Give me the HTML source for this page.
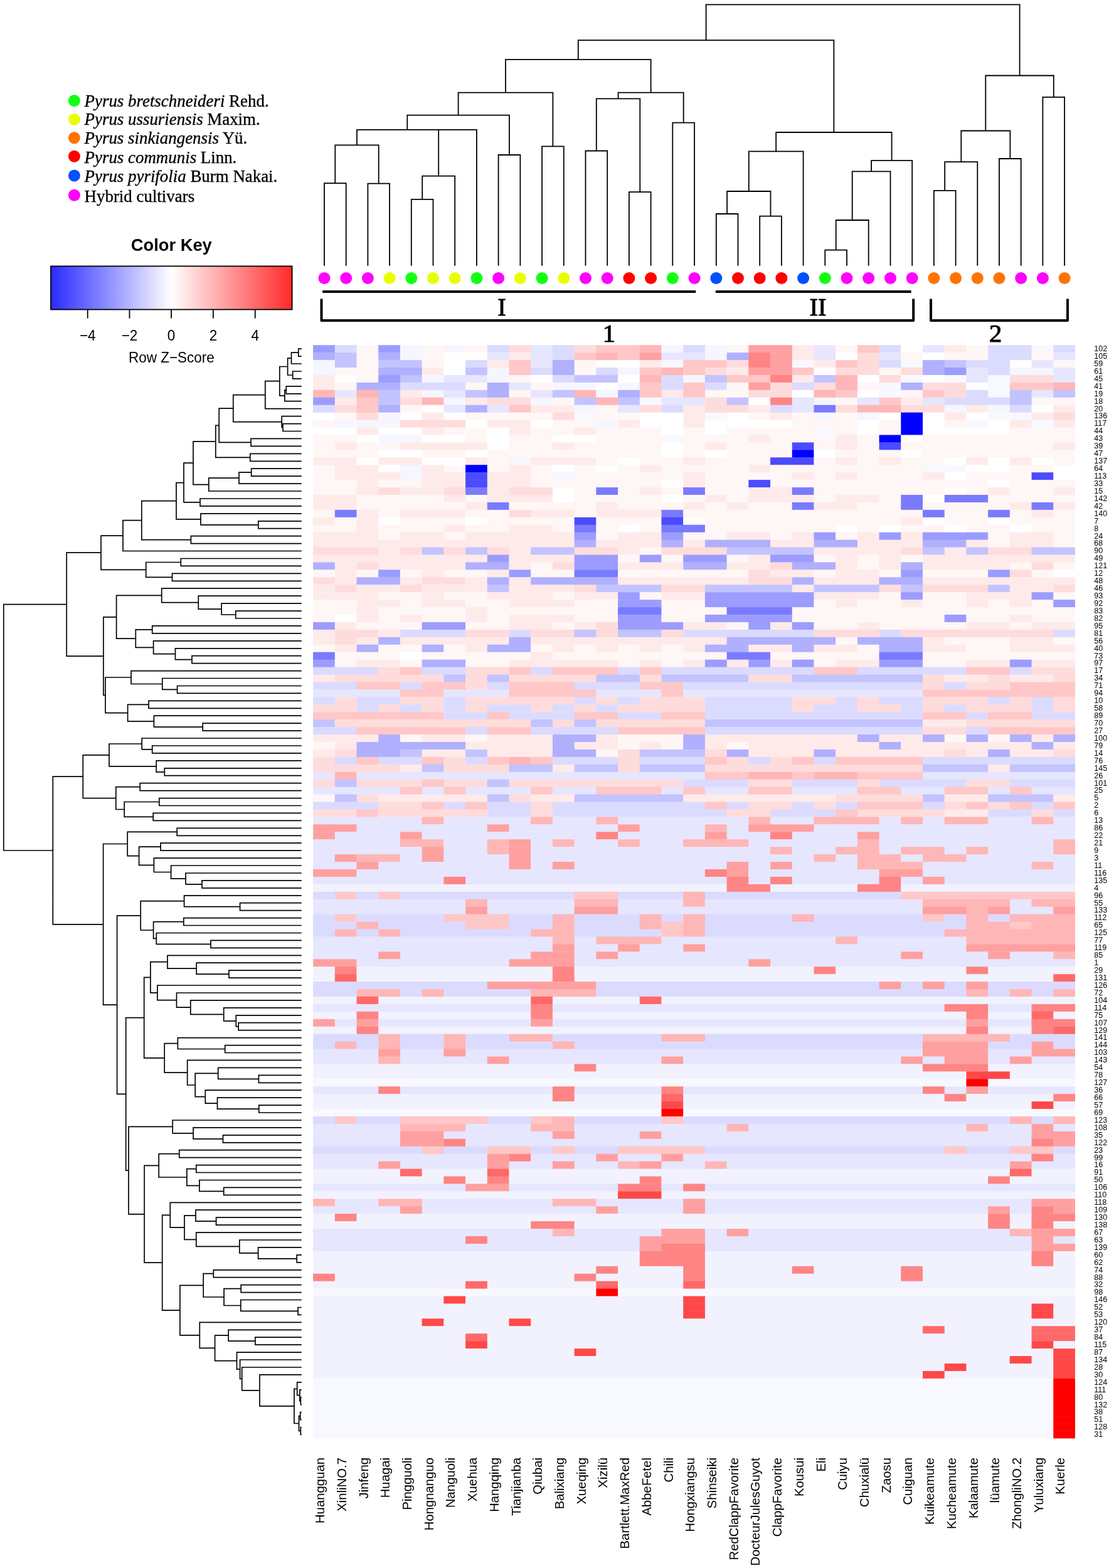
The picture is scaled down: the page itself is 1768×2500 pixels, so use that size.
<!DOCTYPE html><html><head><meta charset="utf-8"><title>Heatmap</title><style>html,body{margin:0;padding:0;background:#fff;}svg{display:block;}.s{font-family:"Liberation Sans",Arial,sans-serif;}.r{font-family:"Liberation Serif","Times New Roman",serif;}</style></head><body>
<svg width="1768" height="2500" viewBox="0 0 1768 2500">
<rect width="1768" height="2500" fill="#fff"/>
<g>
<rect x="499.10" y="550.20" width="35.11" height="12.34" fill="#9c9cff"/>
<rect x="533.81" y="550.20" width="35.11" height="12.34" fill="#dbdbff"/>
<rect x="568.52" y="550.20" width="35.11" height="12.34" fill="#fff6f6"/>
<rect x="603.23" y="550.20" width="35.11" height="12.34" fill="#9c9cff"/>
<rect x="637.95" y="550.20" width="35.11" height="12.34" fill="#f6f6ff"/>
<rect x="672.66" y="550.20" width="35.11" height="12.34" fill="#fff6f6"/>
<rect x="707.37" y="550.20" width="35.11" height="12.34" fill="#f6f6ff"/>
<rect x="742.08" y="550.20" width="35.11" height="12.34" fill="#fff6f6"/>
<rect x="776.79" y="550.20" width="35.11" height="12.34" fill="#dbdbff"/>
<rect x="811.50" y="550.20" width="35.11" height="12.34" fill="#ffdcdc"/>
<rect x="846.21" y="550.20" width="35.11" height="12.34" fill="#e6e6ff"/>
<rect x="880.93" y="550.20" width="35.11" height="12.34" fill="#dbdbff"/>
<rect x="915.64" y="550.20" width="35.11" height="12.34" fill="#ffdcdc"/>
<rect x="950.35" y="550.20" width="69.82" height="12.34" fill="#ffc7c7"/>
<rect x="1019.77" y="550.20" width="35.11" height="12.34" fill="#ffb6b6"/>
<rect x="1054.48" y="550.20" width="35.11" height="12.34" fill="#f6f6ff"/>
<rect x="1089.19" y="550.20" width="35.11" height="12.34" fill="#dbdbff"/>
<rect x="1123.91" y="550.20" width="35.11" height="12.34" fill="#f6f6ff"/>
<rect x="1158.62" y="550.20" width="35.11" height="12.34" fill="#fff6f6"/>
<rect x="1193.33" y="550.20" width="69.82" height="12.34" fill="#ffa0a0"/>
<rect x="1262.75" y="550.20" width="35.11" height="12.34" fill="#ffeaea"/>
<rect x="1297.46" y="550.20" width="35.11" height="12.34" fill="#e6e6ff"/>
<rect x="1332.17" y="550.20" width="35.11" height="12.34" fill="#fff6f6"/>
<rect x="1366.89" y="550.20" width="35.11" height="12.34" fill="#ffc7c7"/>
<rect x="1401.60" y="550.20" width="35.11" height="12.34" fill="#dbdbff"/>
<rect x="1436.31" y="550.20" width="35.11" height="12.34" fill="#ffffff"/>
<rect x="1471.02" y="550.20" width="35.11" height="12.34" fill="#e6e6ff"/>
<rect x="1505.73" y="550.20" width="35.11" height="12.34" fill="#ffeaea"/>
<rect x="1540.44" y="550.20" width="35.11" height="12.34" fill="#fff6f6"/>
<rect x="1575.15" y="550.20" width="69.82" height="12.34" fill="#dbdbff"/>
<rect x="1644.58" y="550.20" width="35.11" height="12.34" fill="#f8f8ff"/>
<rect x="1679.29" y="550.20" width="34.71" height="12.34" fill="#dbdbff"/>
<rect x="499.10" y="562.14" width="35.11" height="12.34" fill="#b0b0ff"/>
<rect x="533.81" y="562.14" width="35.11" height="12.34" fill="#c3c3ff"/>
<rect x="568.52" y="562.14" width="35.11" height="12.34" fill="#fff6f6"/>
<rect x="603.23" y="562.14" width="35.11" height="12.34" fill="#b0b0ff"/>
<rect x="637.95" y="562.14" width="35.11" height="12.34" fill="#f6f6ff"/>
<rect x="672.66" y="562.14" width="35.11" height="12.34" fill="#fff6f6"/>
<rect x="707.37" y="562.14" width="69.82" height="12.34" fill="#ffffff"/>
<rect x="776.79" y="562.14" width="35.11" height="12.34" fill="#e6e6ff"/>
<rect x="811.50" y="562.14" width="35.11" height="12.34" fill="#ffeaea"/>
<rect x="846.21" y="562.14" width="35.11" height="12.34" fill="#e6e6ff"/>
<rect x="880.93" y="562.14" width="35.11" height="12.34" fill="#dbdbff"/>
<rect x="915.64" y="562.14" width="35.11" height="12.34" fill="#ffc7c7"/>
<rect x="950.35" y="562.14" width="35.11" height="12.34" fill="#ffb6b6"/>
<rect x="985.06" y="562.14" width="35.11" height="12.34" fill="#ffc7c7"/>
<rect x="1019.77" y="562.14" width="35.11" height="12.34" fill="#ffa0a0"/>
<rect x="1054.48" y="562.14" width="69.82" height="12.34" fill="#e6e6ff"/>
<rect x="1123.91" y="562.14" width="35.11" height="12.34" fill="#f6f6ff"/>
<rect x="1158.62" y="562.14" width="35.11" height="12.34" fill="#b0b0ff"/>
<rect x="1193.33" y="562.14" width="35.11" height="12.34" fill="#ff8484"/>
<rect x="1228.04" y="562.14" width="35.11" height="12.34" fill="#ffa0a0"/>
<rect x="1262.75" y="562.14" width="35.11" height="12.34" fill="#ffeaea"/>
<rect x="1297.46" y="562.14" width="35.11" height="12.34" fill="#e6e6ff"/>
<rect x="1332.17" y="562.14" width="35.11" height="12.34" fill="#ffffff"/>
<rect x="1366.89" y="562.14" width="35.11" height="12.34" fill="#ffdcdc"/>
<rect x="1401.60" y="562.14" width="35.11" height="12.34" fill="#e6e6ff"/>
<rect x="1436.31" y="562.14" width="35.11" height="12.34" fill="#fff6f6"/>
<rect x="1471.02" y="562.14" width="35.11" height="12.34" fill="#ffffff"/>
<rect x="1505.73" y="562.14" width="69.82" height="12.34" fill="#fff6f6"/>
<rect x="1575.15" y="562.14" width="69.82" height="12.34" fill="#dbdbff"/>
<rect x="1644.58" y="562.14" width="35.11" height="12.34" fill="#fff6f6"/>
<rect x="1679.29" y="562.14" width="34.71" height="12.34" fill="#e6e6ff"/>
<rect x="499.10" y="574.08" width="35.11" height="12.34" fill="#f6f6ff"/>
<rect x="533.81" y="574.08" width="35.11" height="12.34" fill="#c3c3ff"/>
<rect x="568.52" y="574.08" width="35.11" height="12.34" fill="#fff6f6"/>
<rect x="603.23" y="574.08" width="69.82" height="12.34" fill="#c3c3ff"/>
<rect x="672.66" y="574.08" width="35.11" height="12.34" fill="#fff6f6"/>
<rect x="707.37" y="574.08" width="35.11" height="12.34" fill="#ffffff"/>
<rect x="742.08" y="574.08" width="35.11" height="12.34" fill="#dbdbff"/>
<rect x="776.79" y="574.08" width="35.11" height="12.34" fill="#ffeaea"/>
<rect x="811.50" y="574.08" width="35.11" height="12.34" fill="#ffc7c7"/>
<rect x="846.21" y="574.08" width="35.11" height="12.34" fill="#e6e6ff"/>
<rect x="880.93" y="574.08" width="35.11" height="12.34" fill="#b0b0ff"/>
<rect x="915.64" y="574.08" width="35.11" height="12.34" fill="#fff6f6"/>
<rect x="950.35" y="574.08" width="69.82" height="12.34" fill="#ffffff"/>
<rect x="1019.77" y="574.08" width="35.11" height="12.34" fill="#ffeaea"/>
<rect x="1054.48" y="574.08" width="35.11" height="12.34" fill="#f8f8ff"/>
<rect x="1089.19" y="574.08" width="69.82" height="12.34" fill="#ffc7c7"/>
<rect x="1158.62" y="574.08" width="35.11" height="12.34" fill="#ffdcdc"/>
<rect x="1193.33" y="574.08" width="35.11" height="12.34" fill="#ff8484"/>
<rect x="1228.04" y="574.08" width="35.11" height="12.34" fill="#ffa0a0"/>
<rect x="1262.75" y="574.08" width="35.11" height="12.34" fill="#f8f8ff"/>
<rect x="1297.46" y="574.08" width="35.11" height="12.34" fill="#ffeaea"/>
<rect x="1332.17" y="574.08" width="35.11" height="12.34" fill="#ffc7c7"/>
<rect x="1366.89" y="574.08" width="35.11" height="12.34" fill="#ffdcdc"/>
<rect x="1401.60" y="574.08" width="35.11" height="12.34" fill="#dbdbff"/>
<rect x="1436.31" y="574.08" width="35.11" height="12.34" fill="#f8f8ff"/>
<rect x="1471.02" y="574.08" width="35.11" height="12.34" fill="#b0b0ff"/>
<rect x="1505.73" y="574.08" width="35.11" height="12.34" fill="#c3c3ff"/>
<rect x="1540.44" y="574.08" width="69.82" height="12.34" fill="#dbdbff"/>
<rect x="1609.87" y="574.08" width="35.11" height="12.34" fill="#ffffff"/>
<rect x="1644.58" y="574.08" width="35.11" height="12.34" fill="#e6e6ff"/>
<rect x="1679.29" y="574.08" width="34.71" height="12.34" fill="#fff6f6"/>
<rect x="499.10" y="586.02" width="35.11" height="12.34" fill="#f6f6ff"/>
<rect x="533.81" y="586.02" width="69.82" height="12.34" fill="#fff6f6"/>
<rect x="603.23" y="586.02" width="69.82" height="12.34" fill="#b0b0ff"/>
<rect x="672.66" y="586.02" width="35.11" height="12.34" fill="#ffeaea"/>
<rect x="707.37" y="586.02" width="35.11" height="12.34" fill="#ffffff"/>
<rect x="742.08" y="586.02" width="35.11" height="12.34" fill="#c3c3ff"/>
<rect x="776.79" y="586.02" width="35.11" height="12.34" fill="#f6f6ff"/>
<rect x="811.50" y="586.02" width="35.11" height="12.34" fill="#ffc7c7"/>
<rect x="846.21" y="586.02" width="35.11" height="12.34" fill="#dbdbff"/>
<rect x="880.93" y="586.02" width="35.11" height="12.34" fill="#b0b0ff"/>
<rect x="915.64" y="586.02" width="35.11" height="12.34" fill="#fff6f6"/>
<rect x="950.35" y="586.02" width="35.11" height="12.34" fill="#dbdbff"/>
<rect x="985.06" y="586.02" width="35.11" height="12.34" fill="#f6f6ff"/>
<rect x="1019.77" y="586.02" width="35.11" height="12.34" fill="#ffc7c7"/>
<rect x="1054.48" y="586.02" width="35.11" height="12.34" fill="#ffb6b6"/>
<rect x="1089.19" y="586.02" width="35.11" height="12.34" fill="#ffc7c7"/>
<rect x="1123.91" y="586.02" width="35.11" height="12.34" fill="#ffdcdc"/>
<rect x="1158.62" y="586.02" width="35.11" height="12.34" fill="#ffeaea"/>
<rect x="1193.33" y="586.02" width="69.82" height="12.34" fill="#ffa0a0"/>
<rect x="1262.75" y="586.02" width="35.11" height="12.34" fill="#ffc7c7"/>
<rect x="1297.46" y="586.02" width="35.11" height="12.34" fill="#ffffff"/>
<rect x="1332.17" y="586.02" width="69.82" height="12.34" fill="#ffdcdc"/>
<rect x="1401.60" y="586.02" width="35.11" height="12.34" fill="#fff6f6"/>
<rect x="1436.31" y="586.02" width="35.11" height="12.34" fill="#ffdcdc"/>
<rect x="1471.02" y="586.02" width="35.11" height="12.34" fill="#b0b0ff"/>
<rect x="1505.73" y="586.02" width="35.11" height="12.34" fill="#9c9cff"/>
<rect x="1540.44" y="586.02" width="35.11" height="12.34" fill="#e6e6ff"/>
<rect x="1575.15" y="586.02" width="35.11" height="12.34" fill="#dbdbff"/>
<rect x="1609.87" y="586.02" width="69.82" height="12.34" fill="#f6f6ff"/>
<rect x="1679.29" y="586.02" width="34.71" height="12.34" fill="#e6e6ff"/>
<rect x="499.10" y="597.96" width="35.11" height="12.34" fill="#ffeaea"/>
<rect x="533.81" y="597.96" width="35.11" height="12.34" fill="#ffffff"/>
<rect x="568.52" y="597.96" width="35.11" height="12.34" fill="#fff6f6"/>
<rect x="603.23" y="597.96" width="35.11" height="12.34" fill="#9c9cff"/>
<rect x="637.95" y="597.96" width="35.11" height="12.34" fill="#c3c3ff"/>
<rect x="672.66" y="597.96" width="35.11" height="12.34" fill="#f6f6ff"/>
<rect x="707.37" y="597.96" width="69.82" height="12.34" fill="#e6e6ff"/>
<rect x="776.79" y="597.96" width="35.11" height="12.34" fill="#f6f6ff"/>
<rect x="811.50" y="597.96" width="35.11" height="12.34" fill="#fff6f6"/>
<rect x="846.21" y="597.96" width="35.11" height="12.34" fill="#ffffff"/>
<rect x="880.93" y="597.96" width="35.11" height="12.34" fill="#dbdbff"/>
<rect x="915.64" y="597.96" width="69.82" height="12.34" fill="#c3c3ff"/>
<rect x="985.06" y="597.96" width="35.11" height="12.34" fill="#ffffff"/>
<rect x="1019.77" y="597.96" width="35.11" height="12.34" fill="#ffb6b6"/>
<rect x="1054.48" y="597.96" width="35.11" height="12.34" fill="#dbdbff"/>
<rect x="1089.19" y="597.96" width="35.11" height="12.34" fill="#f6f6ff"/>
<rect x="1123.91" y="597.96" width="35.11" height="12.34" fill="#c3c3ff"/>
<rect x="1158.62" y="597.96" width="69.82" height="12.34" fill="#ffc7c7"/>
<rect x="1228.04" y="597.96" width="35.11" height="12.34" fill="#ff8484"/>
<rect x="1262.75" y="597.96" width="35.11" height="12.34" fill="#ffeaea"/>
<rect x="1297.46" y="597.96" width="35.11" height="12.34" fill="#c3c3ff"/>
<rect x="1332.17" y="597.96" width="35.11" height="12.34" fill="#ffb6b6"/>
<rect x="1366.89" y="597.96" width="35.11" height="12.34" fill="#ffffff"/>
<rect x="1401.60" y="597.96" width="35.11" height="12.34" fill="#ffdcdc"/>
<rect x="1436.31" y="597.96" width="35.11" height="12.34" fill="#f8f8ff"/>
<rect x="1471.02" y="597.96" width="35.11" height="12.34" fill="#ffffff"/>
<rect x="1505.73" y="597.96" width="35.11" height="12.34" fill="#f8f8ff"/>
<rect x="1540.44" y="597.96" width="35.11" height="12.34" fill="#e6e6ff"/>
<rect x="1575.15" y="597.96" width="35.11" height="12.34" fill="#f8f8ff"/>
<rect x="1609.87" y="597.96" width="69.82" height="12.34" fill="#ffdcdc"/>
<rect x="1679.29" y="597.96" width="34.71" height="12.34" fill="#e6e6ff"/>
<rect x="499.10" y="609.90" width="35.11" height="12.34" fill="#ffeaea"/>
<rect x="533.81" y="609.90" width="35.11" height="12.34" fill="#fff6f6"/>
<rect x="568.52" y="609.90" width="69.82" height="12.34" fill="#b0b0ff"/>
<rect x="637.95" y="609.90" width="104.53" height="12.34" fill="#dbdbff"/>
<rect x="742.08" y="609.90" width="35.11" height="12.34" fill="#fff6f6"/>
<rect x="776.79" y="609.90" width="35.11" height="12.34" fill="#b0b0ff"/>
<rect x="811.50" y="609.90" width="35.11" height="12.34" fill="#e6e6ff"/>
<rect x="846.21" y="609.90" width="35.11" height="12.34" fill="#fff6f6"/>
<rect x="880.93" y="609.90" width="69.82" height="12.34" fill="#f6f6ff"/>
<rect x="950.35" y="609.90" width="35.11" height="12.34" fill="#ffffff"/>
<rect x="985.06" y="609.90" width="35.11" height="12.34" fill="#f6f6ff"/>
<rect x="1019.77" y="609.90" width="35.11" height="12.34" fill="#ffc7c7"/>
<rect x="1054.48" y="609.90" width="35.11" height="12.34" fill="#dbdbff"/>
<rect x="1089.19" y="609.90" width="35.11" height="12.34" fill="#ffc7c7"/>
<rect x="1123.91" y="609.90" width="35.11" height="12.34" fill="#dbdbff"/>
<rect x="1158.62" y="609.90" width="35.11" height="12.34" fill="#fff6f6"/>
<rect x="1193.33" y="609.90" width="35.11" height="12.34" fill="#ffa0a0"/>
<rect x="1228.04" y="609.90" width="35.11" height="12.34" fill="#ffdcdc"/>
<rect x="1262.75" y="609.90" width="35.11" height="12.34" fill="#dbdbff"/>
<rect x="1297.46" y="609.90" width="35.11" height="12.34" fill="#ffdcdc"/>
<rect x="1332.17" y="609.90" width="35.11" height="12.34" fill="#ffb6b6"/>
<rect x="1366.89" y="609.90" width="35.11" height="12.34" fill="#fff6f6"/>
<rect x="1401.60" y="609.90" width="35.11" height="12.34" fill="#f8f8ff"/>
<rect x="1436.31" y="609.90" width="35.11" height="12.34" fill="#b0b0ff"/>
<rect x="1471.02" y="609.90" width="69.82" height="12.34" fill="#ffdcdc"/>
<rect x="1540.44" y="609.90" width="35.11" height="12.34" fill="#ffffff"/>
<rect x="1575.15" y="609.90" width="35.11" height="12.34" fill="#f8f8ff"/>
<rect x="1609.87" y="609.90" width="69.82" height="12.34" fill="#ffc7c7"/>
<rect x="1679.29" y="609.90" width="34.71" height="12.34" fill="#ffb6b6"/>
<rect x="499.10" y="621.84" width="35.11" height="12.34" fill="#ffb6b6"/>
<rect x="533.81" y="621.84" width="35.11" height="12.34" fill="#e6e6ff"/>
<rect x="568.52" y="621.84" width="35.11" height="12.34" fill="#ffb6b6"/>
<rect x="603.23" y="621.84" width="35.11" height="12.34" fill="#c3c3ff"/>
<rect x="637.95" y="621.84" width="35.11" height="12.34" fill="#ffeaea"/>
<rect x="672.66" y="621.84" width="35.11" height="12.34" fill="#f6f6ff"/>
<rect x="707.37" y="621.84" width="35.11" height="12.34" fill="#e6e6ff"/>
<rect x="742.08" y="621.84" width="35.11" height="12.34" fill="#c3c3ff"/>
<rect x="776.79" y="621.84" width="35.11" height="12.34" fill="#b0b0ff"/>
<rect x="811.50" y="621.84" width="35.11" height="12.34" fill="#fff6f6"/>
<rect x="846.21" y="621.84" width="35.11" height="12.34" fill="#e6e6ff"/>
<rect x="880.93" y="621.84" width="35.11" height="12.34" fill="#c3c3ff"/>
<rect x="915.64" y="621.84" width="35.11" height="12.34" fill="#ffb6b6"/>
<rect x="950.35" y="621.84" width="35.11" height="12.34" fill="#f6f6ff"/>
<rect x="985.06" y="621.84" width="35.11" height="12.34" fill="#b0b0ff"/>
<rect x="1019.77" y="621.84" width="35.11" height="12.34" fill="#ffc7c7"/>
<rect x="1054.48" y="621.84" width="35.11" height="12.34" fill="#ffeaea"/>
<rect x="1089.19" y="621.84" width="35.11" height="12.34" fill="#ffc7c7"/>
<rect x="1123.91" y="621.84" width="69.82" height="12.34" fill="#fff6f6"/>
<rect x="1193.33" y="621.84" width="69.82" height="12.34" fill="#ffdcdc"/>
<rect x="1262.75" y="621.84" width="35.11" height="12.34" fill="#ffffff"/>
<rect x="1297.46" y="621.84" width="35.11" height="12.34" fill="#ffb6b6"/>
<rect x="1332.17" y="621.84" width="35.11" height="12.34" fill="#ffc7c7"/>
<rect x="1366.89" y="621.84" width="35.11" height="12.34" fill="#ffffff"/>
<rect x="1401.60" y="621.84" width="35.11" height="12.34" fill="#f8f8ff"/>
<rect x="1436.31" y="621.84" width="35.11" height="12.34" fill="#fff6f6"/>
<rect x="1471.02" y="621.84" width="35.11" height="12.34" fill="#ffc7c7"/>
<rect x="1505.73" y="621.84" width="35.11" height="12.34" fill="#ffdcdc"/>
<rect x="1540.44" y="621.84" width="35.11" height="12.34" fill="#dbdbff"/>
<rect x="1575.15" y="621.84" width="35.11" height="12.34" fill="#f8f8ff"/>
<rect x="1609.87" y="621.84" width="35.11" height="12.34" fill="#c3c3ff"/>
<rect x="1644.58" y="621.84" width="35.11" height="12.34" fill="#e6e6ff"/>
<rect x="1679.29" y="621.84" width="34.71" height="12.34" fill="#c3c3ff"/>
<rect x="499.10" y="633.78" width="35.11" height="12.34" fill="#9c9cff"/>
<rect x="533.81" y="633.78" width="35.11" height="12.34" fill="#ffeaea"/>
<rect x="568.52" y="633.78" width="35.11" height="12.34" fill="#ffc7c7"/>
<rect x="603.23" y="633.78" width="35.11" height="12.34" fill="#c3c3ff"/>
<rect x="637.95" y="633.78" width="35.11" height="12.34" fill="#ffdcdc"/>
<rect x="672.66" y="633.78" width="35.11" height="12.34" fill="#ffb6b6"/>
<rect x="707.37" y="633.78" width="35.11" height="12.34" fill="#f6f6ff"/>
<rect x="742.08" y="633.78" width="35.11" height="12.34" fill="#ffeaea"/>
<rect x="776.79" y="633.78" width="69.82" height="12.34" fill="#ffdcdc"/>
<rect x="846.21" y="633.78" width="35.11" height="12.34" fill="#f6f6ff"/>
<rect x="880.93" y="633.78" width="35.11" height="12.34" fill="#fff6f6"/>
<rect x="915.64" y="633.78" width="35.11" height="12.34" fill="#c3c3ff"/>
<rect x="950.35" y="633.78" width="35.11" height="12.34" fill="#ffb6b6"/>
<rect x="985.06" y="633.78" width="35.11" height="12.34" fill="#c3c3ff"/>
<rect x="1019.77" y="633.78" width="35.11" height="12.34" fill="#f8f8ff"/>
<rect x="1054.48" y="633.78" width="69.82" height="12.34" fill="#e6e6ff"/>
<rect x="1123.91" y="633.78" width="35.11" height="12.34" fill="#ffdcdc"/>
<rect x="1158.62" y="633.78" width="35.11" height="12.34" fill="#c3c3ff"/>
<rect x="1193.33" y="633.78" width="35.11" height="12.34" fill="#ffffff"/>
<rect x="1228.04" y="633.78" width="35.11" height="12.34" fill="#ff8484"/>
<rect x="1262.75" y="633.78" width="35.11" height="12.34" fill="#e6e6ff"/>
<rect x="1297.46" y="633.78" width="35.11" height="12.34" fill="#f6f6ff"/>
<rect x="1332.17" y="633.78" width="35.11" height="12.34" fill="#fff6f6"/>
<rect x="1366.89" y="633.78" width="35.11" height="12.34" fill="#e6e6ff"/>
<rect x="1401.60" y="633.78" width="35.11" height="12.34" fill="#ffc7c7"/>
<rect x="1436.31" y="633.78" width="35.11" height="12.34" fill="#ffeaea"/>
<rect x="1471.02" y="633.78" width="35.11" height="12.34" fill="#e6e6ff"/>
<rect x="1505.73" y="633.78" width="104.53" height="12.34" fill="#dbdbff"/>
<rect x="1609.87" y="633.78" width="35.11" height="12.34" fill="#c3c3ff"/>
<rect x="1644.58" y="633.78" width="69.42" height="12.34" fill="#fff6f6"/>
<rect x="499.10" y="645.72" width="35.11" height="12.34" fill="#dbdbff"/>
<rect x="533.81" y="645.72" width="35.11" height="12.34" fill="#ffdcdc"/>
<rect x="568.52" y="645.72" width="35.11" height="12.34" fill="#ffc7c7"/>
<rect x="603.23" y="645.72" width="35.11" height="12.34" fill="#b0b0ff"/>
<rect x="637.95" y="645.72" width="35.11" height="12.34" fill="#fff6f6"/>
<rect x="672.66" y="645.72" width="35.11" height="12.34" fill="#ffffff"/>
<rect x="707.37" y="645.72" width="35.11" height="12.34" fill="#e6e6ff"/>
<rect x="742.08" y="645.72" width="35.11" height="12.34" fill="#b0b0ff"/>
<rect x="776.79" y="645.72" width="35.11" height="12.34" fill="#e6e6ff"/>
<rect x="811.50" y="645.72" width="35.11" height="12.34" fill="#ffc7c7"/>
<rect x="846.21" y="645.72" width="69.82" height="12.34" fill="#ffeaea"/>
<rect x="915.64" y="645.72" width="35.11" height="12.34" fill="#f6f6ff"/>
<rect x="950.35" y="645.72" width="35.11" height="12.34" fill="#fff6f6"/>
<rect x="985.06" y="645.72" width="35.11" height="12.34" fill="#e6e6ff"/>
<rect x="1019.77" y="645.72" width="35.11" height="12.34" fill="#ffdcdc"/>
<rect x="1054.48" y="645.72" width="35.11" height="12.34" fill="#dbdbff"/>
<rect x="1089.19" y="645.72" width="35.11" height="12.34" fill="#ffeaea"/>
<rect x="1123.91" y="645.72" width="69.82" height="12.34" fill="#ffdcdc"/>
<rect x="1193.33" y="645.72" width="35.11" height="12.34" fill="#ffeaea"/>
<rect x="1228.04" y="645.72" width="35.11" height="12.34" fill="#dbdbff"/>
<rect x="1262.75" y="645.72" width="35.11" height="12.34" fill="#e6e6ff"/>
<rect x="1297.46" y="645.72" width="35.11" height="12.34" fill="#7a7aff"/>
<rect x="1332.17" y="645.72" width="35.11" height="12.34" fill="#ffdcdc"/>
<rect x="1366.89" y="645.72" width="69.82" height="12.34" fill="#ffb6b6"/>
<rect x="1436.31" y="645.72" width="69.82" height="12.34" fill="#ffdcdc"/>
<rect x="1505.73" y="645.72" width="35.11" height="12.34" fill="#f6f6ff"/>
<rect x="1540.44" y="645.72" width="35.11" height="12.34" fill="#ffeaea"/>
<rect x="1575.15" y="645.72" width="35.11" height="12.34" fill="#f6f6ff"/>
<rect x="1609.87" y="645.72" width="35.11" height="12.34" fill="#dbdbff"/>
<rect x="1644.58" y="645.72" width="35.11" height="12.34" fill="#ffffff"/>
<rect x="1679.29" y="645.72" width="34.71" height="12.34" fill="#ffeaea"/>
<rect x="499.10" y="657.66" width="35.11" height="12.34" fill="#ffffff"/>
<rect x="533.81" y="657.66" width="35.11" height="12.34" fill="#fff6f6"/>
<rect x="568.52" y="657.66" width="35.11" height="12.34" fill="#ffdcdc"/>
<rect x="603.23" y="657.66" width="35.11" height="12.34" fill="#f6f6ff"/>
<rect x="637.95" y="657.66" width="35.11" height="12.34" fill="#ffffff"/>
<rect x="672.66" y="657.66" width="35.11" height="12.34" fill="#ffeaea"/>
<rect x="707.37" y="657.66" width="35.11" height="12.34" fill="#ffffff"/>
<rect x="742.08" y="657.66" width="139.25" height="12.34" fill="#fff6f6"/>
<rect x="880.93" y="657.66" width="35.11" height="12.34" fill="#ffdcdc"/>
<rect x="915.64" y="657.66" width="35.11" height="12.34" fill="#f8f8ff"/>
<rect x="950.35" y="657.66" width="69.82" height="12.34" fill="#fff6f6"/>
<rect x="1019.77" y="657.66" width="69.82" height="12.34" fill="#ffffff"/>
<rect x="1089.19" y="657.66" width="35.11" height="12.34" fill="#ffeaea"/>
<rect x="1123.91" y="657.66" width="35.11" height="12.34" fill="#f8f8ff"/>
<rect x="1158.62" y="657.66" width="35.11" height="12.34" fill="#ffffff"/>
<rect x="1193.33" y="657.66" width="35.11" height="12.34" fill="#fff6f6"/>
<rect x="1228.04" y="657.66" width="35.11" height="12.34" fill="#ffeaea"/>
<rect x="1262.75" y="657.66" width="35.11" height="12.34" fill="#fff6f6"/>
<rect x="1297.46" y="657.66" width="35.11" height="12.34" fill="#f6f6ff"/>
<rect x="1332.17" y="657.66" width="35.11" height="12.34" fill="#fff6f6"/>
<rect x="1366.89" y="657.66" width="35.11" height="12.34" fill="#f6f6ff"/>
<rect x="1401.60" y="657.66" width="35.11" height="12.34" fill="#ffffff"/>
<rect x="1436.31" y="657.66" width="35.11" height="12.34" fill="#0000ff"/>
<rect x="1471.02" y="657.66" width="35.11" height="12.34" fill="#ffffff"/>
<rect x="1505.73" y="657.66" width="35.11" height="12.34" fill="#ffeaea"/>
<rect x="1540.44" y="657.66" width="35.11" height="12.34" fill="#ffffff"/>
<rect x="1575.15" y="657.66" width="69.82" height="12.34" fill="#f8f8ff"/>
<rect x="1644.58" y="657.66" width="35.11" height="12.34" fill="#ffeaea"/>
<rect x="1679.29" y="657.66" width="34.71" height="12.34" fill="#ffdcdc"/>
<rect x="499.10" y="669.60" width="35.11" height="12.34" fill="#fff6f6"/>
<rect x="533.81" y="669.60" width="104.53" height="12.34" fill="#f6f6ff"/>
<rect x="637.95" y="669.60" width="104.53" height="12.34" fill="#ffdcdc"/>
<rect x="742.08" y="669.60" width="35.11" height="12.34" fill="#ffffff"/>
<rect x="776.79" y="669.60" width="69.82" height="12.34" fill="#ffeaea"/>
<rect x="846.21" y="669.60" width="35.11" height="12.34" fill="#ffffff"/>
<rect x="880.93" y="669.60" width="69.82" height="12.34" fill="#fff6f6"/>
<rect x="950.35" y="669.60" width="35.11" height="12.34" fill="#f6f6ff"/>
<rect x="985.06" y="669.60" width="35.11" height="12.34" fill="#ffeaea"/>
<rect x="1019.77" y="669.60" width="69.82" height="12.34" fill="#ffffff"/>
<rect x="1089.19" y="669.60" width="35.11" height="12.34" fill="#ffeaea"/>
<rect x="1123.91" y="669.60" width="139.25" height="12.34" fill="#ffffff"/>
<rect x="1262.75" y="669.60" width="104.53" height="12.34" fill="#fff6f6"/>
<rect x="1366.89" y="669.60" width="35.11" height="12.34" fill="#ffffff"/>
<rect x="1401.60" y="669.60" width="35.11" height="12.34" fill="#fff6f6"/>
<rect x="1436.31" y="669.60" width="35.11" height="12.34" fill="#0000ff"/>
<rect x="1471.02" y="669.60" width="35.11" height="12.34" fill="#ffffff"/>
<rect x="1505.73" y="669.60" width="35.11" height="12.34" fill="#fff6f6"/>
<rect x="1540.44" y="669.60" width="35.11" height="12.34" fill="#f8f8ff"/>
<rect x="1575.15" y="669.60" width="35.11" height="12.34" fill="#ffffff"/>
<rect x="1609.87" y="669.60" width="35.11" height="12.34" fill="#ffeaea"/>
<rect x="1644.58" y="669.60" width="35.11" height="12.34" fill="#f8f8ff"/>
<rect x="1679.29" y="669.60" width="34.71" height="12.34" fill="#ffeaea"/>
<rect x="499.10" y="681.54" width="69.82" height="12.34" fill="#ffffff"/>
<rect x="568.52" y="681.54" width="35.11" height="12.34" fill="#ffeaea"/>
<rect x="603.23" y="681.54" width="69.82" height="12.34" fill="#ffffff"/>
<rect x="672.66" y="681.54" width="35.11" height="12.34" fill="#ffeaea"/>
<rect x="707.37" y="681.54" width="69.82" height="12.34" fill="#fff6f6"/>
<rect x="776.79" y="681.54" width="35.11" height="12.34" fill="#ffffff"/>
<rect x="811.50" y="681.54" width="35.11" height="12.34" fill="#ffeaea"/>
<rect x="846.21" y="681.54" width="69.82" height="12.34" fill="#fff6f6"/>
<rect x="915.64" y="681.54" width="35.11" height="12.34" fill="#ffeaea"/>
<rect x="950.35" y="681.54" width="104.53" height="12.34" fill="#fff6f6"/>
<rect x="1054.48" y="681.54" width="35.11" height="12.34" fill="#ffffff"/>
<rect x="1089.19" y="681.54" width="35.11" height="12.34" fill="#fff6f6"/>
<rect x="1123.91" y="681.54" width="35.11" height="12.34" fill="#ffffff"/>
<rect x="1158.62" y="681.54" width="139.25" height="12.34" fill="#fff6f6"/>
<rect x="1297.46" y="681.54" width="35.11" height="12.34" fill="#f8f8ff"/>
<rect x="1332.17" y="681.54" width="35.11" height="12.34" fill="#fff6f6"/>
<rect x="1366.89" y="681.54" width="35.11" height="12.34" fill="#ffffff"/>
<rect x="1401.60" y="681.54" width="35.11" height="12.34" fill="#fff6f6"/>
<rect x="1436.31" y="681.54" width="35.11" height="12.34" fill="#0000ff"/>
<rect x="1471.02" y="681.54" width="139.25" height="12.34" fill="#ffffff"/>
<rect x="1609.87" y="681.54" width="104.13" height="12.34" fill="#fff6f6"/>
<rect x="499.10" y="693.48" width="69.82" height="12.34" fill="#fff6f6"/>
<rect x="568.52" y="693.48" width="35.11" height="12.34" fill="#ffffff"/>
<rect x="603.23" y="693.48" width="69.82" height="12.34" fill="#f6f6ff"/>
<rect x="672.66" y="693.48" width="69.82" height="12.34" fill="#ffffff"/>
<rect x="742.08" y="693.48" width="35.11" height="12.34" fill="#fff6f6"/>
<rect x="776.79" y="693.48" width="35.11" height="12.34" fill="#ffffff"/>
<rect x="811.50" y="693.48" width="69.82" height="12.34" fill="#fff6f6"/>
<rect x="880.93" y="693.48" width="69.82" height="12.34" fill="#ffffff"/>
<rect x="950.35" y="693.48" width="104.53" height="12.34" fill="#fff6f6"/>
<rect x="1054.48" y="693.48" width="35.11" height="12.34" fill="#f8f8ff"/>
<rect x="1089.19" y="693.48" width="104.53" height="12.34" fill="#fff6f6"/>
<rect x="1193.33" y="693.48" width="35.11" height="12.34" fill="#ffeaea"/>
<rect x="1228.04" y="693.48" width="104.53" height="12.34" fill="#fff6f6"/>
<rect x="1332.17" y="693.48" width="35.11" height="12.34" fill="#ffeaea"/>
<rect x="1366.89" y="693.48" width="35.11" height="12.34" fill="#fff6f6"/>
<rect x="1401.60" y="693.48" width="35.11" height="12.34" fill="#0000ff"/>
<rect x="1436.31" y="693.48" width="35.11" height="12.34" fill="#ffffff"/>
<rect x="1471.02" y="693.48" width="242.98" height="12.34" fill="#fff6f6"/>
<rect x="499.10" y="705.42" width="35.11" height="12.34" fill="#fff6f6"/>
<rect x="533.81" y="705.42" width="35.11" height="12.34" fill="#ffeaea"/>
<rect x="568.52" y="705.42" width="69.82" height="12.34" fill="#fff6f6"/>
<rect x="637.95" y="705.42" width="139.25" height="12.34" fill="#ffeaea"/>
<rect x="776.79" y="705.42" width="35.11" height="12.34" fill="#ffffff"/>
<rect x="811.50" y="705.42" width="69.82" height="12.34" fill="#fff6f6"/>
<rect x="880.93" y="705.42" width="35.11" height="12.34" fill="#ffeaea"/>
<rect x="915.64" y="705.42" width="139.25" height="12.34" fill="#fff6f6"/>
<rect x="1054.48" y="705.42" width="35.11" height="12.34" fill="#ffffff"/>
<rect x="1089.19" y="705.42" width="35.11" height="12.34" fill="#fff6f6"/>
<rect x="1123.91" y="705.42" width="35.11" height="12.34" fill="#ffeaea"/>
<rect x="1158.62" y="705.42" width="104.53" height="12.34" fill="#fff6f6"/>
<rect x="1262.75" y="705.42" width="35.11" height="12.34" fill="#4b4bff"/>
<rect x="1297.46" y="705.42" width="35.11" height="12.34" fill="#fff6f6"/>
<rect x="1332.17" y="705.42" width="35.11" height="12.34" fill="#ffeaea"/>
<rect x="1366.89" y="705.42" width="35.11" height="12.34" fill="#fff6f6"/>
<rect x="1401.60" y="705.42" width="35.11" height="12.34" fill="#4b4bff"/>
<rect x="1436.31" y="705.42" width="243.38" height="12.34" fill="#fff6f6"/>
<rect x="1679.29" y="705.42" width="34.71" height="12.34" fill="#ffeaea"/>
<rect x="499.10" y="717.36" width="104.53" height="12.34" fill="#fff6f6"/>
<rect x="603.23" y="717.36" width="69.82" height="12.34" fill="#ffffff"/>
<rect x="672.66" y="717.36" width="69.82" height="12.34" fill="#fff6f6"/>
<rect x="742.08" y="717.36" width="35.11" height="12.34" fill="#ffffff"/>
<rect x="776.79" y="717.36" width="278.09" height="12.34" fill="#fff6f6"/>
<rect x="1054.48" y="717.36" width="35.11" height="12.34" fill="#ffffff"/>
<rect x="1089.19" y="717.36" width="35.11" height="12.34" fill="#fff6f6"/>
<rect x="1123.91" y="717.36" width="35.11" height="12.34" fill="#ffffff"/>
<rect x="1158.62" y="717.36" width="104.53" height="12.34" fill="#fff6f6"/>
<rect x="1262.75" y="717.36" width="35.11" height="12.34" fill="#0000ff"/>
<rect x="1297.46" y="717.36" width="35.11" height="12.34" fill="#ffffff"/>
<rect x="1332.17" y="717.36" width="104.53" height="12.34" fill="#fff6f6"/>
<rect x="1436.31" y="717.36" width="35.11" height="12.34" fill="#ffffff"/>
<rect x="1471.02" y="717.36" width="242.98" height="12.34" fill="#fff6f6"/>
<rect x="499.10" y="729.30" width="69.82" height="12.34" fill="#ffeaea"/>
<rect x="568.52" y="729.30" width="35.11" height="12.34" fill="#ffffff"/>
<rect x="603.23" y="729.30" width="69.82" height="12.34" fill="#ffeaea"/>
<rect x="672.66" y="729.30" width="69.82" height="12.34" fill="#ffffff"/>
<rect x="742.08" y="729.30" width="35.11" height="12.34" fill="#ffeaea"/>
<rect x="776.79" y="729.30" width="35.11" height="12.34" fill="#fff6f6"/>
<rect x="811.50" y="729.30" width="35.11" height="12.34" fill="#f6f6ff"/>
<rect x="846.21" y="729.30" width="104.53" height="12.34" fill="#ffeaea"/>
<rect x="950.35" y="729.30" width="35.11" height="12.34" fill="#fff6f6"/>
<rect x="985.06" y="729.30" width="35.11" height="12.34" fill="#ffffff"/>
<rect x="1019.77" y="729.30" width="69.82" height="12.34" fill="#fff6f6"/>
<rect x="1089.19" y="729.30" width="35.11" height="12.34" fill="#ffeaea"/>
<rect x="1123.91" y="729.30" width="104.53" height="12.34" fill="#fff6f6"/>
<rect x="1228.04" y="729.30" width="69.82" height="12.34" fill="#4b4bff"/>
<rect x="1297.46" y="729.30" width="35.11" height="12.34" fill="#fff6f6"/>
<rect x="1332.17" y="729.30" width="35.11" height="12.34" fill="#ffeaea"/>
<rect x="1366.89" y="729.30" width="35.11" height="12.34" fill="#fff6f6"/>
<rect x="1401.60" y="729.30" width="35.11" height="12.34" fill="#ffeaea"/>
<rect x="1436.31" y="729.30" width="69.82" height="12.34" fill="#fff6f6"/>
<rect x="1505.73" y="729.30" width="35.11" height="12.34" fill="#ffffff"/>
<rect x="1540.44" y="729.30" width="35.11" height="12.34" fill="#ffeaea"/>
<rect x="1575.15" y="729.30" width="35.11" height="12.34" fill="#ffffff"/>
<rect x="1609.87" y="729.30" width="35.11" height="12.34" fill="#ffeaea"/>
<rect x="1644.58" y="729.30" width="35.11" height="12.34" fill="#ffffff"/>
<rect x="1679.29" y="729.30" width="34.71" height="12.34" fill="#fff6f6"/>
<rect x="499.10" y="741.24" width="35.11" height="12.34" fill="#fff6f6"/>
<rect x="533.81" y="741.24" width="69.82" height="12.34" fill="#ffeaea"/>
<rect x="603.23" y="741.24" width="35.11" height="12.34" fill="#ffffff"/>
<rect x="637.95" y="741.24" width="35.11" height="12.34" fill="#f6f6ff"/>
<rect x="672.66" y="741.24" width="35.11" height="12.34" fill="#ffeaea"/>
<rect x="707.37" y="741.24" width="35.11" height="12.34" fill="#fff6f6"/>
<rect x="742.08" y="741.24" width="35.11" height="12.34" fill="#0000ff"/>
<rect x="776.79" y="741.24" width="35.11" height="12.34" fill="#fff6f6"/>
<rect x="811.50" y="741.24" width="35.11" height="12.34" fill="#ffeaea"/>
<rect x="846.21" y="741.24" width="35.11" height="12.34" fill="#fff6f6"/>
<rect x="880.93" y="741.24" width="35.11" height="12.34" fill="#ffffff"/>
<rect x="915.64" y="741.24" width="35.11" height="12.34" fill="#fff6f6"/>
<rect x="950.35" y="741.24" width="35.11" height="12.34" fill="#ffffff"/>
<rect x="985.06" y="741.24" width="35.11" height="12.34" fill="#fff6f6"/>
<rect x="1019.77" y="741.24" width="35.11" height="12.34" fill="#ffeaea"/>
<rect x="1054.48" y="741.24" width="139.25" height="12.34" fill="#fff6f6"/>
<rect x="1193.33" y="741.24" width="35.11" height="12.34" fill="#ffeaea"/>
<rect x="1228.04" y="741.24" width="243.38" height="12.34" fill="#fff6f6"/>
<rect x="1471.02" y="741.24" width="69.82" height="12.34" fill="#f8f8ff"/>
<rect x="1540.44" y="741.24" width="69.82" height="12.34" fill="#ffffff"/>
<rect x="1609.87" y="741.24" width="69.82" height="12.34" fill="#fff6f6"/>
<rect x="1679.29" y="741.24" width="34.71" height="12.34" fill="#ffffff"/>
<rect x="499.10" y="753.18" width="35.11" height="12.34" fill="#fff6f6"/>
<rect x="533.81" y="753.18" width="104.53" height="12.34" fill="#ffeaea"/>
<rect x="637.95" y="753.18" width="35.11" height="12.34" fill="#f6f6ff"/>
<rect x="672.66" y="753.18" width="69.82" height="12.34" fill="#ffeaea"/>
<rect x="742.08" y="753.18" width="35.11" height="12.34" fill="#4b4bff"/>
<rect x="776.79" y="753.18" width="69.82" height="12.34" fill="#ffeaea"/>
<rect x="846.21" y="753.18" width="35.11" height="12.34" fill="#fff6f6"/>
<rect x="880.93" y="753.18" width="35.11" height="12.34" fill="#f6f6ff"/>
<rect x="915.64" y="753.18" width="173.96" height="12.34" fill="#fff6f6"/>
<rect x="1089.19" y="753.18" width="35.11" height="12.34" fill="#ffeaea"/>
<rect x="1123.91" y="753.18" width="139.25" height="12.34" fill="#fff6f6"/>
<rect x="1262.75" y="753.18" width="35.11" height="12.34" fill="#ffeaea"/>
<rect x="1297.46" y="753.18" width="35.11" height="12.34" fill="#fff6f6"/>
<rect x="1332.17" y="753.18" width="35.11" height="12.34" fill="#ffeaea"/>
<rect x="1366.89" y="753.18" width="104.53" height="12.34" fill="#fff6f6"/>
<rect x="1471.02" y="753.18" width="35.11" height="12.34" fill="#ffeaea"/>
<rect x="1505.73" y="753.18" width="35.11" height="12.34" fill="#ffffff"/>
<rect x="1540.44" y="753.18" width="104.53" height="12.34" fill="#fff6f6"/>
<rect x="1644.58" y="753.18" width="35.11" height="12.34" fill="#4b4bff"/>
<rect x="1679.29" y="753.18" width="34.71" height="12.34" fill="#ffffff"/>
<rect x="499.10" y="765.12" width="69.82" height="12.34" fill="#fff6f6"/>
<rect x="568.52" y="765.12" width="35.11" height="12.34" fill="#ffeaea"/>
<rect x="603.23" y="765.12" width="69.82" height="12.34" fill="#fff6f6"/>
<rect x="672.66" y="765.12" width="69.82" height="12.34" fill="#ffeaea"/>
<rect x="742.08" y="765.12" width="35.11" height="12.34" fill="#4b4bff"/>
<rect x="776.79" y="765.12" width="69.82" height="12.34" fill="#ffeaea"/>
<rect x="846.21" y="765.12" width="208.67" height="12.34" fill="#fff6f6"/>
<rect x="1054.48" y="765.12" width="35.11" height="12.34" fill="#ffffff"/>
<rect x="1089.19" y="765.12" width="35.11" height="12.34" fill="#ffeaea"/>
<rect x="1123.91" y="765.12" width="69.82" height="12.34" fill="#fff6f6"/>
<rect x="1193.33" y="765.12" width="35.11" height="12.34" fill="#4b4bff"/>
<rect x="1228.04" y="765.12" width="347.51" height="12.34" fill="#fff6f6"/>
<rect x="1575.15" y="765.12" width="35.11" height="12.34" fill="#ffffff"/>
<rect x="1609.87" y="765.12" width="104.13" height="12.34" fill="#fff6f6"/>
<rect x="499.10" y="777.05" width="69.82" height="12.34" fill="#fff6f6"/>
<rect x="568.52" y="777.05" width="35.11" height="12.34" fill="#ffeaea"/>
<rect x="603.23" y="777.05" width="35.11" height="12.34" fill="#ffdcdc"/>
<rect x="637.95" y="777.05" width="69.82" height="12.34" fill="#ffeaea"/>
<rect x="707.37" y="777.05" width="35.11" height="12.34" fill="#ffdcdc"/>
<rect x="742.08" y="777.05" width="35.11" height="12.34" fill="#7a7aff"/>
<rect x="776.79" y="777.05" width="35.11" height="12.34" fill="#ffeaea"/>
<rect x="811.50" y="777.05" width="69.82" height="12.34" fill="#ffdcdc"/>
<rect x="880.93" y="777.05" width="35.11" height="12.34" fill="#ffffff"/>
<rect x="915.64" y="777.05" width="35.11" height="12.34" fill="#fff6f6"/>
<rect x="950.35" y="777.05" width="35.11" height="12.34" fill="#7a7aff"/>
<rect x="985.06" y="777.05" width="35.11" height="12.34" fill="#fff6f6"/>
<rect x="1019.77" y="777.05" width="35.11" height="12.34" fill="#ffeaea"/>
<rect x="1054.48" y="777.05" width="35.11" height="12.34" fill="#fff6f6"/>
<rect x="1089.19" y="777.05" width="35.11" height="12.34" fill="#7a7aff"/>
<rect x="1123.91" y="777.05" width="69.82" height="12.34" fill="#fff6f6"/>
<rect x="1193.33" y="777.05" width="69.82" height="12.34" fill="#ffeaea"/>
<rect x="1262.75" y="777.05" width="35.11" height="12.34" fill="#7a7aff"/>
<rect x="1297.46" y="777.05" width="208.67" height="12.34" fill="#fff6f6"/>
<rect x="1505.73" y="777.05" width="35.11" height="12.34" fill="#ffffff"/>
<rect x="1540.44" y="777.05" width="35.11" height="12.34" fill="#fff6f6"/>
<rect x="1575.15" y="777.05" width="35.11" height="12.34" fill="#ffeaea"/>
<rect x="1609.87" y="777.05" width="69.82" height="12.34" fill="#fff6f6"/>
<rect x="1679.29" y="777.05" width="34.71" height="12.34" fill="#ffeaea"/>
<rect x="499.10" y="788.99" width="69.82" height="12.34" fill="#ffeaea"/>
<rect x="568.52" y="788.99" width="139.25" height="12.34" fill="#fff6f6"/>
<rect x="707.37" y="788.99" width="35.11" height="12.34" fill="#ffeaea"/>
<rect x="742.08" y="788.99" width="35.11" height="12.34" fill="#fff6f6"/>
<rect x="776.79" y="788.99" width="104.53" height="12.34" fill="#ffeaea"/>
<rect x="880.93" y="788.99" width="35.11" height="12.34" fill="#ffffff"/>
<rect x="915.64" y="788.99" width="139.25" height="12.34" fill="#fff6f6"/>
<rect x="1054.48" y="788.99" width="35.11" height="12.34" fill="#ffffff"/>
<rect x="1089.19" y="788.99" width="35.11" height="12.34" fill="#fff6f6"/>
<rect x="1123.91" y="788.99" width="35.11" height="12.34" fill="#ffeaea"/>
<rect x="1158.62" y="788.99" width="35.11" height="12.34" fill="#fff6f6"/>
<rect x="1193.33" y="788.99" width="104.53" height="12.34" fill="#ffeaea"/>
<rect x="1297.46" y="788.99" width="35.11" height="12.34" fill="#fff6f6"/>
<rect x="1332.17" y="788.99" width="69.82" height="12.34" fill="#ffeaea"/>
<rect x="1401.60" y="788.99" width="35.11" height="12.34" fill="#fff6f6"/>
<rect x="1436.31" y="788.99" width="35.11" height="12.34" fill="#7a7aff"/>
<rect x="1471.02" y="788.99" width="35.11" height="12.34" fill="#ffffff"/>
<rect x="1505.73" y="788.99" width="69.82" height="12.34" fill="#7a7aff"/>
<rect x="1575.15" y="788.99" width="138.85" height="12.34" fill="#fff6f6"/>
<rect x="499.10" y="800.93" width="69.82" height="12.34" fill="#ffeaea"/>
<rect x="568.52" y="800.93" width="173.96" height="12.34" fill="#fff6f6"/>
<rect x="742.08" y="800.93" width="35.11" height="12.34" fill="#ffeaea"/>
<rect x="776.79" y="800.93" width="35.11" height="12.34" fill="#7a7aff"/>
<rect x="811.50" y="800.93" width="139.25" height="12.34" fill="#fff6f6"/>
<rect x="950.35" y="800.93" width="35.11" height="12.34" fill="#ffeaea"/>
<rect x="985.06" y="800.93" width="104.53" height="12.34" fill="#fff6f6"/>
<rect x="1089.19" y="800.93" width="35.11" height="12.34" fill="#ffeaea"/>
<rect x="1123.91" y="800.93" width="35.11" height="12.34" fill="#fff6f6"/>
<rect x="1158.62" y="800.93" width="35.11" height="12.34" fill="#ffeaea"/>
<rect x="1193.33" y="800.93" width="69.82" height="12.34" fill="#fff6f6"/>
<rect x="1262.75" y="800.93" width="35.11" height="12.34" fill="#7a7aff"/>
<rect x="1297.46" y="800.93" width="69.82" height="12.34" fill="#ffeaea"/>
<rect x="1366.89" y="800.93" width="69.82" height="12.34" fill="#fff6f6"/>
<rect x="1436.31" y="800.93" width="35.11" height="12.34" fill="#7a7aff"/>
<rect x="1471.02" y="800.93" width="139.25" height="12.34" fill="#fff6f6"/>
<rect x="1609.87" y="800.93" width="35.11" height="12.34" fill="#ffeaea"/>
<rect x="1644.58" y="800.93" width="35.11" height="12.34" fill="#7a7aff"/>
<rect x="1679.29" y="800.93" width="34.71" height="12.34" fill="#ffeaea"/>
<rect x="499.10" y="812.87" width="35.11" height="12.34" fill="#fff6f6"/>
<rect x="533.81" y="812.87" width="35.11" height="12.34" fill="#7a7aff"/>
<rect x="568.52" y="812.87" width="35.11" height="12.34" fill="#ffeaea"/>
<rect x="603.23" y="812.87" width="35.11" height="12.34" fill="#fff6f6"/>
<rect x="637.95" y="812.87" width="104.53" height="12.34" fill="#ffeaea"/>
<rect x="742.08" y="812.87" width="69.82" height="12.34" fill="#fff6f6"/>
<rect x="811.50" y="812.87" width="35.11" height="12.34" fill="#ffdcdc"/>
<rect x="846.21" y="812.87" width="69.82" height="12.34" fill="#ffeaea"/>
<rect x="915.64" y="812.87" width="35.11" height="12.34" fill="#fff6f6"/>
<rect x="950.35" y="812.87" width="104.53" height="12.34" fill="#ffeaea"/>
<rect x="1054.48" y="812.87" width="35.11" height="12.34" fill="#7a7aff"/>
<rect x="1089.19" y="812.87" width="382.23" height="12.34" fill="#fff6f6"/>
<rect x="1471.02" y="812.87" width="35.11" height="12.34" fill="#7a7aff"/>
<rect x="1505.73" y="812.87" width="69.82" height="12.34" fill="#fff6f6"/>
<rect x="1575.15" y="812.87" width="35.11" height="12.34" fill="#7a7aff"/>
<rect x="1609.87" y="812.87" width="35.11" height="12.34" fill="#fff6f6"/>
<rect x="1644.58" y="812.87" width="35.11" height="12.34" fill="#ffeaea"/>
<rect x="1679.29" y="812.87" width="34.71" height="12.34" fill="#fff6f6"/>
<rect x="499.10" y="824.81" width="35.11" height="12.34" fill="#ffeaea"/>
<rect x="533.81" y="824.81" width="35.11" height="12.34" fill="#fff6f6"/>
<rect x="568.52" y="824.81" width="35.11" height="12.34" fill="#ffeaea"/>
<rect x="603.23" y="824.81" width="35.11" height="12.34" fill="#ffffff"/>
<rect x="637.95" y="824.81" width="104.53" height="12.34" fill="#fff6f6"/>
<rect x="742.08" y="824.81" width="35.11" height="12.34" fill="#ffffff"/>
<rect x="776.79" y="824.81" width="139.25" height="12.34" fill="#fff6f6"/>
<rect x="915.64" y="824.81" width="35.11" height="12.34" fill="#4b4bff"/>
<rect x="950.35" y="824.81" width="104.53" height="12.34" fill="#fff6f6"/>
<rect x="1054.48" y="824.81" width="35.11" height="12.34" fill="#4b4bff"/>
<rect x="1089.19" y="824.81" width="35.11" height="12.34" fill="#ffffff"/>
<rect x="1123.91" y="824.81" width="312.80" height="12.34" fill="#fff6f6"/>
<rect x="1436.31" y="824.81" width="35.11" height="12.34" fill="#ffeaea"/>
<rect x="1471.02" y="824.81" width="35.11" height="12.34" fill="#ffffff"/>
<rect x="1505.73" y="824.81" width="69.82" height="12.34" fill="#fff6f6"/>
<rect x="1575.15" y="824.81" width="35.11" height="12.34" fill="#ffffff"/>
<rect x="1609.87" y="824.81" width="104.13" height="12.34" fill="#fff6f6"/>
<rect x="499.10" y="836.75" width="69.82" height="12.34" fill="#fff6f6"/>
<rect x="568.52" y="836.75" width="35.11" height="12.34" fill="#ffeaea"/>
<rect x="603.23" y="836.75" width="104.53" height="12.34" fill="#fff6f6"/>
<rect x="707.37" y="836.75" width="35.11" height="12.34" fill="#ffeaea"/>
<rect x="742.08" y="836.75" width="69.82" height="12.34" fill="#fff6f6"/>
<rect x="811.50" y="836.75" width="69.82" height="12.34" fill="#ffeaea"/>
<rect x="880.93" y="836.75" width="35.11" height="12.34" fill="#fff6f6"/>
<rect x="915.64" y="836.75" width="35.11" height="12.34" fill="#7a7aff"/>
<rect x="950.35" y="836.75" width="35.11" height="12.34" fill="#fff6f6"/>
<rect x="985.06" y="836.75" width="35.11" height="12.34" fill="#ffffff"/>
<rect x="1019.77" y="836.75" width="35.11" height="12.34" fill="#fff6f6"/>
<rect x="1054.48" y="836.75" width="69.82" height="12.34" fill="#7a7aff"/>
<rect x="1123.91" y="836.75" width="208.67" height="12.34" fill="#fff6f6"/>
<rect x="1332.17" y="836.75" width="35.11" height="12.34" fill="#ffffff"/>
<rect x="1366.89" y="836.75" width="35.11" height="12.34" fill="#fff6f6"/>
<rect x="1401.60" y="836.75" width="35.11" height="12.34" fill="#ffffff"/>
<rect x="1436.31" y="836.75" width="69.82" height="12.34" fill="#fff6f6"/>
<rect x="1505.73" y="836.75" width="35.11" height="12.34" fill="#ffffff"/>
<rect x="1540.44" y="836.75" width="69.82" height="12.34" fill="#fff6f6"/>
<rect x="1609.87" y="836.75" width="35.11" height="12.34" fill="#ffffff"/>
<rect x="1644.58" y="836.75" width="69.42" height="12.34" fill="#fff6f6"/>
<rect x="499.10" y="848.69" width="104.53" height="12.34" fill="#ffeaea"/>
<rect x="603.23" y="848.69" width="35.11" height="12.34" fill="#fff6f6"/>
<rect x="637.95" y="848.69" width="69.82" height="12.34" fill="#ffeaea"/>
<rect x="707.37" y="848.69" width="35.11" height="12.34" fill="#fff6f6"/>
<rect x="742.08" y="848.69" width="173.96" height="12.34" fill="#ffeaea"/>
<rect x="915.64" y="848.69" width="35.11" height="12.34" fill="#9c9cff"/>
<rect x="950.35" y="848.69" width="35.11" height="12.34" fill="#fff6f6"/>
<rect x="985.06" y="848.69" width="69.82" height="12.34" fill="#ffeaea"/>
<rect x="1054.48" y="848.69" width="35.11" height="12.34" fill="#9c9cff"/>
<rect x="1089.19" y="848.69" width="69.82" height="12.34" fill="#fff6f6"/>
<rect x="1158.62" y="848.69" width="69.82" height="12.34" fill="#ffeaea"/>
<rect x="1228.04" y="848.69" width="35.11" height="12.34" fill="#fff6f6"/>
<rect x="1262.75" y="848.69" width="35.11" height="12.34" fill="#ffeaea"/>
<rect x="1297.46" y="848.69" width="35.11" height="12.34" fill="#9c9cff"/>
<rect x="1332.17" y="848.69" width="35.11" height="12.34" fill="#fff6f6"/>
<rect x="1366.89" y="848.69" width="35.11" height="12.34" fill="#ffeaea"/>
<rect x="1401.60" y="848.69" width="35.11" height="12.34" fill="#9c9cff"/>
<rect x="1436.31" y="848.69" width="35.11" height="12.34" fill="#ffeaea"/>
<rect x="1471.02" y="848.69" width="104.53" height="12.34" fill="#9c9cff"/>
<rect x="1575.15" y="848.69" width="35.11" height="12.34" fill="#fff6f6"/>
<rect x="1609.87" y="848.69" width="69.82" height="12.34" fill="#ffeaea"/>
<rect x="1679.29" y="848.69" width="34.71" height="12.34" fill="#fff6f6"/>
<rect x="499.10" y="860.63" width="416.94" height="12.34" fill="#ffeaea"/>
<rect x="915.64" y="860.63" width="35.11" height="12.34" fill="#b0b0ff"/>
<rect x="950.35" y="860.63" width="104.53" height="12.34" fill="#ffeaea"/>
<rect x="1054.48" y="860.63" width="35.11" height="12.34" fill="#b0b0ff"/>
<rect x="1089.19" y="860.63" width="35.11" height="12.34" fill="#ffeaea"/>
<rect x="1123.91" y="860.63" width="104.53" height="12.34" fill="#b0b0ff"/>
<rect x="1228.04" y="860.63" width="69.82" height="12.34" fill="#ffeaea"/>
<rect x="1297.46" y="860.63" width="69.82" height="12.34" fill="#b0b0ff"/>
<rect x="1366.89" y="860.63" width="104.53" height="12.34" fill="#ffeaea"/>
<rect x="1471.02" y="860.63" width="69.82" height="12.34" fill="#b0b0ff"/>
<rect x="1540.44" y="860.63" width="35.11" height="12.34" fill="#ffeaea"/>
<rect x="1575.15" y="860.63" width="35.11" height="12.34" fill="#fff6f6"/>
<rect x="1609.87" y="860.63" width="69.82" height="12.34" fill="#ffeaea"/>
<rect x="1679.29" y="860.63" width="34.71" height="12.34" fill="#fff6f6"/>
<rect x="499.10" y="872.57" width="104.53" height="12.34" fill="#ffdcdc"/>
<rect x="603.23" y="872.57" width="35.11" height="12.34" fill="#ffeaea"/>
<rect x="637.95" y="872.57" width="35.11" height="12.34" fill="#ffdcdc"/>
<rect x="672.66" y="872.57" width="35.11" height="12.34" fill="#c3c3ff"/>
<rect x="707.37" y="872.57" width="35.11" height="12.34" fill="#ffdcdc"/>
<rect x="742.08" y="872.57" width="35.11" height="12.34" fill="#c3c3ff"/>
<rect x="776.79" y="872.57" width="35.11" height="12.34" fill="#ffdcdc"/>
<rect x="811.50" y="872.57" width="35.11" height="12.34" fill="#ffeaea"/>
<rect x="846.21" y="872.57" width="69.82" height="12.34" fill="#c3c3ff"/>
<rect x="915.64" y="872.57" width="69.82" height="12.34" fill="#ffdcdc"/>
<rect x="985.06" y="872.57" width="35.11" height="12.34" fill="#ffeaea"/>
<rect x="1019.77" y="872.57" width="35.11" height="12.34" fill="#fff6f6"/>
<rect x="1054.48" y="872.57" width="104.53" height="12.34" fill="#ffdcdc"/>
<rect x="1158.62" y="872.57" width="139.25" height="12.34" fill="#c3c3ff"/>
<rect x="1297.46" y="872.57" width="139.25" height="12.34" fill="#ffeaea"/>
<rect x="1436.31" y="872.57" width="35.11" height="12.34" fill="#ffdcdc"/>
<rect x="1471.02" y="872.57" width="35.11" height="12.34" fill="#c3c3ff"/>
<rect x="1505.73" y="872.57" width="35.11" height="12.34" fill="#ffeaea"/>
<rect x="1540.44" y="872.57" width="35.11" height="12.34" fill="#c3c3ff"/>
<rect x="1575.15" y="872.57" width="69.82" height="12.34" fill="#ffdcdc"/>
<rect x="1644.58" y="872.57" width="69.42" height="12.34" fill="#c3c3ff"/>
<rect x="499.10" y="884.51" width="278.09" height="12.34" fill="#ffeaea"/>
<rect x="776.79" y="884.51" width="35.11" height="12.34" fill="#9c9cff"/>
<rect x="811.50" y="884.51" width="104.53" height="12.34" fill="#ffeaea"/>
<rect x="915.64" y="884.51" width="69.82" height="12.34" fill="#9c9cff"/>
<rect x="985.06" y="884.51" width="35.11" height="12.34" fill="#fff6f6"/>
<rect x="1019.77" y="884.51" width="35.11" height="12.34" fill="#9c9cff"/>
<rect x="1054.48" y="884.51" width="35.11" height="12.34" fill="#fff6f6"/>
<rect x="1089.19" y="884.51" width="69.82" height="12.34" fill="#9c9cff"/>
<rect x="1158.62" y="884.51" width="35.11" height="12.34" fill="#fff6f6"/>
<rect x="1193.33" y="884.51" width="35.11" height="12.34" fill="#ffeaea"/>
<rect x="1228.04" y="884.51" width="69.82" height="12.34" fill="#9c9cff"/>
<rect x="1297.46" y="884.51" width="35.11" height="12.34" fill="#fff6f6"/>
<rect x="1332.17" y="884.51" width="35.11" height="12.34" fill="#ffeaea"/>
<rect x="1366.89" y="884.51" width="35.11" height="12.34" fill="#fff6f6"/>
<rect x="1401.60" y="884.51" width="35.11" height="12.34" fill="#ffeaea"/>
<rect x="1436.31" y="884.51" width="35.11" height="12.34" fill="#fff6f6"/>
<rect x="1471.02" y="884.51" width="242.98" height="12.34" fill="#ffeaea"/>
<rect x="499.10" y="896.45" width="35.11" height="12.34" fill="#b0b0ff"/>
<rect x="533.81" y="896.45" width="35.11" height="12.34" fill="#ffeaea"/>
<rect x="568.52" y="896.45" width="35.11" height="12.34" fill="#ffdcdc"/>
<rect x="603.23" y="896.45" width="139.25" height="12.34" fill="#ffeaea"/>
<rect x="742.08" y="896.45" width="69.82" height="12.34" fill="#b0b0ff"/>
<rect x="811.50" y="896.45" width="35.11" height="12.34" fill="#ffeaea"/>
<rect x="846.21" y="896.45" width="35.11" height="12.34" fill="#fff6f6"/>
<rect x="880.93" y="896.45" width="35.11" height="12.34" fill="#ffdcdc"/>
<rect x="915.64" y="896.45" width="69.82" height="12.34" fill="#9c9cff"/>
<rect x="985.06" y="896.45" width="104.53" height="12.34" fill="#ffeaea"/>
<rect x="1089.19" y="896.45" width="69.82" height="12.34" fill="#b0b0ff"/>
<rect x="1158.62" y="896.45" width="69.82" height="12.34" fill="#ffeaea"/>
<rect x="1228.04" y="896.45" width="35.11" height="12.34" fill="#ffdcdc"/>
<rect x="1262.75" y="896.45" width="69.82" height="12.34" fill="#b0b0ff"/>
<rect x="1332.17" y="896.45" width="35.11" height="12.34" fill="#ffeaea"/>
<rect x="1366.89" y="896.45" width="35.11" height="12.34" fill="#fff6f6"/>
<rect x="1401.60" y="896.45" width="35.11" height="12.34" fill="#ffeaea"/>
<rect x="1436.31" y="896.45" width="35.11" height="12.34" fill="#b0b0ff"/>
<rect x="1471.02" y="896.45" width="139.25" height="12.34" fill="#ffeaea"/>
<rect x="1609.87" y="896.45" width="35.11" height="12.34" fill="#fff6f6"/>
<rect x="1644.58" y="896.45" width="35.11" height="12.34" fill="#ffdcdc"/>
<rect x="1679.29" y="896.45" width="34.71" height="12.34" fill="#fff6f6"/>
<rect x="499.10" y="908.39" width="35.11" height="12.34" fill="#fff6f6"/>
<rect x="533.81" y="908.39" width="35.11" height="12.34" fill="#ffeaea"/>
<rect x="568.52" y="908.39" width="35.11" height="12.34" fill="#fff6f6"/>
<rect x="603.23" y="908.39" width="35.11" height="12.34" fill="#9c9cff"/>
<rect x="637.95" y="908.39" width="35.11" height="12.34" fill="#fff6f6"/>
<rect x="672.66" y="908.39" width="35.11" height="12.34" fill="#ffeaea"/>
<rect x="707.37" y="908.39" width="69.82" height="12.34" fill="#fff6f6"/>
<rect x="776.79" y="908.39" width="35.11" height="12.34" fill="#ffeaea"/>
<rect x="811.50" y="908.39" width="35.11" height="12.34" fill="#9c9cff"/>
<rect x="846.21" y="908.39" width="69.82" height="12.34" fill="#fff6f6"/>
<rect x="915.64" y="908.39" width="69.82" height="12.34" fill="#7a7aff"/>
<rect x="985.06" y="908.39" width="208.67" height="12.34" fill="#fff6f6"/>
<rect x="1193.33" y="908.39" width="35.11" height="12.34" fill="#ffdcdc"/>
<rect x="1228.04" y="908.39" width="69.82" height="12.34" fill="#ffeaea"/>
<rect x="1297.46" y="908.39" width="35.11" height="12.34" fill="#fff6f6"/>
<rect x="1332.17" y="908.39" width="69.82" height="12.34" fill="#ffeaea"/>
<rect x="1401.60" y="908.39" width="35.11" height="12.34" fill="#fff6f6"/>
<rect x="1436.31" y="908.39" width="35.11" height="12.34" fill="#9c9cff"/>
<rect x="1471.02" y="908.39" width="104.53" height="12.34" fill="#fff6f6"/>
<rect x="1575.15" y="908.39" width="35.11" height="12.34" fill="#9c9cff"/>
<rect x="1609.87" y="908.39" width="35.11" height="12.34" fill="#ffdcdc"/>
<rect x="1644.58" y="908.39" width="35.11" height="12.34" fill="#fff6f6"/>
<rect x="1679.29" y="908.39" width="34.71" height="12.34" fill="#ffffff"/>
<rect x="499.10" y="920.33" width="35.11" height="12.34" fill="#ffdcdc"/>
<rect x="533.81" y="920.33" width="35.11" height="12.34" fill="#ffeaea"/>
<rect x="568.52" y="920.33" width="69.82" height="12.34" fill="#b0b0ff"/>
<rect x="637.95" y="920.33" width="35.11" height="12.34" fill="#ffeaea"/>
<rect x="672.66" y="920.33" width="69.82" height="12.34" fill="#ffdcdc"/>
<rect x="742.08" y="920.33" width="35.11" height="12.34" fill="#ffeaea"/>
<rect x="776.79" y="920.33" width="35.11" height="12.34" fill="#b0b0ff"/>
<rect x="811.50" y="920.33" width="35.11" height="12.34" fill="#ffeaea"/>
<rect x="846.21" y="920.33" width="139.25" height="12.34" fill="#b0b0ff"/>
<rect x="985.06" y="920.33" width="208.67" height="12.34" fill="#ffeaea"/>
<rect x="1193.33" y="920.33" width="69.82" height="12.34" fill="#ffdcdc"/>
<rect x="1262.75" y="920.33" width="35.11" height="12.34" fill="#b0b0ff"/>
<rect x="1297.46" y="920.33" width="104.53" height="12.34" fill="#ffeaea"/>
<rect x="1401.60" y="920.33" width="69.82" height="12.34" fill="#b0b0ff"/>
<rect x="1471.02" y="920.33" width="242.98" height="12.34" fill="#ffeaea"/>
<rect x="499.10" y="932.27" width="35.11" height="12.34" fill="#ffeaea"/>
<rect x="533.81" y="932.27" width="35.11" height="12.34" fill="#ffdcdc"/>
<rect x="568.52" y="932.27" width="69.82" height="12.34" fill="#ffeaea"/>
<rect x="637.95" y="932.27" width="35.11" height="12.34" fill="#ffdcdc"/>
<rect x="672.66" y="932.27" width="104.53" height="12.34" fill="#ffeaea"/>
<rect x="776.79" y="932.27" width="35.11" height="12.34" fill="#c3c3ff"/>
<rect x="811.50" y="932.27" width="104.53" height="12.34" fill="#ffeaea"/>
<rect x="915.64" y="932.27" width="35.11" height="12.34" fill="#ffdcdc"/>
<rect x="950.35" y="932.27" width="104.53" height="12.34" fill="#c3c3ff"/>
<rect x="1054.48" y="932.27" width="69.82" height="12.34" fill="#ffdcdc"/>
<rect x="1123.91" y="932.27" width="139.25" height="12.34" fill="#c3c3ff"/>
<rect x="1262.75" y="932.27" width="35.11" height="12.34" fill="#ffeaea"/>
<rect x="1297.46" y="932.27" width="104.53" height="12.34" fill="#c3c3ff"/>
<rect x="1401.60" y="932.27" width="35.11" height="12.34" fill="#ffdcdc"/>
<rect x="1436.31" y="932.27" width="35.11" height="12.34" fill="#c3c3ff"/>
<rect x="1471.02" y="932.27" width="104.53" height="12.34" fill="#ffdcdc"/>
<rect x="1575.15" y="932.27" width="35.11" height="12.34" fill="#c3c3ff"/>
<rect x="1609.87" y="932.27" width="69.82" height="12.34" fill="#ffeaea"/>
<rect x="1679.29" y="932.27" width="34.71" height="12.34" fill="#ffdcdc"/>
<rect x="499.10" y="944.21" width="104.53" height="12.34" fill="#ffeaea"/>
<rect x="603.23" y="944.21" width="69.82" height="12.34" fill="#fff6f6"/>
<rect x="672.66" y="944.21" width="35.11" height="12.34" fill="#ffeaea"/>
<rect x="707.37" y="944.21" width="69.82" height="12.34" fill="#fff6f6"/>
<rect x="776.79" y="944.21" width="104.53" height="12.34" fill="#ffeaea"/>
<rect x="880.93" y="944.21" width="35.11" height="12.34" fill="#fff6f6"/>
<rect x="915.64" y="944.21" width="69.82" height="12.34" fill="#ffeaea"/>
<rect x="985.06" y="944.21" width="35.11" height="12.34" fill="#9c9cff"/>
<rect x="1019.77" y="944.21" width="35.11" height="12.34" fill="#fff6f6"/>
<rect x="1054.48" y="944.21" width="69.82" height="12.34" fill="#ffeaea"/>
<rect x="1123.91" y="944.21" width="173.96" height="12.34" fill="#9c9cff"/>
<rect x="1297.46" y="944.21" width="104.53" height="12.34" fill="#ffeaea"/>
<rect x="1401.60" y="944.21" width="35.11" height="12.34" fill="#fff6f6"/>
<rect x="1436.31" y="944.21" width="35.11" height="12.34" fill="#9c9cff"/>
<rect x="1471.02" y="944.21" width="69.82" height="12.34" fill="#fff6f6"/>
<rect x="1540.44" y="944.21" width="104.53" height="12.34" fill="#ffeaea"/>
<rect x="1644.58" y="944.21" width="35.11" height="12.34" fill="#9c9cff"/>
<rect x="1679.29" y="944.21" width="34.71" height="12.34" fill="#fff6f6"/>
<rect x="499.10" y="956.15" width="69.82" height="12.34" fill="#fff6f6"/>
<rect x="568.52" y="956.15" width="69.82" height="12.34" fill="#ffeaea"/>
<rect x="637.95" y="956.15" width="35.11" height="12.34" fill="#fff6f6"/>
<rect x="672.66" y="956.15" width="69.82" height="12.34" fill="#ffeaea"/>
<rect x="742.08" y="956.15" width="69.82" height="12.34" fill="#fff6f6"/>
<rect x="811.50" y="956.15" width="104.53" height="12.34" fill="#ffeaea"/>
<rect x="915.64" y="956.15" width="69.82" height="12.34" fill="#fff6f6"/>
<rect x="985.06" y="956.15" width="69.82" height="12.34" fill="#9c9cff"/>
<rect x="1054.48" y="956.15" width="69.82" height="12.34" fill="#fff6f6"/>
<rect x="1123.91" y="956.15" width="173.96" height="12.34" fill="#9c9cff"/>
<rect x="1297.46" y="956.15" width="35.11" height="12.34" fill="#fff6f6"/>
<rect x="1332.17" y="956.15" width="35.11" height="12.34" fill="#ffeaea"/>
<rect x="1366.89" y="956.15" width="69.82" height="12.34" fill="#fff6f6"/>
<rect x="1436.31" y="956.15" width="35.11" height="12.34" fill="#ffeaea"/>
<rect x="1471.02" y="956.15" width="69.82" height="12.34" fill="#fff6f6"/>
<rect x="1540.44" y="956.15" width="35.11" height="12.34" fill="#ffeaea"/>
<rect x="1575.15" y="956.15" width="35.11" height="12.34" fill="#fff6f6"/>
<rect x="1609.87" y="956.15" width="35.11" height="12.34" fill="#ffeaea"/>
<rect x="1644.58" y="956.15" width="35.11" height="12.34" fill="#fff6f6"/>
<rect x="1679.29" y="956.15" width="34.71" height="12.34" fill="#9c9cff"/>
<rect x="499.10" y="968.09" width="69.82" height="12.34" fill="#fff6f6"/>
<rect x="568.52" y="968.09" width="35.11" height="12.34" fill="#ffeaea"/>
<rect x="603.23" y="968.09" width="139.25" height="12.34" fill="#fff6f6"/>
<rect x="742.08" y="968.09" width="35.11" height="12.34" fill="#ffeaea"/>
<rect x="776.79" y="968.09" width="208.67" height="12.34" fill="#fff6f6"/>
<rect x="985.06" y="968.09" width="69.82" height="12.34" fill="#7a7aff"/>
<rect x="1054.48" y="968.09" width="104.53" height="12.34" fill="#fff6f6"/>
<rect x="1158.62" y="968.09" width="104.53" height="12.34" fill="#7a7aff"/>
<rect x="1262.75" y="968.09" width="451.25" height="12.34" fill="#fff6f6"/>
<rect x="499.10" y="980.03" width="35.11" height="12.34" fill="#fff6f6"/>
<rect x="533.81" y="980.03" width="35.11" height="12.34" fill="#ffffff"/>
<rect x="568.52" y="980.03" width="35.11" height="12.34" fill="#ffeaea"/>
<rect x="603.23" y="980.03" width="35.11" height="12.34" fill="#fff6f6"/>
<rect x="637.95" y="980.03" width="35.11" height="12.34" fill="#ffeaea"/>
<rect x="672.66" y="980.03" width="69.82" height="12.34" fill="#fff6f6"/>
<rect x="742.08" y="980.03" width="35.11" height="12.34" fill="#ffeaea"/>
<rect x="776.79" y="980.03" width="35.11" height="12.34" fill="#fff6f6"/>
<rect x="811.50" y="980.03" width="104.53" height="12.34" fill="#ffeaea"/>
<rect x="915.64" y="980.03" width="69.82" height="12.34" fill="#fff6f6"/>
<rect x="985.06" y="980.03" width="69.82" height="12.34" fill="#9c9cff"/>
<rect x="1054.48" y="980.03" width="69.82" height="12.34" fill="#fff6f6"/>
<rect x="1123.91" y="980.03" width="139.25" height="12.34" fill="#9c9cff"/>
<rect x="1262.75" y="980.03" width="243.38" height="12.34" fill="#fff6f6"/>
<rect x="1505.73" y="980.03" width="35.11" height="12.34" fill="#9c9cff"/>
<rect x="1540.44" y="980.03" width="69.82" height="12.34" fill="#fff6f6"/>
<rect x="1609.87" y="980.03" width="35.11" height="12.34" fill="#ffeaea"/>
<rect x="1644.58" y="980.03" width="69.42" height="12.34" fill="#fff6f6"/>
<rect x="499.10" y="991.97" width="35.11" height="12.34" fill="#9c9cff"/>
<rect x="533.81" y="991.97" width="35.11" height="12.34" fill="#ffeaea"/>
<rect x="568.52" y="991.97" width="104.53" height="12.34" fill="#fff6f6"/>
<rect x="672.66" y="991.97" width="69.82" height="12.34" fill="#9c9cff"/>
<rect x="742.08" y="991.97" width="69.82" height="12.34" fill="#fff6f6"/>
<rect x="811.50" y="991.97" width="69.82" height="12.34" fill="#ffeaea"/>
<rect x="880.93" y="991.97" width="35.11" height="12.34" fill="#fff6f6"/>
<rect x="915.64" y="991.97" width="35.11" height="12.34" fill="#ffeaea"/>
<rect x="950.35" y="991.97" width="35.11" height="12.34" fill="#ffdcdc"/>
<rect x="985.06" y="991.97" width="104.53" height="12.34" fill="#9c9cff"/>
<rect x="1089.19" y="991.97" width="69.82" height="12.34" fill="#ffeaea"/>
<rect x="1158.62" y="991.97" width="35.11" height="12.34" fill="#fff6f6"/>
<rect x="1193.33" y="991.97" width="35.11" height="12.34" fill="#9c9cff"/>
<rect x="1228.04" y="991.97" width="35.11" height="12.34" fill="#ffeaea"/>
<rect x="1262.75" y="991.97" width="35.11" height="12.34" fill="#9c9cff"/>
<rect x="1297.46" y="991.97" width="69.82" height="12.34" fill="#fff6f6"/>
<rect x="1366.89" y="991.97" width="35.11" height="12.34" fill="#ffeaea"/>
<rect x="1401.60" y="991.97" width="139.25" height="12.34" fill="#fff6f6"/>
<rect x="1540.44" y="991.97" width="69.82" height="12.34" fill="#ffeaea"/>
<rect x="1609.87" y="991.97" width="35.11" height="12.34" fill="#fff6f6"/>
<rect x="1644.58" y="991.97" width="69.42" height="12.34" fill="#ffeaea"/>
<rect x="499.10" y="1003.91" width="35.11" height="12.34" fill="#ffeaea"/>
<rect x="533.81" y="1003.91" width="69.82" height="12.34" fill="#ffdcdc"/>
<rect x="603.23" y="1003.91" width="35.11" height="12.34" fill="#ffeaea"/>
<rect x="637.95" y="1003.91" width="104.53" height="12.34" fill="#dbdbff"/>
<rect x="742.08" y="1003.91" width="69.82" height="12.34" fill="#ffdcdc"/>
<rect x="811.50" y="1003.91" width="35.11" height="12.34" fill="#dbdbff"/>
<rect x="846.21" y="1003.91" width="69.82" height="12.34" fill="#ffdcdc"/>
<rect x="915.64" y="1003.91" width="35.11" height="12.34" fill="#c3c3ff"/>
<rect x="950.35" y="1003.91" width="35.11" height="12.34" fill="#ffdcdc"/>
<rect x="985.06" y="1003.91" width="69.82" height="12.34" fill="#c3c3ff"/>
<rect x="1054.48" y="1003.91" width="35.11" height="12.34" fill="#ffdcdc"/>
<rect x="1089.19" y="1003.91" width="208.67" height="12.34" fill="#dbdbff"/>
<rect x="1297.46" y="1003.91" width="104.53" height="12.34" fill="#ffdcdc"/>
<rect x="1401.60" y="1003.91" width="35.11" height="12.34" fill="#dbdbff"/>
<rect x="1436.31" y="1003.91" width="243.38" height="12.34" fill="#ffdcdc"/>
<rect x="1679.29" y="1003.91" width="34.71" height="12.34" fill="#dbdbff"/>
<rect x="499.10" y="1015.85" width="35.11" height="12.34" fill="#ffeaea"/>
<rect x="533.81" y="1015.85" width="35.11" height="12.34" fill="#ffdcdc"/>
<rect x="568.52" y="1015.85" width="35.11" height="12.34" fill="#ffeaea"/>
<rect x="603.23" y="1015.85" width="35.11" height="12.34" fill="#b0b0ff"/>
<rect x="637.95" y="1015.85" width="173.96" height="12.34" fill="#ffeaea"/>
<rect x="811.50" y="1015.85" width="35.11" height="12.34" fill="#b0b0ff"/>
<rect x="846.21" y="1015.85" width="312.80" height="12.34" fill="#ffeaea"/>
<rect x="1158.62" y="1015.85" width="173.96" height="12.34" fill="#b0b0ff"/>
<rect x="1332.17" y="1015.85" width="35.11" height="12.34" fill="#fff6f6"/>
<rect x="1366.89" y="1015.85" width="104.53" height="12.34" fill="#b0b0ff"/>
<rect x="1471.02" y="1015.85" width="35.11" height="12.34" fill="#ffeaea"/>
<rect x="1505.73" y="1015.85" width="104.53" height="12.34" fill="#fff6f6"/>
<rect x="1609.87" y="1015.85" width="69.82" height="12.34" fill="#ffeaea"/>
<rect x="1679.29" y="1015.85" width="34.71" height="12.34" fill="#fff6f6"/>
<rect x="499.10" y="1027.79" width="35.11" height="12.34" fill="#fff6f6"/>
<rect x="533.81" y="1027.79" width="35.11" height="12.34" fill="#ffeaea"/>
<rect x="568.52" y="1027.79" width="35.11" height="12.34" fill="#b0b0ff"/>
<rect x="603.23" y="1027.79" width="69.82" height="12.34" fill="#fff6f6"/>
<rect x="672.66" y="1027.79" width="35.11" height="12.34" fill="#b0b0ff"/>
<rect x="707.37" y="1027.79" width="35.11" height="12.34" fill="#fff6f6"/>
<rect x="742.08" y="1027.79" width="35.11" height="12.34" fill="#ffeaea"/>
<rect x="776.79" y="1027.79" width="69.82" height="12.34" fill="#b0b0ff"/>
<rect x="846.21" y="1027.79" width="35.11" height="12.34" fill="#fff6f6"/>
<rect x="880.93" y="1027.79" width="35.11" height="12.34" fill="#ffeaea"/>
<rect x="915.64" y="1027.79" width="35.11" height="12.34" fill="#fff6f6"/>
<rect x="950.35" y="1027.79" width="35.11" height="12.34" fill="#ffeaea"/>
<rect x="985.06" y="1027.79" width="35.11" height="12.34" fill="#fff6f6"/>
<rect x="1019.77" y="1027.79" width="35.11" height="12.34" fill="#ffeaea"/>
<rect x="1054.48" y="1027.79" width="35.11" height="12.34" fill="#fff6f6"/>
<rect x="1089.19" y="1027.79" width="35.11" height="12.34" fill="#ffeaea"/>
<rect x="1123.91" y="1027.79" width="69.82" height="12.34" fill="#b0b0ff"/>
<rect x="1193.33" y="1027.79" width="69.82" height="12.34" fill="#ffeaea"/>
<rect x="1262.75" y="1027.79" width="35.11" height="12.34" fill="#b0b0ff"/>
<rect x="1297.46" y="1027.79" width="69.82" height="12.34" fill="#ffeaea"/>
<rect x="1366.89" y="1027.79" width="35.11" height="12.34" fill="#fff6f6"/>
<rect x="1401.60" y="1027.79" width="69.82" height="12.34" fill="#b0b0ff"/>
<rect x="1471.02" y="1027.79" width="69.82" height="12.34" fill="#ffeaea"/>
<rect x="1540.44" y="1027.79" width="69.82" height="12.34" fill="#fff6f6"/>
<rect x="1609.87" y="1027.79" width="104.13" height="12.34" fill="#ffeaea"/>
<rect x="499.10" y="1039.73" width="35.11" height="12.34" fill="#7a7aff"/>
<rect x="533.81" y="1039.73" width="104.53" height="12.34" fill="#fff6f6"/>
<rect x="637.95" y="1039.73" width="35.11" height="12.34" fill="#ffffff"/>
<rect x="672.66" y="1039.73" width="173.96" height="12.34" fill="#fff6f6"/>
<rect x="846.21" y="1039.73" width="35.11" height="12.34" fill="#ffeaea"/>
<rect x="880.93" y="1039.73" width="278.09" height="12.34" fill="#fff6f6"/>
<rect x="1158.62" y="1039.73" width="69.82" height="12.34" fill="#7a7aff"/>
<rect x="1228.04" y="1039.73" width="173.96" height="12.34" fill="#fff6f6"/>
<rect x="1401.60" y="1039.73" width="69.82" height="12.34" fill="#7a7aff"/>
<rect x="1471.02" y="1039.73" width="242.98" height="12.34" fill="#fff6f6"/>
<rect x="499.10" y="1051.67" width="35.11" height="12.34" fill="#9c9cff"/>
<rect x="533.81" y="1051.67" width="35.11" height="12.34" fill="#fff6f6"/>
<rect x="568.52" y="1051.67" width="69.82" height="12.34" fill="#ffeaea"/>
<rect x="637.95" y="1051.67" width="35.11" height="12.34" fill="#fff6f6"/>
<rect x="672.66" y="1051.67" width="69.82" height="12.34" fill="#b0b0ff"/>
<rect x="742.08" y="1051.67" width="69.82" height="12.34" fill="#fff6f6"/>
<rect x="811.50" y="1051.67" width="173.96" height="12.34" fill="#ffeaea"/>
<rect x="985.06" y="1051.67" width="35.11" height="12.34" fill="#fff6f6"/>
<rect x="1019.77" y="1051.67" width="35.11" height="12.34" fill="#ffeaea"/>
<rect x="1054.48" y="1051.67" width="35.11" height="12.34" fill="#fff6f6"/>
<rect x="1089.19" y="1051.67" width="35.11" height="12.34" fill="#ffeaea"/>
<rect x="1123.91" y="1051.67" width="35.11" height="12.34" fill="#9c9cff"/>
<rect x="1158.62" y="1051.67" width="35.11" height="12.34" fill="#ffeaea"/>
<rect x="1193.33" y="1051.67" width="35.11" height="12.34" fill="#9c9cff"/>
<rect x="1228.04" y="1051.67" width="35.11" height="12.34" fill="#ffeaea"/>
<rect x="1262.75" y="1051.67" width="35.11" height="12.34" fill="#9c9cff"/>
<rect x="1297.46" y="1051.67" width="35.11" height="12.34" fill="#fff6f6"/>
<rect x="1332.17" y="1051.67" width="69.82" height="12.34" fill="#ffeaea"/>
<rect x="1401.60" y="1051.67" width="69.82" height="12.34" fill="#9c9cff"/>
<rect x="1471.02" y="1051.67" width="69.82" height="12.34" fill="#fff6f6"/>
<rect x="1540.44" y="1051.67" width="69.82" height="12.34" fill="#ffeaea"/>
<rect x="1609.87" y="1051.67" width="35.11" height="12.34" fill="#9c9cff"/>
<rect x="1644.58" y="1051.67" width="69.42" height="12.34" fill="#ffeaea"/>
<rect x="499.10" y="1063.61" width="104.53" height="12.34" fill="#dbdbff"/>
<rect x="603.23" y="1063.61" width="35.11" height="12.34" fill="#ffdcdc"/>
<rect x="637.95" y="1063.61" width="35.11" height="12.34" fill="#ffc7c7"/>
<rect x="672.66" y="1063.61" width="69.82" height="12.34" fill="#dbdbff"/>
<rect x="742.08" y="1063.61" width="69.82" height="12.34" fill="#ffdcdc"/>
<rect x="811.50" y="1063.61" width="35.11" height="12.34" fill="#ffc7c7"/>
<rect x="846.21" y="1063.61" width="35.11" height="12.34" fill="#dbdbff"/>
<rect x="880.93" y="1063.61" width="104.53" height="12.34" fill="#ffc7c7"/>
<rect x="985.06" y="1063.61" width="35.11" height="12.34" fill="#dbdbff"/>
<rect x="1019.77" y="1063.61" width="35.11" height="12.34" fill="#ffc7c7"/>
<rect x="1054.48" y="1063.61" width="243.38" height="12.34" fill="#dbdbff"/>
<rect x="1297.46" y="1063.61" width="69.82" height="12.34" fill="#ffc7c7"/>
<rect x="1366.89" y="1063.61" width="173.96" height="12.34" fill="#dbdbff"/>
<rect x="1540.44" y="1063.61" width="69.82" height="12.34" fill="#ffc7c7"/>
<rect x="1609.87" y="1063.61" width="35.11" height="12.34" fill="#dbdbff"/>
<rect x="1644.58" y="1063.61" width="69.42" height="12.34" fill="#ffdcdc"/>
<rect x="499.10" y="1075.55" width="35.11" height="12.34" fill="#ffeaea"/>
<rect x="533.81" y="1075.55" width="173.96" height="12.34" fill="#ffdcdc"/>
<rect x="707.37" y="1075.55" width="35.11" height="12.34" fill="#c3c3ff"/>
<rect x="742.08" y="1075.55" width="35.11" height="12.34" fill="#ffdcdc"/>
<rect x="776.79" y="1075.55" width="35.11" height="12.34" fill="#c3c3ff"/>
<rect x="811.50" y="1075.55" width="139.25" height="12.34" fill="#ffdcdc"/>
<rect x="950.35" y="1075.55" width="69.82" height="12.34" fill="#c3c3ff"/>
<rect x="1019.77" y="1075.55" width="35.11" height="12.34" fill="#ffdcdc"/>
<rect x="1054.48" y="1075.55" width="139.25" height="12.34" fill="#c3c3ff"/>
<rect x="1193.33" y="1075.55" width="69.82" height="12.34" fill="#ffdcdc"/>
<rect x="1262.75" y="1075.55" width="208.67" height="12.34" fill="#c3c3ff"/>
<rect x="1471.02" y="1075.55" width="35.11" height="12.34" fill="#ffdcdc"/>
<rect x="1505.73" y="1075.55" width="69.82" height="12.34" fill="#ffeaea"/>
<rect x="1575.15" y="1075.55" width="35.11" height="12.34" fill="#ffdcdc"/>
<rect x="1609.87" y="1075.55" width="69.82" height="12.34" fill="#ffeaea"/>
<rect x="1679.29" y="1075.55" width="34.71" height="12.34" fill="#ffdcdc"/>
<rect x="499.10" y="1087.49" width="69.82" height="12.34" fill="#dbdbff"/>
<rect x="568.52" y="1087.49" width="69.82" height="12.34" fill="#ffc7c7"/>
<rect x="637.95" y="1087.49" width="35.11" height="12.34" fill="#dbdbff"/>
<rect x="672.66" y="1087.49" width="69.82" height="12.34" fill="#ffc7c7"/>
<rect x="742.08" y="1087.49" width="35.11" height="12.34" fill="#ffdcdc"/>
<rect x="776.79" y="1087.49" width="35.11" height="12.34" fill="#dbdbff"/>
<rect x="811.50" y="1087.49" width="104.53" height="12.34" fill="#ffc7c7"/>
<rect x="915.64" y="1087.49" width="104.53" height="12.34" fill="#dbdbff"/>
<rect x="1019.77" y="1087.49" width="69.82" height="12.34" fill="#ffc7c7"/>
<rect x="1089.19" y="1087.49" width="382.23" height="12.34" fill="#dbdbff"/>
<rect x="1471.02" y="1087.49" width="35.11" height="12.34" fill="#ffdcdc"/>
<rect x="1505.73" y="1087.49" width="35.11" height="12.34" fill="#dbdbff"/>
<rect x="1540.44" y="1087.49" width="69.82" height="12.34" fill="#ffdcdc"/>
<rect x="1609.87" y="1087.49" width="104.13" height="12.34" fill="#ffc7c7"/>
<rect x="499.10" y="1099.43" width="139.25" height="12.34" fill="#e6e6ff"/>
<rect x="637.95" y="1099.43" width="69.82" height="12.34" fill="#ffc7c7"/>
<rect x="707.37" y="1099.43" width="104.53" height="12.34" fill="#e6e6ff"/>
<rect x="811.50" y="1099.43" width="139.25" height="12.34" fill="#ffc7c7"/>
<rect x="950.35" y="1099.43" width="104.53" height="12.34" fill="#e6e6ff"/>
<rect x="1054.48" y="1099.43" width="35.11" height="12.34" fill="#ffc7c7"/>
<rect x="1089.19" y="1099.43" width="382.23" height="12.34" fill="#e6e6ff"/>
<rect x="1471.02" y="1099.43" width="242.98" height="12.34" fill="#ffc7c7"/>
<rect x="499.10" y="1111.37" width="35.11" height="12.34" fill="#dbdbff"/>
<rect x="533.81" y="1111.37" width="35.11" height="12.34" fill="#ffdcdc"/>
<rect x="568.52" y="1111.37" width="69.82" height="12.34" fill="#dbdbff"/>
<rect x="637.95" y="1111.37" width="69.82" height="12.34" fill="#ffdcdc"/>
<rect x="707.37" y="1111.37" width="35.11" height="12.34" fill="#dbdbff"/>
<rect x="742.08" y="1111.37" width="173.96" height="12.34" fill="#ffdcdc"/>
<rect x="915.64" y="1111.37" width="35.11" height="12.34" fill="#dbdbff"/>
<rect x="950.35" y="1111.37" width="35.11" height="12.34" fill="#ffdcdc"/>
<rect x="985.06" y="1111.37" width="35.11" height="12.34" fill="#dbdbff"/>
<rect x="1019.77" y="1111.37" width="104.53" height="12.34" fill="#ffdcdc"/>
<rect x="1123.91" y="1111.37" width="139.25" height="12.34" fill="#dbdbff"/>
<rect x="1262.75" y="1111.37" width="69.82" height="12.34" fill="#ffdcdc"/>
<rect x="1332.17" y="1111.37" width="35.11" height="12.34" fill="#dbdbff"/>
<rect x="1366.89" y="1111.37" width="35.11" height="12.34" fill="#ffdcdc"/>
<rect x="1401.60" y="1111.37" width="69.82" height="12.34" fill="#dbdbff"/>
<rect x="1471.02" y="1111.37" width="104.53" height="12.34" fill="#ffdcdc"/>
<rect x="1575.15" y="1111.37" width="35.11" height="12.34" fill="#dbdbff"/>
<rect x="1609.87" y="1111.37" width="35.11" height="12.34" fill="#ffdcdc"/>
<rect x="1644.58" y="1111.37" width="35.11" height="12.34" fill="#dbdbff"/>
<rect x="1679.29" y="1111.37" width="34.71" height="12.34" fill="#ffdcdc"/>
<rect x="499.10" y="1123.31" width="69.82" height="12.34" fill="#ffdcdc"/>
<rect x="568.52" y="1123.31" width="35.11" height="12.34" fill="#dbdbff"/>
<rect x="603.23" y="1123.31" width="35.11" height="12.34" fill="#ffdcdc"/>
<rect x="637.95" y="1123.31" width="35.11" height="12.34" fill="#dbdbff"/>
<rect x="672.66" y="1123.31" width="35.11" height="12.34" fill="#ffdcdc"/>
<rect x="707.37" y="1123.31" width="35.11" height="12.34" fill="#dbdbff"/>
<rect x="742.08" y="1123.31" width="35.11" height="12.34" fill="#ffdcdc"/>
<rect x="776.79" y="1123.31" width="69.82" height="12.34" fill="#dbdbff"/>
<rect x="846.21" y="1123.31" width="35.11" height="12.34" fill="#ffdcdc"/>
<rect x="880.93" y="1123.31" width="35.11" height="12.34" fill="#dbdbff"/>
<rect x="915.64" y="1123.31" width="35.11" height="12.34" fill="#ffdcdc"/>
<rect x="950.35" y="1123.31" width="35.11" height="12.34" fill="#dbdbff"/>
<rect x="985.06" y="1123.31" width="139.25" height="12.34" fill="#ffdcdc"/>
<rect x="1123.91" y="1123.31" width="139.25" height="12.34" fill="#dbdbff"/>
<rect x="1262.75" y="1123.31" width="35.11" height="12.34" fill="#ffdcdc"/>
<rect x="1297.46" y="1123.31" width="69.82" height="12.34" fill="#dbdbff"/>
<rect x="1366.89" y="1123.31" width="69.82" height="12.34" fill="#ffdcdc"/>
<rect x="1436.31" y="1123.31" width="35.11" height="12.34" fill="#dbdbff"/>
<rect x="1471.02" y="1123.31" width="35.11" height="12.34" fill="#ffdcdc"/>
<rect x="1505.73" y="1123.31" width="35.11" height="12.34" fill="#dbdbff"/>
<rect x="1540.44" y="1123.31" width="104.53" height="12.34" fill="#ffdcdc"/>
<rect x="1644.58" y="1123.31" width="35.11" height="12.34" fill="#dbdbff"/>
<rect x="1679.29" y="1123.31" width="34.71" height="12.34" fill="#ffdcdc"/>
<rect x="499.10" y="1135.25" width="208.67" height="12.34" fill="#ffc7c7"/>
<rect x="707.37" y="1135.25" width="69.82" height="12.34" fill="#dbdbff"/>
<rect x="776.79" y="1135.25" width="35.11" height="12.34" fill="#ffc7c7"/>
<rect x="811.50" y="1135.25" width="104.53" height="12.34" fill="#dbdbff"/>
<rect x="915.64" y="1135.25" width="69.82" height="12.34" fill="#ffc7c7"/>
<rect x="985.06" y="1135.25" width="69.82" height="12.34" fill="#dbdbff"/>
<rect x="1054.48" y="1135.25" width="69.82" height="12.34" fill="#ffc7c7"/>
<rect x="1123.91" y="1135.25" width="347.51" height="12.34" fill="#dbdbff"/>
<rect x="1471.02" y="1135.25" width="69.82" height="12.34" fill="#ffc7c7"/>
<rect x="1540.44" y="1135.25" width="35.11" height="12.34" fill="#dbdbff"/>
<rect x="1575.15" y="1135.25" width="69.82" height="12.34" fill="#ffc7c7"/>
<rect x="1644.58" y="1135.25" width="69.42" height="12.34" fill="#dbdbff"/>
<rect x="499.10" y="1147.19" width="35.11" height="12.34" fill="#c3c3ff"/>
<rect x="533.81" y="1147.19" width="312.80" height="12.34" fill="#ffdcdc"/>
<rect x="846.21" y="1147.19" width="35.11" height="12.34" fill="#c3c3ff"/>
<rect x="880.93" y="1147.19" width="35.11" height="12.34" fill="#ffdcdc"/>
<rect x="915.64" y="1147.19" width="35.11" height="12.34" fill="#c3c3ff"/>
<rect x="950.35" y="1147.19" width="173.96" height="12.34" fill="#ffdcdc"/>
<rect x="1123.91" y="1147.19" width="347.51" height="12.34" fill="#c3c3ff"/>
<rect x="1471.02" y="1147.19" width="69.82" height="12.34" fill="#ffeaea"/>
<rect x="1540.44" y="1147.19" width="173.56" height="12.34" fill="#ffdcdc"/>
<rect x="499.10" y="1159.13" width="69.82" height="12.34" fill="#dbdbff"/>
<rect x="568.52" y="1159.13" width="173.96" height="12.34" fill="#ffc7c7"/>
<rect x="742.08" y="1159.13" width="35.11" height="12.34" fill="#dbdbff"/>
<rect x="776.79" y="1159.13" width="69.82" height="12.34" fill="#ffc7c7"/>
<rect x="846.21" y="1159.13" width="139.25" height="12.34" fill="#dbdbff"/>
<rect x="985.06" y="1159.13" width="139.25" height="12.34" fill="#ffc7c7"/>
<rect x="1123.91" y="1159.13" width="347.51" height="12.34" fill="#dbdbff"/>
<rect x="1471.02" y="1159.13" width="69.82" height="12.34" fill="#ffdcdc"/>
<rect x="1540.44" y="1159.13" width="35.11" height="12.34" fill="#dbdbff"/>
<rect x="1575.15" y="1159.13" width="138.85" height="12.34" fill="#ffc7c7"/>
<rect x="499.10" y="1171.07" width="104.53" height="12.34" fill="#ffeaea"/>
<rect x="603.23" y="1171.07" width="35.11" height="12.34" fill="#b0b0ff"/>
<rect x="637.95" y="1171.07" width="35.11" height="12.34" fill="#fff6f6"/>
<rect x="672.66" y="1171.07" width="69.82" height="12.34" fill="#ffeaea"/>
<rect x="742.08" y="1171.07" width="35.11" height="12.34" fill="#fff6f6"/>
<rect x="776.79" y="1171.07" width="104.53" height="12.34" fill="#ffeaea"/>
<rect x="880.93" y="1171.07" width="69.82" height="12.34" fill="#b0b0ff"/>
<rect x="950.35" y="1171.07" width="35.11" height="12.34" fill="#ffeaea"/>
<rect x="985.06" y="1171.07" width="104.53" height="12.34" fill="#fff6f6"/>
<rect x="1089.19" y="1171.07" width="35.11" height="12.34" fill="#b0b0ff"/>
<rect x="1123.91" y="1171.07" width="243.38" height="12.34" fill="#ffeaea"/>
<rect x="1366.89" y="1171.07" width="35.11" height="12.34" fill="#b0b0ff"/>
<rect x="1401.60" y="1171.07" width="69.82" height="12.34" fill="#ffeaea"/>
<rect x="1471.02" y="1171.07" width="35.11" height="12.34" fill="#b0b0ff"/>
<rect x="1505.73" y="1171.07" width="35.11" height="12.34" fill="#fff6f6"/>
<rect x="1540.44" y="1171.07" width="35.11" height="12.34" fill="#b0b0ff"/>
<rect x="1575.15" y="1171.07" width="35.11" height="12.34" fill="#fff6f6"/>
<rect x="1609.87" y="1171.07" width="35.11" height="12.34" fill="#b0b0ff"/>
<rect x="1644.58" y="1171.07" width="35.11" height="12.34" fill="#ffeaea"/>
<rect x="1679.29" y="1171.07" width="34.71" height="12.34" fill="#b0b0ff"/>
<rect x="499.10" y="1183.01" width="35.11" height="12.34" fill="#fff6f6"/>
<rect x="533.81" y="1183.01" width="35.11" height="12.34" fill="#ffeaea"/>
<rect x="568.52" y="1183.01" width="173.96" height="12.34" fill="#b0b0ff"/>
<rect x="742.08" y="1183.01" width="139.25" height="12.34" fill="#ffeaea"/>
<rect x="880.93" y="1183.01" width="35.11" height="12.34" fill="#b0b0ff"/>
<rect x="915.64" y="1183.01" width="69.82" height="12.34" fill="#ffeaea"/>
<rect x="985.06" y="1183.01" width="35.11" height="12.34" fill="#fff6f6"/>
<rect x="1019.77" y="1183.01" width="35.11" height="12.34" fill="#ffeaea"/>
<rect x="1054.48" y="1183.01" width="35.11" height="12.34" fill="#fff6f6"/>
<rect x="1089.19" y="1183.01" width="35.11" height="12.34" fill="#b0b0ff"/>
<rect x="1123.91" y="1183.01" width="35.11" height="12.34" fill="#ffeaea"/>
<rect x="1158.62" y="1183.01" width="35.11" height="12.34" fill="#fff6f6"/>
<rect x="1193.33" y="1183.01" width="208.67" height="12.34" fill="#ffeaea"/>
<rect x="1401.60" y="1183.01" width="35.11" height="12.34" fill="#b0b0ff"/>
<rect x="1436.31" y="1183.01" width="208.67" height="12.34" fill="#ffeaea"/>
<rect x="1644.58" y="1183.01" width="35.11" height="12.34" fill="#b0b0ff"/>
<rect x="1679.29" y="1183.01" width="34.71" height="12.34" fill="#ffeaea"/>
<rect x="499.10" y="1194.95" width="35.11" height="12.34" fill="#ffeaea"/>
<rect x="533.81" y="1194.95" width="35.11" height="12.34" fill="#ffdcdc"/>
<rect x="568.52" y="1194.95" width="69.82" height="12.34" fill="#b0b0ff"/>
<rect x="637.95" y="1194.95" width="35.11" height="12.34" fill="#c3c3ff"/>
<rect x="672.66" y="1194.95" width="69.82" height="12.34" fill="#ffeaea"/>
<rect x="742.08" y="1194.95" width="35.11" height="12.34" fill="#c3c3ff"/>
<rect x="776.79" y="1194.95" width="104.53" height="12.34" fill="#ffeaea"/>
<rect x="880.93" y="1194.95" width="69.82" height="12.34" fill="#b0b0ff"/>
<rect x="950.35" y="1194.95" width="35.11" height="12.34" fill="#fff6f6"/>
<rect x="985.06" y="1194.95" width="35.11" height="12.34" fill="#ffdcdc"/>
<rect x="1019.77" y="1194.95" width="104.53" height="12.34" fill="#c3c3ff"/>
<rect x="1123.91" y="1194.95" width="35.11" height="12.34" fill="#ffdcdc"/>
<rect x="1158.62" y="1194.95" width="35.11" height="12.34" fill="#b0b0ff"/>
<rect x="1193.33" y="1194.95" width="104.53" height="12.34" fill="#ffeaea"/>
<rect x="1297.46" y="1194.95" width="35.11" height="12.34" fill="#b0b0ff"/>
<rect x="1332.17" y="1194.95" width="173.96" height="12.34" fill="#ffeaea"/>
<rect x="1505.73" y="1194.95" width="35.11" height="12.34" fill="#ffdcdc"/>
<rect x="1540.44" y="1194.95" width="35.11" height="12.34" fill="#ffeaea"/>
<rect x="1575.15" y="1194.95" width="35.11" height="12.34" fill="#b0b0ff"/>
<rect x="1609.87" y="1194.95" width="69.82" height="12.34" fill="#ffeaea"/>
<rect x="1679.29" y="1194.95" width="34.71" height="12.34" fill="#ffdcdc"/>
<rect x="499.10" y="1206.88" width="35.11" height="12.34" fill="#ffdcdc"/>
<rect x="533.81" y="1206.88" width="35.11" height="12.34" fill="#dbdbff"/>
<rect x="568.52" y="1206.88" width="35.11" height="12.34" fill="#ffc7c7"/>
<rect x="603.23" y="1206.88" width="69.82" height="12.34" fill="#dbdbff"/>
<rect x="672.66" y="1206.88" width="35.11" height="12.34" fill="#ffc7c7"/>
<rect x="707.37" y="1206.88" width="35.11" height="12.34" fill="#ffdcdc"/>
<rect x="742.08" y="1206.88" width="35.11" height="12.34" fill="#dbdbff"/>
<rect x="776.79" y="1206.88" width="35.11" height="12.34" fill="#ffc7c7"/>
<rect x="811.50" y="1206.88" width="35.11" height="12.34" fill="#ffb6b6"/>
<rect x="846.21" y="1206.88" width="35.11" height="12.34" fill="#ffc7c7"/>
<rect x="880.93" y="1206.88" width="104.53" height="12.34" fill="#dbdbff"/>
<rect x="985.06" y="1206.88" width="35.11" height="12.34" fill="#ffdcdc"/>
<rect x="1019.77" y="1206.88" width="104.53" height="12.34" fill="#dbdbff"/>
<rect x="1123.91" y="1206.88" width="35.11" height="12.34" fill="#ffc7c7"/>
<rect x="1158.62" y="1206.88" width="35.11" height="12.34" fill="#ffdcdc"/>
<rect x="1193.33" y="1206.88" width="35.11" height="12.34" fill="#dbdbff"/>
<rect x="1228.04" y="1206.88" width="35.11" height="12.34" fill="#ffdcdc"/>
<rect x="1262.75" y="1206.88" width="35.11" height="12.34" fill="#ffc7c7"/>
<rect x="1297.46" y="1206.88" width="35.11" height="12.34" fill="#dbdbff"/>
<rect x="1332.17" y="1206.88" width="139.25" height="12.34" fill="#ffc7c7"/>
<rect x="1471.02" y="1206.88" width="242.98" height="12.34" fill="#dbdbff"/>
<rect x="499.10" y="1218.82" width="139.25" height="12.34" fill="#ffdcdc"/>
<rect x="637.95" y="1218.82" width="35.11" height="12.34" fill="#ffeaea"/>
<rect x="672.66" y="1218.82" width="35.11" height="12.34" fill="#c3c3ff"/>
<rect x="707.37" y="1218.82" width="104.53" height="12.34" fill="#ffdcdc"/>
<rect x="811.50" y="1218.82" width="69.82" height="12.34" fill="#c3c3ff"/>
<rect x="880.93" y="1218.82" width="35.11" height="12.34" fill="#ffeaea"/>
<rect x="915.64" y="1218.82" width="69.82" height="12.34" fill="#c3c3ff"/>
<rect x="985.06" y="1218.82" width="35.11" height="12.34" fill="#ffdcdc"/>
<rect x="1019.77" y="1218.82" width="104.53" height="12.34" fill="#c3c3ff"/>
<rect x="1123.91" y="1218.82" width="347.51" height="12.34" fill="#ffdcdc"/>
<rect x="1471.02" y="1218.82" width="104.53" height="12.34" fill="#c3c3ff"/>
<rect x="1575.15" y="1218.82" width="35.11" height="12.34" fill="#ffeaea"/>
<rect x="1609.87" y="1218.82" width="104.13" height="12.34" fill="#c3c3ff"/>
<rect x="499.10" y="1230.76" width="35.11" height="12.34" fill="#e6e6ff"/>
<rect x="533.81" y="1230.76" width="35.11" height="12.34" fill="#ffb6b6"/>
<rect x="568.52" y="1230.76" width="555.78" height="12.34" fill="#e6e6ff"/>
<rect x="1123.91" y="1230.76" width="69.82" height="12.34" fill="#ffc7c7"/>
<rect x="1193.33" y="1230.76" width="69.82" height="12.34" fill="#ffb6b6"/>
<rect x="1262.75" y="1230.76" width="35.11" height="12.34" fill="#ffc7c7"/>
<rect x="1297.46" y="1230.76" width="69.82" height="12.34" fill="#ffb6b6"/>
<rect x="1366.89" y="1230.76" width="104.53" height="12.34" fill="#ffc7c7"/>
<rect x="1471.02" y="1230.76" width="242.98" height="12.34" fill="#e6e6ff"/>
<rect x="499.10" y="1242.70" width="35.11" height="12.34" fill="#ffdcdc"/>
<rect x="533.81" y="1242.70" width="35.11" height="12.34" fill="#c3c3ff"/>
<rect x="568.52" y="1242.70" width="104.53" height="12.34" fill="#ffdcdc"/>
<rect x="672.66" y="1242.70" width="35.11" height="12.34" fill="#ffc7c7"/>
<rect x="707.37" y="1242.70" width="69.82" height="12.34" fill="#ffdcdc"/>
<rect x="776.79" y="1242.70" width="35.11" height="12.34" fill="#c3c3ff"/>
<rect x="811.50" y="1242.70" width="278.09" height="12.34" fill="#ffdcdc"/>
<rect x="1089.19" y="1242.70" width="104.53" height="12.34" fill="#dbdbff"/>
<rect x="1193.33" y="1242.70" width="69.82" height="12.34" fill="#ffdcdc"/>
<rect x="1262.75" y="1242.70" width="104.53" height="12.34" fill="#dbdbff"/>
<rect x="1366.89" y="1242.70" width="35.11" height="12.34" fill="#ffdcdc"/>
<rect x="1401.60" y="1242.70" width="139.25" height="12.34" fill="#dbdbff"/>
<rect x="1540.44" y="1242.70" width="69.82" height="12.34" fill="#ffdcdc"/>
<rect x="1609.87" y="1242.70" width="104.13" height="12.34" fill="#dbdbff"/>
<rect x="499.10" y="1254.64" width="139.25" height="12.34" fill="#e6e6ff"/>
<rect x="637.95" y="1254.64" width="35.11" height="12.34" fill="#ffc7c7"/>
<rect x="672.66" y="1254.64" width="35.11" height="12.34" fill="#e6e6ff"/>
<rect x="707.37" y="1254.64" width="35.11" height="12.34" fill="#ffc7c7"/>
<rect x="742.08" y="1254.64" width="104.53" height="12.34" fill="#e6e6ff"/>
<rect x="846.21" y="1254.64" width="35.11" height="12.34" fill="#ffc7c7"/>
<rect x="880.93" y="1254.64" width="69.82" height="12.34" fill="#e6e6ff"/>
<rect x="950.35" y="1254.64" width="104.53" height="12.34" fill="#ffc7c7"/>
<rect x="1054.48" y="1254.64" width="35.11" height="12.34" fill="#e6e6ff"/>
<rect x="1089.19" y="1254.64" width="35.11" height="12.34" fill="#ffc7c7"/>
<rect x="1123.91" y="1254.64" width="69.82" height="12.34" fill="#e6e6ff"/>
<rect x="1193.33" y="1254.64" width="69.82" height="12.34" fill="#ffc7c7"/>
<rect x="1262.75" y="1254.64" width="104.53" height="12.34" fill="#e6e6ff"/>
<rect x="1366.89" y="1254.64" width="69.82" height="12.34" fill="#ffc7c7"/>
<rect x="1436.31" y="1254.64" width="69.82" height="12.34" fill="#e6e6ff"/>
<rect x="1505.73" y="1254.64" width="69.82" height="12.34" fill="#ffc7c7"/>
<rect x="1575.15" y="1254.64" width="35.11" height="12.34" fill="#e6e6ff"/>
<rect x="1609.87" y="1254.64" width="35.11" height="12.34" fill="#ffc7c7"/>
<rect x="1644.58" y="1254.64" width="69.42" height="12.34" fill="#e6e6ff"/>
<rect x="499.10" y="1266.58" width="35.11" height="12.34" fill="#fff6f6"/>
<rect x="533.81" y="1266.58" width="35.11" height="12.34" fill="#c3c3ff"/>
<rect x="568.52" y="1266.58" width="35.11" height="12.34" fill="#ffdcdc"/>
<rect x="603.23" y="1266.58" width="173.96" height="12.34" fill="#ffeaea"/>
<rect x="776.79" y="1266.58" width="35.11" height="12.34" fill="#c3c3ff"/>
<rect x="811.50" y="1266.58" width="35.11" height="12.34" fill="#ffdcdc"/>
<rect x="846.21" y="1266.58" width="69.82" height="12.34" fill="#ffeaea"/>
<rect x="915.64" y="1266.58" width="173.96" height="12.34" fill="#c3c3ff"/>
<rect x="1089.19" y="1266.58" width="243.38" height="12.34" fill="#ffeaea"/>
<rect x="1332.17" y="1266.58" width="139.25" height="12.34" fill="#ffdcdc"/>
<rect x="1471.02" y="1266.58" width="35.11" height="12.34" fill="#c3c3ff"/>
<rect x="1505.73" y="1266.58" width="69.82" height="12.34" fill="#ffeaea"/>
<rect x="1575.15" y="1266.58" width="104.53" height="12.34" fill="#c3c3ff"/>
<rect x="1679.29" y="1266.58" width="34.71" height="12.34" fill="#ffeaea"/>
<rect x="499.10" y="1278.52" width="104.53" height="12.34" fill="#dbdbff"/>
<rect x="603.23" y="1278.52" width="69.82" height="12.34" fill="#ffdcdc"/>
<rect x="672.66" y="1278.52" width="35.11" height="12.34" fill="#ffc7c7"/>
<rect x="707.37" y="1278.52" width="35.11" height="12.34" fill="#dbdbff"/>
<rect x="742.08" y="1278.52" width="35.11" height="12.34" fill="#ffc7c7"/>
<rect x="776.79" y="1278.52" width="69.82" height="12.34" fill="#dbdbff"/>
<rect x="846.21" y="1278.52" width="35.11" height="12.34" fill="#ffdcdc"/>
<rect x="880.93" y="1278.52" width="243.38" height="12.34" fill="#dbdbff"/>
<rect x="1123.91" y="1278.52" width="35.11" height="12.34" fill="#ffc7c7"/>
<rect x="1158.62" y="1278.52" width="35.11" height="12.34" fill="#dbdbff"/>
<rect x="1193.33" y="1278.52" width="69.82" height="12.34" fill="#ffdcdc"/>
<rect x="1262.75" y="1278.52" width="35.11" height="12.34" fill="#dbdbff"/>
<rect x="1297.46" y="1278.52" width="35.11" height="12.34" fill="#ffdcdc"/>
<rect x="1332.17" y="1278.52" width="35.11" height="12.34" fill="#dbdbff"/>
<rect x="1366.89" y="1278.52" width="104.53" height="12.34" fill="#ffc7c7"/>
<rect x="1471.02" y="1278.52" width="35.11" height="12.34" fill="#dbdbff"/>
<rect x="1505.73" y="1278.52" width="35.11" height="12.34" fill="#ffdcdc"/>
<rect x="1540.44" y="1278.52" width="35.11" height="12.34" fill="#ffc7c7"/>
<rect x="1575.15" y="1278.52" width="35.11" height="12.34" fill="#ffdcdc"/>
<rect x="1609.87" y="1278.52" width="35.11" height="12.34" fill="#ffc7c7"/>
<rect x="1644.58" y="1278.52" width="35.11" height="12.34" fill="#dbdbff"/>
<rect x="1679.29" y="1278.52" width="34.71" height="12.34" fill="#ffc7c7"/>
<rect x="499.10" y="1290.46" width="69.82" height="12.34" fill="#ffdcdc"/>
<rect x="568.52" y="1290.46" width="35.11" height="12.34" fill="#ffc7c7"/>
<rect x="603.23" y="1290.46" width="173.96" height="12.34" fill="#ffdcdc"/>
<rect x="776.79" y="1290.46" width="69.82" height="12.34" fill="#dbdbff"/>
<rect x="846.21" y="1290.46" width="35.11" height="12.34" fill="#ffdcdc"/>
<rect x="880.93" y="1290.46" width="278.09" height="12.34" fill="#dbdbff"/>
<rect x="1158.62" y="1290.46" width="69.82" height="12.34" fill="#ffdcdc"/>
<rect x="1228.04" y="1290.46" width="104.53" height="12.34" fill="#dbdbff"/>
<rect x="1332.17" y="1290.46" width="35.11" height="12.34" fill="#ffc7c7"/>
<rect x="1366.89" y="1290.46" width="139.25" height="12.34" fill="#ffdcdc"/>
<rect x="1505.73" y="1290.46" width="69.82" height="12.34" fill="#ffeaea"/>
<rect x="1575.15" y="1290.46" width="69.82" height="12.34" fill="#dbdbff"/>
<rect x="1644.58" y="1290.46" width="35.11" height="12.34" fill="#ffdcdc"/>
<rect x="1679.29" y="1290.46" width="34.71" height="12.34" fill="#dbdbff"/>
<rect x="499.10" y="1302.40" width="173.96" height="12.34" fill="#e6e6ff"/>
<rect x="672.66" y="1302.40" width="35.11" height="12.34" fill="#ffb6b6"/>
<rect x="707.37" y="1302.40" width="139.25" height="12.34" fill="#e6e6ff"/>
<rect x="846.21" y="1302.40" width="35.11" height="12.34" fill="#ffb6b6"/>
<rect x="880.93" y="1302.40" width="69.82" height="12.34" fill="#e6e6ff"/>
<rect x="950.35" y="1302.40" width="35.11" height="12.34" fill="#ffb6b6"/>
<rect x="985.06" y="1302.40" width="208.67" height="12.34" fill="#e6e6ff"/>
<rect x="1193.33" y="1302.40" width="35.11" height="12.34" fill="#ffb6b6"/>
<rect x="1228.04" y="1302.40" width="69.82" height="12.34" fill="#e6e6ff"/>
<rect x="1297.46" y="1302.40" width="104.53" height="12.34" fill="#ffb6b6"/>
<rect x="1401.60" y="1302.40" width="35.11" height="12.34" fill="#e6e6ff"/>
<rect x="1436.31" y="1302.40" width="35.11" height="12.34" fill="#ffb6b6"/>
<rect x="1471.02" y="1302.40" width="35.11" height="12.34" fill="#e6e6ff"/>
<rect x="1505.73" y="1302.40" width="69.82" height="12.34" fill="#ffb6b6"/>
<rect x="1575.15" y="1302.40" width="69.82" height="12.34" fill="#e6e6ff"/>
<rect x="1644.58" y="1302.40" width="35.11" height="12.34" fill="#ffb6b6"/>
<rect x="1679.29" y="1302.40" width="34.71" height="12.34" fill="#e6e6ff"/>
<rect x="499.10" y="1314.34" width="69.82" height="12.34" fill="#ffa0a0"/>
<rect x="568.52" y="1314.34" width="208.67" height="12.34" fill="#e6e6ff"/>
<rect x="776.79" y="1314.34" width="35.11" height="12.34" fill="#ffa0a0"/>
<rect x="811.50" y="1314.34" width="173.96" height="12.34" fill="#e6e6ff"/>
<rect x="985.06" y="1314.34" width="35.11" height="12.34" fill="#ffa0a0"/>
<rect x="1019.77" y="1314.34" width="104.53" height="12.34" fill="#e6e6ff"/>
<rect x="1123.91" y="1314.34" width="35.11" height="12.34" fill="#ffb6b6"/>
<rect x="1158.62" y="1314.34" width="35.11" height="12.34" fill="#e6e6ff"/>
<rect x="1193.33" y="1314.34" width="104.53" height="12.34" fill="#ffa0a0"/>
<rect x="1297.46" y="1314.34" width="416.54" height="12.34" fill="#e6e6ff"/>
<rect x="499.10" y="1326.28" width="35.11" height="12.34" fill="#ffa0a0"/>
<rect x="533.81" y="1326.28" width="104.53" height="12.34" fill="#e6e6ff"/>
<rect x="637.95" y="1326.28" width="35.11" height="12.34" fill="#ffa0a0"/>
<rect x="672.66" y="1326.28" width="278.09" height="12.34" fill="#e6e6ff"/>
<rect x="950.35" y="1326.28" width="35.11" height="12.34" fill="#ff8484"/>
<rect x="985.06" y="1326.28" width="139.25" height="12.34" fill="#e6e6ff"/>
<rect x="1123.91" y="1326.28" width="35.11" height="12.34" fill="#ffa0a0"/>
<rect x="1158.62" y="1326.28" width="69.82" height="12.34" fill="#e6e6ff"/>
<rect x="1228.04" y="1326.28" width="35.11" height="12.34" fill="#ff8484"/>
<rect x="1262.75" y="1326.28" width="104.53" height="12.34" fill="#e6e6ff"/>
<rect x="1366.89" y="1326.28" width="35.11" height="12.34" fill="#ffa0a0"/>
<rect x="1401.60" y="1326.28" width="312.40" height="12.34" fill="#e6e6ff"/>
<rect x="499.10" y="1338.22" width="139.25" height="12.34" fill="#e6e6ff"/>
<rect x="637.95" y="1338.22" width="69.82" height="12.34" fill="#ffb6b6"/>
<rect x="707.37" y="1338.22" width="69.82" height="12.34" fill="#e6e6ff"/>
<rect x="776.79" y="1338.22" width="35.11" height="12.34" fill="#ffb6b6"/>
<rect x="811.50" y="1338.22" width="35.11" height="12.34" fill="#ffa0a0"/>
<rect x="846.21" y="1338.22" width="35.11" height="12.34" fill="#e6e6ff"/>
<rect x="880.93" y="1338.22" width="35.11" height="12.34" fill="#ffb6b6"/>
<rect x="915.64" y="1338.22" width="69.82" height="12.34" fill="#e6e6ff"/>
<rect x="985.06" y="1338.22" width="35.11" height="12.34" fill="#ffb6b6"/>
<rect x="1019.77" y="1338.22" width="69.82" height="12.34" fill="#e6e6ff"/>
<rect x="1089.19" y="1338.22" width="104.53" height="12.34" fill="#ffb6b6"/>
<rect x="1193.33" y="1338.22" width="173.96" height="12.34" fill="#e6e6ff"/>
<rect x="1366.89" y="1338.22" width="35.11" height="12.34" fill="#ffb6b6"/>
<rect x="1401.60" y="1338.22" width="278.09" height="12.34" fill="#e6e6ff"/>
<rect x="1679.29" y="1338.22" width="34.71" height="12.34" fill="#ffb6b6"/>
<rect x="499.10" y="1350.16" width="173.96" height="12.34" fill="#e6e6ff"/>
<rect x="672.66" y="1350.16" width="35.11" height="12.34" fill="#ffa0a0"/>
<rect x="707.37" y="1350.16" width="69.82" height="12.34" fill="#e6e6ff"/>
<rect x="776.79" y="1350.16" width="35.11" height="12.34" fill="#ffb6b6"/>
<rect x="811.50" y="1350.16" width="35.11" height="12.34" fill="#ffa0a0"/>
<rect x="846.21" y="1350.16" width="382.23" height="12.34" fill="#e6e6ff"/>
<rect x="1228.04" y="1350.16" width="35.11" height="12.34" fill="#ffb6b6"/>
<rect x="1262.75" y="1350.16" width="69.82" height="12.34" fill="#e6e6ff"/>
<rect x="1332.17" y="1350.16" width="69.82" height="12.34" fill="#ffb6b6"/>
<rect x="1401.60" y="1350.16" width="35.11" height="12.34" fill="#e6e6ff"/>
<rect x="1436.31" y="1350.16" width="69.82" height="12.34" fill="#ffb6b6"/>
<rect x="1505.73" y="1350.16" width="35.11" height="12.34" fill="#e6e6ff"/>
<rect x="1540.44" y="1350.16" width="35.11" height="12.34" fill="#ffb6b6"/>
<rect x="1575.15" y="1350.16" width="104.53" height="12.34" fill="#e6e6ff"/>
<rect x="1679.29" y="1350.16" width="34.71" height="12.34" fill="#ffb6b6"/>
<rect x="499.10" y="1362.10" width="35.11" height="12.34" fill="#e6e6ff"/>
<rect x="533.81" y="1362.10" width="35.11" height="12.34" fill="#ffa0a0"/>
<rect x="568.52" y="1362.10" width="69.82" height="12.34" fill="#ffb6b6"/>
<rect x="637.95" y="1362.10" width="35.11" height="12.34" fill="#e6e6ff"/>
<rect x="672.66" y="1362.10" width="35.11" height="12.34" fill="#ffa0a0"/>
<rect x="707.37" y="1362.10" width="104.53" height="12.34" fill="#e6e6ff"/>
<rect x="811.50" y="1362.10" width="35.11" height="12.34" fill="#ffa0a0"/>
<rect x="846.21" y="1362.10" width="451.65" height="12.34" fill="#e6e6ff"/>
<rect x="1297.46" y="1362.10" width="35.11" height="12.34" fill="#ffb6b6"/>
<rect x="1332.17" y="1362.10" width="35.11" height="12.34" fill="#e6e6ff"/>
<rect x="1366.89" y="1362.10" width="69.82" height="12.34" fill="#ffb6b6"/>
<rect x="1436.31" y="1362.10" width="35.11" height="12.34" fill="#e6e6ff"/>
<rect x="1471.02" y="1362.10" width="69.82" height="12.34" fill="#ffb6b6"/>
<rect x="1540.44" y="1362.10" width="173.56" height="12.34" fill="#e6e6ff"/>
<rect x="499.10" y="1374.04" width="69.82" height="12.34" fill="#e6e6ff"/>
<rect x="568.52" y="1374.04" width="35.11" height="12.34" fill="#ffa0a0"/>
<rect x="603.23" y="1374.04" width="208.67" height="12.34" fill="#e6e6ff"/>
<rect x="811.50" y="1374.04" width="35.11" height="12.34" fill="#ffa0a0"/>
<rect x="846.21" y="1374.04" width="35.11" height="12.34" fill="#e6e6ff"/>
<rect x="880.93" y="1374.04" width="35.11" height="12.34" fill="#ffa0a0"/>
<rect x="915.64" y="1374.04" width="243.38" height="12.34" fill="#e6e6ff"/>
<rect x="1158.62" y="1374.04" width="35.11" height="12.34" fill="#ffa0a0"/>
<rect x="1193.33" y="1374.04" width="35.11" height="12.34" fill="#e6e6ff"/>
<rect x="1228.04" y="1374.04" width="35.11" height="12.34" fill="#ffa0a0"/>
<rect x="1262.75" y="1374.04" width="104.53" height="12.34" fill="#e6e6ff"/>
<rect x="1366.89" y="1374.04" width="104.53" height="12.34" fill="#ffb6b6"/>
<rect x="1471.02" y="1374.04" width="173.96" height="12.34" fill="#e6e6ff"/>
<rect x="1644.58" y="1374.04" width="35.11" height="12.34" fill="#ffb6b6"/>
<rect x="1679.29" y="1374.04" width="34.71" height="12.34" fill="#e6e6ff"/>
<rect x="499.10" y="1385.98" width="69.82" height="12.34" fill="#ffa0a0"/>
<rect x="568.52" y="1385.98" width="555.78" height="12.34" fill="#e6e6ff"/>
<rect x="1123.91" y="1385.98" width="35.11" height="12.34" fill="#ff8484"/>
<rect x="1158.62" y="1385.98" width="35.11" height="12.34" fill="#ffa0a0"/>
<rect x="1193.33" y="1385.98" width="208.67" height="12.34" fill="#e6e6ff"/>
<rect x="1401.60" y="1385.98" width="69.82" height="12.34" fill="#ffa0a0"/>
<rect x="1471.02" y="1385.98" width="242.98" height="12.34" fill="#e6e6ff"/>
<rect x="499.10" y="1397.92" width="208.67" height="12.34" fill="#e6e6ff"/>
<rect x="707.37" y="1397.92" width="35.11" height="12.34" fill="#ff8484"/>
<rect x="742.08" y="1397.92" width="416.94" height="12.34" fill="#e6e6ff"/>
<rect x="1158.62" y="1397.92" width="35.11" height="12.34" fill="#ff8484"/>
<rect x="1193.33" y="1397.92" width="35.11" height="12.34" fill="#e6e6ff"/>
<rect x="1228.04" y="1397.92" width="35.11" height="12.34" fill="#ff8484"/>
<rect x="1262.75" y="1397.92" width="139.25" height="12.34" fill="#e6e6ff"/>
<rect x="1401.60" y="1397.92" width="35.11" height="12.34" fill="#ff8484"/>
<rect x="1436.31" y="1397.92" width="35.11" height="12.34" fill="#e6e6ff"/>
<rect x="1471.02" y="1397.92" width="35.11" height="12.34" fill="#ffa0a0"/>
<rect x="1505.73" y="1397.92" width="208.27" height="12.34" fill="#e6e6ff"/>
<rect x="499.10" y="1409.86" width="659.92" height="12.34" fill="#f2f2ff"/>
<rect x="1158.62" y="1409.86" width="69.82" height="12.34" fill="#ff8484"/>
<rect x="1228.04" y="1409.86" width="139.25" height="12.34" fill="#f2f2ff"/>
<rect x="1366.89" y="1409.86" width="69.82" height="12.34" fill="#ff8484"/>
<rect x="1436.31" y="1409.86" width="277.69" height="12.34" fill="#f2f2ff"/>
<rect x="499.10" y="1421.80" width="35.11" height="12.34" fill="#dbdbff"/>
<rect x="533.81" y="1421.80" width="35.11" height="12.34" fill="#ffc7c7"/>
<rect x="568.52" y="1421.80" width="35.11" height="12.34" fill="#dbdbff"/>
<rect x="603.23" y="1421.80" width="35.11" height="12.34" fill="#ffc7c7"/>
<rect x="637.95" y="1421.80" width="278.09" height="12.34" fill="#dbdbff"/>
<rect x="915.64" y="1421.80" width="69.82" height="12.34" fill="#ffc7c7"/>
<rect x="985.06" y="1421.80" width="104.53" height="12.34" fill="#dbdbff"/>
<rect x="1089.19" y="1421.80" width="35.11" height="12.34" fill="#ffb6b6"/>
<rect x="1123.91" y="1421.80" width="312.80" height="12.34" fill="#dbdbff"/>
<rect x="1436.31" y="1421.80" width="277.69" height="12.34" fill="#ffc7c7"/>
<rect x="499.10" y="1433.74" width="243.38" height="12.34" fill="#e6e6ff"/>
<rect x="742.08" y="1433.74" width="35.11" height="12.34" fill="#ffb6b6"/>
<rect x="776.79" y="1433.74" width="139.25" height="12.34" fill="#e6e6ff"/>
<rect x="915.64" y="1433.74" width="69.82" height="12.34" fill="#ffb6b6"/>
<rect x="985.06" y="1433.74" width="104.53" height="12.34" fill="#e6e6ff"/>
<rect x="1089.19" y="1433.74" width="35.11" height="12.34" fill="#ffb6b6"/>
<rect x="1123.91" y="1433.74" width="347.51" height="12.34" fill="#e6e6ff"/>
<rect x="1471.02" y="1433.74" width="139.25" height="12.34" fill="#ffb6b6"/>
<rect x="1609.87" y="1433.74" width="35.11" height="12.34" fill="#e6e6ff"/>
<rect x="1644.58" y="1433.74" width="69.42" height="12.34" fill="#ffb6b6"/>
<rect x="499.10" y="1445.68" width="243.38" height="12.34" fill="#e6e6ff"/>
<rect x="742.08" y="1445.68" width="35.11" height="12.34" fill="#ffa0a0"/>
<rect x="776.79" y="1445.68" width="139.25" height="12.34" fill="#e6e6ff"/>
<rect x="915.64" y="1445.68" width="69.82" height="12.34" fill="#ffa0a0"/>
<rect x="985.06" y="1445.68" width="486.36" height="12.34" fill="#e6e6ff"/>
<rect x="1471.02" y="1445.68" width="69.82" height="12.34" fill="#ffa0a0"/>
<rect x="1540.44" y="1445.68" width="35.11" height="12.34" fill="#ffb6b6"/>
<rect x="1575.15" y="1445.68" width="35.11" height="12.34" fill="#ffa0a0"/>
<rect x="1609.87" y="1445.68" width="69.82" height="12.34" fill="#e6e6ff"/>
<rect x="1679.29" y="1445.68" width="34.71" height="12.34" fill="#ffa0a0"/>
<rect x="499.10" y="1457.62" width="35.11" height="12.34" fill="#dbdbff"/>
<rect x="533.81" y="1457.62" width="35.11" height="12.34" fill="#ffc7c7"/>
<rect x="568.52" y="1457.62" width="139.25" height="12.34" fill="#dbdbff"/>
<rect x="707.37" y="1457.62" width="104.53" height="12.34" fill="#ffc7c7"/>
<rect x="811.50" y="1457.62" width="69.82" height="12.34" fill="#dbdbff"/>
<rect x="880.93" y="1457.62" width="35.11" height="12.34" fill="#ffb6b6"/>
<rect x="915.64" y="1457.62" width="104.53" height="12.34" fill="#dbdbff"/>
<rect x="1019.77" y="1457.62" width="35.11" height="12.34" fill="#ffb6b6"/>
<rect x="1054.48" y="1457.62" width="35.11" height="12.34" fill="#dbdbff"/>
<rect x="1089.19" y="1457.62" width="35.11" height="12.34" fill="#ffb6b6"/>
<rect x="1123.91" y="1457.62" width="139.25" height="12.34" fill="#dbdbff"/>
<rect x="1262.75" y="1457.62" width="35.11" height="12.34" fill="#ffb6b6"/>
<rect x="1297.46" y="1457.62" width="173.96" height="12.34" fill="#dbdbff"/>
<rect x="1471.02" y="1457.62" width="35.11" height="12.34" fill="#ffc7c7"/>
<rect x="1505.73" y="1457.62" width="35.11" height="12.34" fill="#dbdbff"/>
<rect x="1540.44" y="1457.62" width="35.11" height="12.34" fill="#ffb6b6"/>
<rect x="1575.15" y="1457.62" width="35.11" height="12.34" fill="#dbdbff"/>
<rect x="1609.87" y="1457.62" width="104.13" height="12.34" fill="#ffb6b6"/>
<rect x="499.10" y="1469.56" width="69.82" height="12.34" fill="#dbdbff"/>
<rect x="568.52" y="1469.56" width="35.11" height="12.34" fill="#ffb6b6"/>
<rect x="603.23" y="1469.56" width="139.25" height="12.34" fill="#dbdbff"/>
<rect x="742.08" y="1469.56" width="69.82" height="12.34" fill="#ffc7c7"/>
<rect x="811.50" y="1469.56" width="69.82" height="12.34" fill="#dbdbff"/>
<rect x="880.93" y="1469.56" width="35.11" height="12.34" fill="#ffb6b6"/>
<rect x="915.64" y="1469.56" width="104.53" height="12.34" fill="#dbdbff"/>
<rect x="1019.77" y="1469.56" width="35.11" height="12.34" fill="#ffb6b6"/>
<rect x="1054.48" y="1469.56" width="35.11" height="12.34" fill="#ffc7c7"/>
<rect x="1089.19" y="1469.56" width="35.11" height="12.34" fill="#ffb6b6"/>
<rect x="1123.91" y="1469.56" width="416.94" height="12.34" fill="#dbdbff"/>
<rect x="1540.44" y="1469.56" width="69.82" height="12.34" fill="#ffb6b6"/>
<rect x="1609.87" y="1469.56" width="35.11" height="12.34" fill="#ffc7c7"/>
<rect x="1644.58" y="1469.56" width="69.42" height="12.34" fill="#ffb6b6"/>
<rect x="499.10" y="1481.50" width="35.11" height="12.34" fill="#dbdbff"/>
<rect x="533.81" y="1481.50" width="35.11" height="12.34" fill="#ffb6b6"/>
<rect x="568.52" y="1481.50" width="35.11" height="12.34" fill="#dbdbff"/>
<rect x="603.23" y="1481.50" width="35.11" height="12.34" fill="#ffb6b6"/>
<rect x="637.95" y="1481.50" width="208.67" height="12.34" fill="#dbdbff"/>
<rect x="846.21" y="1481.50" width="69.82" height="12.34" fill="#ffb6b6"/>
<rect x="915.64" y="1481.50" width="139.25" height="12.34" fill="#dbdbff"/>
<rect x="1054.48" y="1481.50" width="35.11" height="12.34" fill="#ffc7c7"/>
<rect x="1089.19" y="1481.50" width="35.11" height="12.34" fill="#ffb6b6"/>
<rect x="1123.91" y="1481.50" width="382.23" height="12.34" fill="#dbdbff"/>
<rect x="1505.73" y="1481.50" width="208.27" height="12.34" fill="#ffb6b6"/>
<rect x="499.10" y="1493.44" width="382.23" height="12.34" fill="#e6e6ff"/>
<rect x="880.93" y="1493.44" width="35.11" height="12.34" fill="#ffb6b6"/>
<rect x="915.64" y="1493.44" width="35.11" height="12.34" fill="#e6e6ff"/>
<rect x="950.35" y="1493.44" width="104.53" height="12.34" fill="#ffb6b6"/>
<rect x="1054.48" y="1493.44" width="278.09" height="12.34" fill="#e6e6ff"/>
<rect x="1332.17" y="1493.44" width="35.11" height="12.34" fill="#ffb6b6"/>
<rect x="1366.89" y="1493.44" width="173.96" height="12.34" fill="#e6e6ff"/>
<rect x="1540.44" y="1493.44" width="173.56" height="12.34" fill="#ffb6b6"/>
<rect x="499.10" y="1505.38" width="382.23" height="12.34" fill="#e6e6ff"/>
<rect x="880.93" y="1505.38" width="35.11" height="12.34" fill="#ffa0a0"/>
<rect x="915.64" y="1505.38" width="69.82" height="12.34" fill="#e6e6ff"/>
<rect x="985.06" y="1505.38" width="35.11" height="12.34" fill="#ffa0a0"/>
<rect x="1019.77" y="1505.38" width="69.82" height="12.34" fill="#e6e6ff"/>
<rect x="1089.19" y="1505.38" width="35.11" height="12.34" fill="#ffa0a0"/>
<rect x="1123.91" y="1505.38" width="416.94" height="12.34" fill="#e6e6ff"/>
<rect x="1540.44" y="1505.38" width="173.56" height="12.34" fill="#ffa0a0"/>
<rect x="499.10" y="1517.32" width="104.53" height="12.34" fill="#e6e6ff"/>
<rect x="603.23" y="1517.32" width="35.11" height="12.34" fill="#ffa0a0"/>
<rect x="637.95" y="1517.32" width="208.67" height="12.34" fill="#e6e6ff"/>
<rect x="846.21" y="1517.32" width="69.82" height="12.34" fill="#ffa0a0"/>
<rect x="915.64" y="1517.32" width="35.11" height="12.34" fill="#e6e6ff"/>
<rect x="950.35" y="1517.32" width="35.11" height="12.34" fill="#ffa0a0"/>
<rect x="985.06" y="1517.32" width="451.65" height="12.34" fill="#e6e6ff"/>
<rect x="1436.31" y="1517.32" width="35.11" height="12.34" fill="#ffa0a0"/>
<rect x="1471.02" y="1517.32" width="104.53" height="12.34" fill="#e6e6ff"/>
<rect x="1575.15" y="1517.32" width="35.11" height="12.34" fill="#ffa0a0"/>
<rect x="1609.87" y="1517.32" width="69.82" height="12.34" fill="#e6e6ff"/>
<rect x="1679.29" y="1517.32" width="34.71" height="12.34" fill="#ffb6b6"/>
<rect x="499.10" y="1529.26" width="69.82" height="12.34" fill="#ffa0a0"/>
<rect x="568.52" y="1529.26" width="243.38" height="12.34" fill="#e6e6ff"/>
<rect x="811.50" y="1529.26" width="104.53" height="12.34" fill="#ffa0a0"/>
<rect x="915.64" y="1529.26" width="278.09" height="12.34" fill="#e6e6ff"/>
<rect x="1193.33" y="1529.26" width="35.11" height="12.34" fill="#ffa0a0"/>
<rect x="1228.04" y="1529.26" width="485.96" height="12.34" fill="#e6e6ff"/>
<rect x="499.10" y="1541.20" width="35.11" height="12.34" fill="#f2f2ff"/>
<rect x="533.81" y="1541.20" width="35.11" height="12.34" fill="#ff8484"/>
<rect x="568.52" y="1541.20" width="312.80" height="12.34" fill="#f2f2ff"/>
<rect x="880.93" y="1541.20" width="35.11" height="12.34" fill="#ff8484"/>
<rect x="915.64" y="1541.20" width="382.23" height="12.34" fill="#f2f2ff"/>
<rect x="1297.46" y="1541.20" width="35.11" height="12.34" fill="#ff8484"/>
<rect x="1332.17" y="1541.20" width="208.67" height="12.34" fill="#f2f2ff"/>
<rect x="1540.44" y="1541.20" width="35.11" height="12.34" fill="#ff8484"/>
<rect x="1575.15" y="1541.20" width="138.85" height="12.34" fill="#f2f2ff"/>
<rect x="499.10" y="1553.14" width="35.11" height="12.34" fill="#f2f2ff"/>
<rect x="533.81" y="1553.14" width="35.11" height="12.34" fill="#ff6969"/>
<rect x="568.52" y="1553.14" width="312.80" height="12.34" fill="#f2f2ff"/>
<rect x="880.93" y="1553.14" width="35.11" height="12.34" fill="#ff8484"/>
<rect x="915.64" y="1553.14" width="764.05" height="12.34" fill="#f2f2ff"/>
<rect x="1679.29" y="1553.14" width="34.71" height="12.34" fill="#ff6969"/>
<rect x="499.10" y="1565.08" width="278.09" height="12.34" fill="#dbdbff"/>
<rect x="776.79" y="1565.08" width="173.96" height="12.34" fill="#ffa0a0"/>
<rect x="950.35" y="1565.08" width="451.65" height="12.34" fill="#dbdbff"/>
<rect x="1401.60" y="1565.08" width="35.11" height="12.34" fill="#ffa0a0"/>
<rect x="1436.31" y="1565.08" width="35.11" height="12.34" fill="#dbdbff"/>
<rect x="1471.02" y="1565.08" width="35.11" height="12.34" fill="#ffa0a0"/>
<rect x="1505.73" y="1565.08" width="35.11" height="12.34" fill="#dbdbff"/>
<rect x="1540.44" y="1565.08" width="35.11" height="12.34" fill="#ffa0a0"/>
<rect x="1575.15" y="1565.08" width="138.85" height="12.34" fill="#dbdbff"/>
<rect x="499.10" y="1577.02" width="69.82" height="12.34" fill="#dbdbff"/>
<rect x="568.52" y="1577.02" width="69.82" height="12.34" fill="#ffb6b6"/>
<rect x="637.95" y="1577.02" width="35.11" height="12.34" fill="#dbdbff"/>
<rect x="672.66" y="1577.02" width="35.11" height="12.34" fill="#ffb6b6"/>
<rect x="707.37" y="1577.02" width="139.25" height="12.34" fill="#dbdbff"/>
<rect x="846.21" y="1577.02" width="104.53" height="12.34" fill="#ffb6b6"/>
<rect x="950.35" y="1577.02" width="590.49" height="12.34" fill="#dbdbff"/>
<rect x="1540.44" y="1577.02" width="35.11" height="12.34" fill="#ffb6b6"/>
<rect x="1575.15" y="1577.02" width="35.11" height="12.34" fill="#dbdbff"/>
<rect x="1609.87" y="1577.02" width="35.11" height="12.34" fill="#ffb6b6"/>
<rect x="1644.58" y="1577.02" width="35.11" height="12.34" fill="#dbdbff"/>
<rect x="1679.29" y="1577.02" width="34.71" height="12.34" fill="#ffb6b6"/>
<rect x="499.10" y="1588.96" width="69.82" height="12.34" fill="#f2f2ff"/>
<rect x="568.52" y="1588.96" width="35.11" height="12.34" fill="#ff6969"/>
<rect x="603.23" y="1588.96" width="243.38" height="12.34" fill="#f2f2ff"/>
<rect x="846.21" y="1588.96" width="35.11" height="12.34" fill="#ff6969"/>
<rect x="880.93" y="1588.96" width="139.25" height="12.34" fill="#f2f2ff"/>
<rect x="1019.77" y="1588.96" width="35.11" height="12.34" fill="#ff6969"/>
<rect x="1054.48" y="1588.96" width="659.52" height="12.34" fill="#f2f2ff"/>
<rect x="499.10" y="1600.90" width="347.51" height="12.34" fill="#e6e6ff"/>
<rect x="846.21" y="1600.90" width="35.11" height="12.34" fill="#ff8484"/>
<rect x="880.93" y="1600.90" width="625.21" height="12.34" fill="#e6e6ff"/>
<rect x="1505.73" y="1600.90" width="69.82" height="12.34" fill="#ff8484"/>
<rect x="1575.15" y="1600.90" width="69.82" height="12.34" fill="#e6e6ff"/>
<rect x="1644.58" y="1600.90" width="69.42" height="12.34" fill="#ff8484"/>
<rect x="499.10" y="1612.84" width="69.82" height="12.34" fill="#f2f2ff"/>
<rect x="568.52" y="1612.84" width="35.11" height="12.34" fill="#ff8484"/>
<rect x="603.23" y="1612.84" width="243.38" height="12.34" fill="#f2f2ff"/>
<rect x="846.21" y="1612.84" width="35.11" height="12.34" fill="#ff8484"/>
<rect x="880.93" y="1612.84" width="659.92" height="12.34" fill="#f2f2ff"/>
<rect x="1540.44" y="1612.84" width="35.11" height="12.34" fill="#ff8484"/>
<rect x="1575.15" y="1612.84" width="69.82" height="12.34" fill="#f2f2ff"/>
<rect x="1644.58" y="1612.84" width="35.11" height="12.34" fill="#ff6969"/>
<rect x="1679.29" y="1612.84" width="34.71" height="12.34" fill="#f2f2ff"/>
<rect x="499.10" y="1624.78" width="35.11" height="12.34" fill="#ffa0a0"/>
<rect x="533.81" y="1624.78" width="35.11" height="12.34" fill="#e6e6ff"/>
<rect x="568.52" y="1624.78" width="35.11" height="12.34" fill="#ffa0a0"/>
<rect x="603.23" y="1624.78" width="243.38" height="12.34" fill="#e6e6ff"/>
<rect x="846.21" y="1624.78" width="35.11" height="12.34" fill="#ffa0a0"/>
<rect x="880.93" y="1624.78" width="659.92" height="12.34" fill="#e6e6ff"/>
<rect x="1540.44" y="1624.78" width="35.11" height="12.34" fill="#ffa0a0"/>
<rect x="1575.15" y="1624.78" width="69.82" height="12.34" fill="#e6e6ff"/>
<rect x="1644.58" y="1624.78" width="69.42" height="12.34" fill="#ff8484"/>
<rect x="499.10" y="1636.72" width="69.82" height="12.34" fill="#f2f2ff"/>
<rect x="568.52" y="1636.72" width="35.11" height="12.34" fill="#ff8484"/>
<rect x="603.23" y="1636.72" width="937.61" height="12.34" fill="#f2f2ff"/>
<rect x="1540.44" y="1636.72" width="35.11" height="12.34" fill="#ff8484"/>
<rect x="1575.15" y="1636.72" width="69.82" height="12.34" fill="#f2f2ff"/>
<rect x="1644.58" y="1636.72" width="35.11" height="12.34" fill="#ff8484"/>
<rect x="1679.29" y="1636.72" width="34.71" height="12.34" fill="#ff6969"/>
<rect x="499.10" y="1648.65" width="104.53" height="12.34" fill="#dbdbff"/>
<rect x="603.23" y="1648.65" width="35.11" height="12.34" fill="#ffb6b6"/>
<rect x="637.95" y="1648.65" width="69.82" height="12.34" fill="#dbdbff"/>
<rect x="707.37" y="1648.65" width="35.11" height="12.34" fill="#ffb6b6"/>
<rect x="742.08" y="1648.65" width="69.82" height="12.34" fill="#dbdbff"/>
<rect x="811.50" y="1648.65" width="69.82" height="12.34" fill="#ffb6b6"/>
<rect x="880.93" y="1648.65" width="173.96" height="12.34" fill="#dbdbff"/>
<rect x="1054.48" y="1648.65" width="69.82" height="12.34" fill="#ffb6b6"/>
<rect x="1123.91" y="1648.65" width="347.51" height="12.34" fill="#dbdbff"/>
<rect x="1471.02" y="1648.65" width="139.25" height="12.34" fill="#ffb6b6"/>
<rect x="1609.87" y="1648.65" width="104.13" height="12.34" fill="#dbdbff"/>
<rect x="499.10" y="1660.59" width="35.11" height="12.34" fill="#dbdbff"/>
<rect x="533.81" y="1660.59" width="35.11" height="12.34" fill="#ffb6b6"/>
<rect x="568.52" y="1660.59" width="35.11" height="12.34" fill="#dbdbff"/>
<rect x="603.23" y="1660.59" width="35.11" height="12.34" fill="#ffb6b6"/>
<rect x="637.95" y="1660.59" width="69.82" height="12.34" fill="#dbdbff"/>
<rect x="707.37" y="1660.59" width="35.11" height="12.34" fill="#ffb6b6"/>
<rect x="742.08" y="1660.59" width="139.25" height="12.34" fill="#dbdbff"/>
<rect x="880.93" y="1660.59" width="35.11" height="12.34" fill="#ffb6b6"/>
<rect x="915.64" y="1660.59" width="555.78" height="12.34" fill="#dbdbff"/>
<rect x="1471.02" y="1660.59" width="104.53" height="12.34" fill="#ffa0a0"/>
<rect x="1575.15" y="1660.59" width="69.82" height="12.34" fill="#dbdbff"/>
<rect x="1644.58" y="1660.59" width="35.11" height="12.34" fill="#ffa0a0"/>
<rect x="1679.29" y="1660.59" width="34.71" height="12.34" fill="#dbdbff"/>
<rect x="499.10" y="1672.53" width="104.53" height="12.34" fill="#e6e6ff"/>
<rect x="603.23" y="1672.53" width="35.11" height="12.34" fill="#ffa0a0"/>
<rect x="637.95" y="1672.53" width="69.82" height="12.34" fill="#e6e6ff"/>
<rect x="707.37" y="1672.53" width="35.11" height="12.34" fill="#ffa0a0"/>
<rect x="742.08" y="1672.53" width="729.34" height="12.34" fill="#e6e6ff"/>
<rect x="1471.02" y="1672.53" width="104.53" height="12.34" fill="#ffa0a0"/>
<rect x="1575.15" y="1672.53" width="69.82" height="12.34" fill="#e6e6ff"/>
<rect x="1644.58" y="1672.53" width="69.42" height="12.34" fill="#ffa0a0"/>
<rect x="499.10" y="1684.47" width="104.53" height="12.34" fill="#e6e6ff"/>
<rect x="603.23" y="1684.47" width="35.11" height="12.34" fill="#ffb6b6"/>
<rect x="637.95" y="1684.47" width="139.25" height="12.34" fill="#e6e6ff"/>
<rect x="776.79" y="1684.47" width="35.11" height="12.34" fill="#ffa0a0"/>
<rect x="811.50" y="1684.47" width="243.38" height="12.34" fill="#e6e6ff"/>
<rect x="1054.48" y="1684.47" width="35.11" height="12.34" fill="#ffa0a0"/>
<rect x="1089.19" y="1684.47" width="347.51" height="12.34" fill="#e6e6ff"/>
<rect x="1436.31" y="1684.47" width="35.11" height="12.34" fill="#ffa0a0"/>
<rect x="1471.02" y="1684.47" width="35.11" height="12.34" fill="#e6e6ff"/>
<rect x="1505.73" y="1684.47" width="69.82" height="12.34" fill="#ffa0a0"/>
<rect x="1575.15" y="1684.47" width="35.11" height="12.34" fill="#e6e6ff"/>
<rect x="1609.87" y="1684.47" width="35.11" height="12.34" fill="#ffa0a0"/>
<rect x="1644.58" y="1684.47" width="69.42" height="12.34" fill="#e6e6ff"/>
<rect x="499.10" y="1696.41" width="416.94" height="12.34" fill="#f2f2ff"/>
<rect x="915.64" y="1696.41" width="35.11" height="12.34" fill="#ff8484"/>
<rect x="950.35" y="1696.41" width="521.07" height="12.34" fill="#f2f2ff"/>
<rect x="1471.02" y="1696.41" width="104.53" height="12.34" fill="#ff8484"/>
<rect x="1575.15" y="1696.41" width="138.85" height="12.34" fill="#f2f2ff"/>
<rect x="499.10" y="1708.35" width="1041.74" height="12.34" fill="#f2f2ff"/>
<rect x="1540.44" y="1708.35" width="69.82" height="12.34" fill="#ff4848"/>
<rect x="1609.87" y="1708.35" width="104.13" height="12.34" fill="#f2f2ff"/>
<rect x="499.10" y="1720.29" width="1041.74" height="12.34" fill="#f8f8ff"/>
<rect x="1540.44" y="1720.29" width="35.11" height="12.34" fill="#ff0000"/>
<rect x="1575.15" y="1720.29" width="138.85" height="12.34" fill="#f8f8ff"/>
<rect x="499.10" y="1732.23" width="104.53" height="12.34" fill="#e6e6ff"/>
<rect x="603.23" y="1732.23" width="35.11" height="12.34" fill="#ff8484"/>
<rect x="637.95" y="1732.23" width="243.38" height="12.34" fill="#e6e6ff"/>
<rect x="880.93" y="1732.23" width="35.11" height="12.34" fill="#ff8484"/>
<rect x="915.64" y="1732.23" width="139.25" height="12.34" fill="#e6e6ff"/>
<rect x="1054.48" y="1732.23" width="35.11" height="12.34" fill="#ff8484"/>
<rect x="1089.19" y="1732.23" width="382.23" height="12.34" fill="#e6e6ff"/>
<rect x="1471.02" y="1732.23" width="35.11" height="12.34" fill="#ff8484"/>
<rect x="1505.73" y="1732.23" width="35.11" height="12.34" fill="#e6e6ff"/>
<rect x="1540.44" y="1732.23" width="35.11" height="12.34" fill="#ffa0a0"/>
<rect x="1575.15" y="1732.23" width="138.85" height="12.34" fill="#e6e6ff"/>
<rect x="499.10" y="1744.17" width="382.23" height="12.34" fill="#f2f2ff"/>
<rect x="880.93" y="1744.17" width="35.11" height="12.34" fill="#ff8484"/>
<rect x="915.64" y="1744.17" width="139.25" height="12.34" fill="#f2f2ff"/>
<rect x="1054.48" y="1744.17" width="35.11" height="12.34" fill="#ff6969"/>
<rect x="1089.19" y="1744.17" width="416.94" height="12.34" fill="#f2f2ff"/>
<rect x="1505.73" y="1744.17" width="35.11" height="12.34" fill="#ff8484"/>
<rect x="1540.44" y="1744.17" width="139.25" height="12.34" fill="#f2f2ff"/>
<rect x="1679.29" y="1744.17" width="34.71" height="12.34" fill="#ff8484"/>
<rect x="499.10" y="1756.11" width="555.78" height="12.34" fill="#f2f2ff"/>
<rect x="1054.48" y="1756.11" width="35.11" height="12.34" fill="#ff4848"/>
<rect x="1089.19" y="1756.11" width="555.78" height="12.34" fill="#f2f2ff"/>
<rect x="1644.58" y="1756.11" width="35.11" height="12.34" fill="#ff4848"/>
<rect x="1679.29" y="1756.11" width="34.71" height="12.34" fill="#f2f2ff"/>
<rect x="499.10" y="1768.05" width="555.78" height="12.34" fill="#f8f8ff"/>
<rect x="1054.48" y="1768.05" width="35.11" height="12.34" fill="#ff0000"/>
<rect x="1089.19" y="1768.05" width="624.81" height="12.34" fill="#f8f8ff"/>
<rect x="499.10" y="1779.99" width="35.11" height="12.34" fill="#dbdbff"/>
<rect x="533.81" y="1779.99" width="35.11" height="12.34" fill="#ffc7c7"/>
<rect x="568.52" y="1779.99" width="69.82" height="12.34" fill="#dbdbff"/>
<rect x="637.95" y="1779.99" width="139.25" height="12.34" fill="#ffc7c7"/>
<rect x="776.79" y="1779.99" width="69.82" height="12.34" fill="#dbdbff"/>
<rect x="846.21" y="1779.99" width="35.11" height="12.34" fill="#ffc7c7"/>
<rect x="880.93" y="1779.99" width="35.11" height="12.34" fill="#ffb6b6"/>
<rect x="915.64" y="1779.99" width="139.25" height="12.34" fill="#dbdbff"/>
<rect x="1054.48" y="1779.99" width="35.11" height="12.34" fill="#ffc7c7"/>
<rect x="1089.19" y="1779.99" width="521.07" height="12.34" fill="#dbdbff"/>
<rect x="1609.87" y="1779.99" width="35.11" height="12.34" fill="#ffb6b6"/>
<rect x="1644.58" y="1779.99" width="35.11" height="12.34" fill="#dbdbff"/>
<rect x="1679.29" y="1779.99" width="34.71" height="12.34" fill="#ffb6b6"/>
<rect x="499.10" y="1791.93" width="139.25" height="12.34" fill="#e6e6ff"/>
<rect x="637.95" y="1791.93" width="104.53" height="12.34" fill="#ffb6b6"/>
<rect x="742.08" y="1791.93" width="104.53" height="12.34" fill="#e6e6ff"/>
<rect x="846.21" y="1791.93" width="69.82" height="12.34" fill="#ffb6b6"/>
<rect x="915.64" y="1791.93" width="243.38" height="12.34" fill="#e6e6ff"/>
<rect x="1158.62" y="1791.93" width="35.11" height="12.34" fill="#ffb6b6"/>
<rect x="1193.33" y="1791.93" width="347.51" height="12.34" fill="#e6e6ff"/>
<rect x="1540.44" y="1791.93" width="35.11" height="12.34" fill="#ffb6b6"/>
<rect x="1575.15" y="1791.93" width="69.82" height="12.34" fill="#e6e6ff"/>
<rect x="1644.58" y="1791.93" width="35.11" height="12.34" fill="#ffa0a0"/>
<rect x="1679.29" y="1791.93" width="34.71" height="12.34" fill="#e6e6ff"/>
<rect x="499.10" y="1803.87" width="139.25" height="12.34" fill="#e6e6ff"/>
<rect x="637.95" y="1803.87" width="69.82" height="12.34" fill="#ffa0a0"/>
<rect x="707.37" y="1803.87" width="173.96" height="12.34" fill="#e6e6ff"/>
<rect x="880.93" y="1803.87" width="35.11" height="12.34" fill="#ffa0a0"/>
<rect x="915.64" y="1803.87" width="104.53" height="12.34" fill="#e6e6ff"/>
<rect x="1019.77" y="1803.87" width="35.11" height="12.34" fill="#ffa0a0"/>
<rect x="1054.48" y="1803.87" width="590.49" height="12.34" fill="#e6e6ff"/>
<rect x="1644.58" y="1803.87" width="69.42" height="12.34" fill="#ffa0a0"/>
<rect x="499.10" y="1815.81" width="139.25" height="12.34" fill="#e6e6ff"/>
<rect x="637.95" y="1815.81" width="69.82" height="12.34" fill="#ffa0a0"/>
<rect x="707.37" y="1815.81" width="35.11" height="12.34" fill="#ff8484"/>
<rect x="742.08" y="1815.81" width="902.90" height="12.34" fill="#e6e6ff"/>
<rect x="1644.58" y="1815.81" width="35.11" height="12.34" fill="#ff8484"/>
<rect x="1679.29" y="1815.81" width="34.71" height="12.34" fill="#ffa0a0"/>
<rect x="499.10" y="1827.75" width="173.96" height="12.34" fill="#dbdbff"/>
<rect x="672.66" y="1827.75" width="35.11" height="12.34" fill="#ffc7c7"/>
<rect x="707.37" y="1827.75" width="69.82" height="12.34" fill="#dbdbff"/>
<rect x="776.79" y="1827.75" width="69.82" height="12.34" fill="#ffc7c7"/>
<rect x="846.21" y="1827.75" width="35.11" height="12.34" fill="#dbdbff"/>
<rect x="880.93" y="1827.75" width="35.11" height="12.34" fill="#ffc7c7"/>
<rect x="915.64" y="1827.75" width="69.82" height="12.34" fill="#dbdbff"/>
<rect x="985.06" y="1827.75" width="139.25" height="12.34" fill="#ffc7c7"/>
<rect x="1123.91" y="1827.75" width="382.23" height="12.34" fill="#dbdbff"/>
<rect x="1505.73" y="1827.75" width="35.11" height="12.34" fill="#ffc7c7"/>
<rect x="1540.44" y="1827.75" width="69.82" height="12.34" fill="#dbdbff"/>
<rect x="1609.87" y="1827.75" width="69.82" height="12.34" fill="#ffc7c7"/>
<rect x="1679.29" y="1827.75" width="34.71" height="12.34" fill="#dbdbff"/>
<rect x="499.10" y="1839.69" width="278.09" height="12.34" fill="#e6e6ff"/>
<rect x="776.79" y="1839.69" width="35.11" height="12.34" fill="#ffa0a0"/>
<rect x="811.50" y="1839.69" width="35.11" height="12.34" fill="#ff8484"/>
<rect x="846.21" y="1839.69" width="104.53" height="12.34" fill="#e6e6ff"/>
<rect x="950.35" y="1839.69" width="35.11" height="12.34" fill="#ffa0a0"/>
<rect x="985.06" y="1839.69" width="69.82" height="12.34" fill="#e6e6ff"/>
<rect x="1054.48" y="1839.69" width="35.11" height="12.34" fill="#ffa0a0"/>
<rect x="1089.19" y="1839.69" width="555.78" height="12.34" fill="#e6e6ff"/>
<rect x="1644.58" y="1839.69" width="35.11" height="12.34" fill="#ff8484"/>
<rect x="1679.29" y="1839.69" width="34.71" height="12.34" fill="#e6e6ff"/>
<rect x="499.10" y="1851.63" width="104.53" height="12.34" fill="#e6e6ff"/>
<rect x="603.23" y="1851.63" width="35.11" height="12.34" fill="#ffa0a0"/>
<rect x="637.95" y="1851.63" width="139.25" height="12.34" fill="#e6e6ff"/>
<rect x="776.79" y="1851.63" width="35.11" height="12.34" fill="#ffa0a0"/>
<rect x="811.50" y="1851.63" width="69.82" height="12.34" fill="#e6e6ff"/>
<rect x="880.93" y="1851.63" width="35.11" height="12.34" fill="#ffa0a0"/>
<rect x="915.64" y="1851.63" width="69.82" height="12.34" fill="#e6e6ff"/>
<rect x="985.06" y="1851.63" width="35.11" height="12.34" fill="#ffb6b6"/>
<rect x="1019.77" y="1851.63" width="35.11" height="12.34" fill="#ffa0a0"/>
<rect x="1054.48" y="1851.63" width="69.82" height="12.34" fill="#e6e6ff"/>
<rect x="1123.91" y="1851.63" width="35.11" height="12.34" fill="#ffb6b6"/>
<rect x="1158.62" y="1851.63" width="451.65" height="12.34" fill="#e6e6ff"/>
<rect x="1609.87" y="1851.63" width="35.11" height="12.34" fill="#ffa0a0"/>
<rect x="1644.58" y="1851.63" width="69.42" height="12.34" fill="#e6e6ff"/>
<rect x="499.10" y="1863.57" width="139.25" height="12.34" fill="#f2f2ff"/>
<rect x="637.95" y="1863.57" width="35.11" height="12.34" fill="#ff6969"/>
<rect x="672.66" y="1863.57" width="104.53" height="12.34" fill="#f2f2ff"/>
<rect x="776.79" y="1863.57" width="35.11" height="12.34" fill="#ff6969"/>
<rect x="811.50" y="1863.57" width="798.76" height="12.34" fill="#f2f2ff"/>
<rect x="1609.87" y="1863.57" width="35.11" height="12.34" fill="#ff6969"/>
<rect x="1644.58" y="1863.57" width="69.42" height="12.34" fill="#f2f2ff"/>
<rect x="499.10" y="1875.51" width="208.67" height="12.34" fill="#f2f2ff"/>
<rect x="707.37" y="1875.51" width="35.11" height="12.34" fill="#ff8484"/>
<rect x="742.08" y="1875.51" width="35.11" height="12.34" fill="#f2f2ff"/>
<rect x="776.79" y="1875.51" width="35.11" height="12.34" fill="#ff8484"/>
<rect x="811.50" y="1875.51" width="208.67" height="12.34" fill="#f2f2ff"/>
<rect x="1019.77" y="1875.51" width="35.11" height="12.34" fill="#ff8484"/>
<rect x="1054.48" y="1875.51" width="521.07" height="12.34" fill="#f2f2ff"/>
<rect x="1575.15" y="1875.51" width="35.11" height="12.34" fill="#ff8484"/>
<rect x="1609.87" y="1875.51" width="104.13" height="12.34" fill="#f2f2ff"/>
<rect x="499.10" y="1887.45" width="243.38" height="12.34" fill="#e6e6ff"/>
<rect x="742.08" y="1887.45" width="69.82" height="12.34" fill="#ffa0a0"/>
<rect x="811.50" y="1887.45" width="173.96" height="12.34" fill="#e6e6ff"/>
<rect x="985.06" y="1887.45" width="69.82" height="12.34" fill="#ff8484"/>
<rect x="1054.48" y="1887.45" width="35.11" height="12.34" fill="#e6e6ff"/>
<rect x="1089.19" y="1887.45" width="35.11" height="12.34" fill="#ff8484"/>
<rect x="1123.91" y="1887.45" width="590.09" height="12.34" fill="#e6e6ff"/>
<rect x="499.10" y="1899.39" width="486.36" height="12.34" fill="#f2f2ff"/>
<rect x="985.06" y="1899.39" width="69.82" height="12.34" fill="#ff4848"/>
<rect x="1054.48" y="1899.39" width="659.52" height="12.34" fill="#f2f2ff"/>
<rect x="499.10" y="1911.33" width="35.11" height="12.34" fill="#ffb6b6"/>
<rect x="533.81" y="1911.33" width="69.82" height="12.34" fill="#e6e6ff"/>
<rect x="603.23" y="1911.33" width="69.82" height="12.34" fill="#ffb6b6"/>
<rect x="672.66" y="1911.33" width="208.67" height="12.34" fill="#e6e6ff"/>
<rect x="880.93" y="1911.33" width="69.82" height="12.34" fill="#ffb6b6"/>
<rect x="950.35" y="1911.33" width="139.25" height="12.34" fill="#e6e6ff"/>
<rect x="1089.19" y="1911.33" width="35.11" height="12.34" fill="#ffa0a0"/>
<rect x="1123.91" y="1911.33" width="521.07" height="12.34" fill="#e6e6ff"/>
<rect x="1644.58" y="1911.33" width="69.42" height="12.34" fill="#ffa0a0"/>
<rect x="499.10" y="1923.27" width="139.25" height="12.34" fill="#e6e6ff"/>
<rect x="637.95" y="1923.27" width="35.11" height="12.34" fill="#ffa0a0"/>
<rect x="672.66" y="1923.27" width="278.09" height="12.34" fill="#e6e6ff"/>
<rect x="950.35" y="1923.27" width="35.11" height="12.34" fill="#ffa0a0"/>
<rect x="985.06" y="1923.27" width="104.53" height="12.34" fill="#e6e6ff"/>
<rect x="1089.19" y="1923.27" width="35.11" height="12.34" fill="#ffa0a0"/>
<rect x="1123.91" y="1923.27" width="451.65" height="12.34" fill="#e6e6ff"/>
<rect x="1575.15" y="1923.27" width="35.11" height="12.34" fill="#ffa0a0"/>
<rect x="1609.87" y="1923.27" width="35.11" height="12.34" fill="#e6e6ff"/>
<rect x="1644.58" y="1923.27" width="35.11" height="12.34" fill="#ff8484"/>
<rect x="1679.29" y="1923.27" width="34.71" height="12.34" fill="#ffa0a0"/>
<rect x="499.10" y="1935.21" width="35.11" height="12.34" fill="#f2f2ff"/>
<rect x="533.81" y="1935.21" width="35.11" height="12.34" fill="#ff8484"/>
<rect x="568.52" y="1935.21" width="1007.03" height="12.34" fill="#f2f2ff"/>
<rect x="1575.15" y="1935.21" width="35.11" height="12.34" fill="#ff8484"/>
<rect x="1609.87" y="1935.21" width="35.11" height="12.34" fill="#f2f2ff"/>
<rect x="1644.58" y="1935.21" width="69.42" height="12.34" fill="#ff8484"/>
<rect x="499.10" y="1947.15" width="347.51" height="12.34" fill="#f2f2ff"/>
<rect x="846.21" y="1947.15" width="69.82" height="12.34" fill="#ff8484"/>
<rect x="915.64" y="1947.15" width="659.92" height="12.34" fill="#f2f2ff"/>
<rect x="1575.15" y="1947.15" width="35.11" height="12.34" fill="#ff8484"/>
<rect x="1609.87" y="1947.15" width="35.11" height="12.34" fill="#f2f2ff"/>
<rect x="1644.58" y="1947.15" width="35.11" height="12.34" fill="#ff8484"/>
<rect x="1679.29" y="1947.15" width="34.71" height="12.34" fill="#f2f2ff"/>
<rect x="499.10" y="1959.09" width="382.23" height="12.34" fill="#e6e6ff"/>
<rect x="880.93" y="1959.09" width="35.11" height="12.34" fill="#ffb6b6"/>
<rect x="915.64" y="1959.09" width="139.25" height="12.34" fill="#e6e6ff"/>
<rect x="1054.48" y="1959.09" width="69.82" height="12.34" fill="#ffa0a0"/>
<rect x="1123.91" y="1959.09" width="35.11" height="12.34" fill="#e6e6ff"/>
<rect x="1158.62" y="1959.09" width="35.11" height="12.34" fill="#ffa0a0"/>
<rect x="1193.33" y="1959.09" width="416.94" height="12.34" fill="#e6e6ff"/>
<rect x="1609.87" y="1959.09" width="35.11" height="12.34" fill="#ffb6b6"/>
<rect x="1644.58" y="1959.09" width="69.42" height="12.34" fill="#ffa0a0"/>
<rect x="499.10" y="1971.03" width="243.38" height="12.34" fill="#e6e6ff"/>
<rect x="742.08" y="1971.03" width="35.11" height="12.34" fill="#ff8484"/>
<rect x="776.79" y="1971.03" width="243.38" height="12.34" fill="#e6e6ff"/>
<rect x="1019.77" y="1971.03" width="104.53" height="12.34" fill="#ffa0a0"/>
<rect x="1123.91" y="1971.03" width="521.07" height="12.34" fill="#e6e6ff"/>
<rect x="1644.58" y="1971.03" width="35.11" height="12.34" fill="#ffa0a0"/>
<rect x="1679.29" y="1971.03" width="34.71" height="12.34" fill="#e6e6ff"/>
<rect x="499.10" y="1982.97" width="521.07" height="12.34" fill="#e6e6ff"/>
<rect x="1019.77" y="1982.97" width="35.11" height="12.34" fill="#ffa0a0"/>
<rect x="1054.48" y="1982.97" width="69.82" height="12.34" fill="#ff8484"/>
<rect x="1123.91" y="1982.97" width="521.07" height="12.34" fill="#e6e6ff"/>
<rect x="1644.58" y="1982.97" width="69.42" height="12.34" fill="#ffa0a0"/>
<rect x="499.10" y="1994.91" width="521.07" height="12.34" fill="#f2f2ff"/>
<rect x="1019.77" y="1994.91" width="104.53" height="12.34" fill="#ff8484"/>
<rect x="1123.91" y="1994.91" width="521.07" height="12.34" fill="#f2f2ff"/>
<rect x="1644.58" y="1994.91" width="35.11" height="12.34" fill="#ff8484"/>
<rect x="1679.29" y="1994.91" width="34.71" height="12.34" fill="#f2f2ff"/>
<rect x="499.10" y="2006.85" width="521.07" height="12.34" fill="#f2f2ff"/>
<rect x="1019.77" y="2006.85" width="104.53" height="12.34" fill="#ff8484"/>
<rect x="1123.91" y="2006.85" width="521.07" height="12.34" fill="#f2f2ff"/>
<rect x="1644.58" y="2006.85" width="35.11" height="12.34" fill="#ff8484"/>
<rect x="1679.29" y="2006.85" width="34.71" height="12.34" fill="#f2f2ff"/>
<rect x="499.10" y="2018.79" width="451.65" height="12.34" fill="#f2f2ff"/>
<rect x="950.35" y="2018.79" width="35.11" height="12.34" fill="#ff8484"/>
<rect x="985.06" y="2018.79" width="104.53" height="12.34" fill="#f2f2ff"/>
<rect x="1089.19" y="2018.79" width="35.11" height="12.34" fill="#ff8484"/>
<rect x="1123.91" y="2018.79" width="139.25" height="12.34" fill="#f2f2ff"/>
<rect x="1262.75" y="2018.79" width="35.11" height="12.34" fill="#ff8484"/>
<rect x="1297.46" y="2018.79" width="139.25" height="12.34" fill="#f2f2ff"/>
<rect x="1436.31" y="2018.79" width="35.11" height="12.34" fill="#ff8484"/>
<rect x="1471.02" y="2018.79" width="242.98" height="12.34" fill="#f2f2ff"/>
<rect x="499.10" y="2030.73" width="35.11" height="12.34" fill="#ff8484"/>
<rect x="533.81" y="2030.73" width="382.23" height="12.34" fill="#f2f2ff"/>
<rect x="915.64" y="2030.73" width="35.11" height="12.34" fill="#ff8484"/>
<rect x="950.35" y="2030.73" width="139.25" height="12.34" fill="#f2f2ff"/>
<rect x="1089.19" y="2030.73" width="35.11" height="12.34" fill="#ff8484"/>
<rect x="1123.91" y="2030.73" width="312.80" height="12.34" fill="#f2f2ff"/>
<rect x="1436.31" y="2030.73" width="35.11" height="12.34" fill="#ff8484"/>
<rect x="1471.02" y="2030.73" width="242.98" height="12.34" fill="#f2f2ff"/>
<rect x="499.10" y="2042.67" width="243.38" height="12.34" fill="#f2f2ff"/>
<rect x="742.08" y="2042.67" width="35.11" height="12.34" fill="#ff6969"/>
<rect x="776.79" y="2042.67" width="173.96" height="12.34" fill="#f2f2ff"/>
<rect x="950.35" y="2042.67" width="35.11" height="12.34" fill="#ff6969"/>
<rect x="985.06" y="2042.67" width="104.53" height="12.34" fill="#f2f2ff"/>
<rect x="1089.19" y="2042.67" width="35.11" height="12.34" fill="#ff6969"/>
<rect x="1123.91" y="2042.67" width="590.09" height="12.34" fill="#f2f2ff"/>
<rect x="499.10" y="2054.61" width="451.65" height="12.34" fill="#f8f8ff"/>
<rect x="950.35" y="2054.61" width="35.11" height="12.34" fill="#ff0000"/>
<rect x="985.06" y="2054.61" width="728.94" height="12.34" fill="#f8f8ff"/>
<rect x="499.10" y="2066.55" width="208.67" height="12.34" fill="#f2f2ff"/>
<rect x="707.37" y="2066.55" width="35.11" height="12.34" fill="#ff4848"/>
<rect x="742.08" y="2066.55" width="347.51" height="12.34" fill="#f2f2ff"/>
<rect x="1089.19" y="2066.55" width="35.11" height="12.34" fill="#ff4848"/>
<rect x="1123.91" y="2066.55" width="590.09" height="12.34" fill="#f2f2ff"/>
<rect x="499.10" y="2078.48" width="590.49" height="12.34" fill="#f2f2ff"/>
<rect x="1089.19" y="2078.48" width="35.11" height="12.34" fill="#ff4848"/>
<rect x="1123.91" y="2078.48" width="521.07" height="12.34" fill="#f2f2ff"/>
<rect x="1644.58" y="2078.48" width="35.11" height="12.34" fill="#ff4848"/>
<rect x="1679.29" y="2078.48" width="34.71" height="12.34" fill="#f2f2ff"/>
<rect x="499.10" y="2090.42" width="590.49" height="12.34" fill="#f2f2ff"/>
<rect x="1089.19" y="2090.42" width="35.11" height="12.34" fill="#ff4848"/>
<rect x="1123.91" y="2090.42" width="521.07" height="12.34" fill="#f2f2ff"/>
<rect x="1644.58" y="2090.42" width="35.11" height="12.34" fill="#ff4848"/>
<rect x="1679.29" y="2090.42" width="34.71" height="12.34" fill="#f2f2ff"/>
<rect x="499.10" y="2102.36" width="173.96" height="12.34" fill="#f2f2ff"/>
<rect x="672.66" y="2102.36" width="35.11" height="12.34" fill="#ff4848"/>
<rect x="707.37" y="2102.36" width="104.53" height="12.34" fill="#f2f2ff"/>
<rect x="811.50" y="2102.36" width="35.11" height="12.34" fill="#ff4848"/>
<rect x="846.21" y="2102.36" width="867.79" height="12.34" fill="#f2f2ff"/>
<rect x="499.10" y="2114.30" width="972.32" height="12.34" fill="#f2f2ff"/>
<rect x="1471.02" y="2114.30" width="35.11" height="12.34" fill="#ff6969"/>
<rect x="1505.73" y="2114.30" width="139.25" height="12.34" fill="#f2f2ff"/>
<rect x="1644.58" y="2114.30" width="69.42" height="12.34" fill="#ff6969"/>
<rect x="499.10" y="2126.24" width="243.38" height="12.34" fill="#f2f2ff"/>
<rect x="742.08" y="2126.24" width="35.11" height="12.34" fill="#ff6969"/>
<rect x="776.79" y="2126.24" width="868.19" height="12.34" fill="#f2f2ff"/>
<rect x="1644.58" y="2126.24" width="69.42" height="12.34" fill="#ff6969"/>
<rect x="499.10" y="2138.18" width="243.38" height="12.34" fill="#f2f2ff"/>
<rect x="742.08" y="2138.18" width="35.11" height="12.34" fill="#ff4848"/>
<rect x="776.79" y="2138.18" width="868.19" height="12.34" fill="#f2f2ff"/>
<rect x="1644.58" y="2138.18" width="35.11" height="12.34" fill="#ff4848"/>
<rect x="1679.29" y="2138.18" width="34.71" height="12.34" fill="#f2f2ff"/>
<rect x="499.10" y="2150.12" width="416.94" height="12.34" fill="#f2f2ff"/>
<rect x="915.64" y="2150.12" width="35.11" height="12.34" fill="#ff4848"/>
<rect x="950.35" y="2150.12" width="729.34" height="12.34" fill="#f2f2ff"/>
<rect x="1679.29" y="2150.12" width="34.71" height="12.34" fill="#ff4848"/>
<rect x="499.10" y="2162.06" width="1111.17" height="12.34" fill="#f2f2ff"/>
<rect x="1609.87" y="2162.06" width="35.11" height="12.34" fill="#ff4848"/>
<rect x="1644.58" y="2162.06" width="35.11" height="12.34" fill="#f2f2ff"/>
<rect x="1679.29" y="2162.06" width="34.71" height="12.34" fill="#ff4848"/>
<rect x="499.10" y="2174.00" width="1007.03" height="12.34" fill="#f2f2ff"/>
<rect x="1505.73" y="2174.00" width="35.11" height="12.34" fill="#ff4848"/>
<rect x="1540.44" y="2174.00" width="139.25" height="12.34" fill="#f2f2ff"/>
<rect x="1679.29" y="2174.00" width="34.71" height="12.34" fill="#ff4848"/>
<rect x="499.10" y="2185.94" width="972.32" height="12.34" fill="#f2f2ff"/>
<rect x="1471.02" y="2185.94" width="35.11" height="12.34" fill="#ff4848"/>
<rect x="1505.73" y="2185.94" width="173.96" height="12.34" fill="#f2f2ff"/>
<rect x="1679.29" y="2185.94" width="34.71" height="12.34" fill="#ff4848"/>
<rect x="499.10" y="2197.88" width="1180.59" height="12.34" fill="#f8f8ff"/>
<rect x="1679.29" y="2197.88" width="34.71" height="12.34" fill="#ff0000"/>
<rect x="499.10" y="2209.82" width="1180.59" height="12.34" fill="#f8f8ff"/>
<rect x="1679.29" y="2209.82" width="34.71" height="12.34" fill="#ff0000"/>
<rect x="499.10" y="2221.76" width="1180.59" height="12.34" fill="#f8f8ff"/>
<rect x="1679.29" y="2221.76" width="34.71" height="12.34" fill="#ff0000"/>
<rect x="499.10" y="2233.70" width="1180.59" height="12.34" fill="#f8f8ff"/>
<rect x="1679.29" y="2233.70" width="34.71" height="12.34" fill="#ff0000"/>
<rect x="499.10" y="2245.64" width="1180.59" height="12.34" fill="#f8f8ff"/>
<rect x="1679.29" y="2245.64" width="34.71" height="12.34" fill="#ff0000"/>
<rect x="499.10" y="2257.58" width="1180.59" height="12.34" fill="#f8f8ff"/>
<rect x="1679.29" y="2257.58" width="34.71" height="12.34" fill="#ff0000"/>
<rect x="499.10" y="2269.52" width="1180.59" height="12.34" fill="#f8f8ff"/>
<rect x="1679.29" y="2269.52" width="34.71" height="12.34" fill="#ff0000"/>
<rect x="499.10" y="2281.46" width="1180.59" height="11.94" fill="#f8f8ff"/>
<rect x="1679.29" y="2281.46" width="34.71" height="11.94" fill="#ff0000"/>
</g>
<path d="M517.0 422.9L517.0 292.2M551.7 422.9L551.7 292.2M517.0 292.2L551.7 292.2M586.4 422.9L586.4 292.6M621.1 422.9L621.1 292.6M586.4 292.6L621.1 292.6M534.3 292.2L534.3 231.3M603.7 292.6L603.7 231.3M534.3 231.3L603.7 231.3M655.8 422.9L655.8 317.8M690.5 422.9L690.5 317.8M655.8 317.8L690.5 317.8M673.2 317.8L673.2 280.6M725.2 422.9L725.2 280.6M673.2 280.6L725.2 280.6M699.2 280.6L699.2 206.9M759.9 422.9L759.9 206.9M699.2 206.9L759.9 206.9M569.0 231.3L569.0 206.9M729.6 206.9L729.6 206.9M569.0 206.9L729.6 206.9M794.6 422.9L794.6 247.0M829.4 422.9L829.4 247.0M794.6 247.0L829.4 247.0M649.3 206.9L649.3 183.7M812.0 247.0L812.0 183.7M649.3 183.7L812.0 183.7M864.1 422.9L864.1 233.3M898.8 422.9L898.8 233.3M864.1 233.3L898.8 233.3M730.6 183.7L730.6 147.7M881.4 233.3L881.4 147.7M730.6 147.7L881.4 147.7M933.5 422.9L933.5 240.5M968.2 422.9L968.2 240.5M933.5 240.5L968.2 240.5M1002.9 422.9L1002.9 306.2M1037.6 422.9L1037.6 306.2M1002.9 306.2L1037.6 306.2M950.8 240.5L950.8 157.3M1020.3 306.2L1020.3 157.3M950.8 157.3L1020.3 157.3M1072.3 422.9L1072.3 195.7M1107.1 422.9L1107.1 195.7M1072.3 195.7L1107.1 195.7M985.6 157.3L985.6 147.7M1089.7 195.7L1089.7 147.7M985.6 147.7L1089.7 147.7M806.0 147.7L806.0 94.9M1037.6 147.7L1037.6 94.9M806.0 94.9L1037.6 94.9M1141.8 422.9L1141.8 341.0M1176.5 422.9L1176.5 341.0M1141.8 341.0L1176.5 341.0M1211.2 422.9L1211.2 344.6M1245.9 422.9L1245.9 344.6M1211.2 344.6L1245.9 344.6M1159.1 341.0L1159.1 305.0M1228.5 344.6L1228.5 305.0M1159.1 305.0L1228.5 305.0M1193.8 305.0L1193.8 241.3M1280.6 422.9L1280.6 241.3M1193.8 241.3L1280.6 241.3M1315.3 422.9L1315.3 398.6M1350.0 422.9L1350.0 398.6M1315.3 398.6L1350.0 398.6M1332.7 398.6L1332.7 351.0M1384.7 422.9L1384.7 351.0M1332.7 351.0L1384.7 351.0M1358.7 351.0L1358.7 273.4M1419.5 422.9L1419.5 273.4M1358.7 273.4L1419.5 273.4M1389.1 273.4L1389.1 255.8M1454.2 422.9L1454.2 255.8M1389.1 255.8L1454.2 255.8M1237.2 241.3L1237.2 211.0M1421.6 255.8L1421.6 211.0M1237.2 211.0L1421.6 211.0M921.8 94.9L921.8 64.1M1329.4 211.0L1329.4 64.1M921.8 64.1L1329.4 64.1M1488.9 422.9L1488.9 303.8M1523.6 422.9L1523.6 303.8M1488.9 303.8L1523.6 303.8M1506.2 303.8L1506.2 258.2M1558.3 422.9L1558.3 258.2M1506.2 258.2L1558.3 258.2M1593.0 422.9L1593.0 253.0M1627.7 422.9L1627.7 253.0M1593.0 253.0L1627.7 253.0M1532.3 258.2L1532.3 208.5M1610.4 253.0L1610.4 208.5M1532.3 208.5L1610.4 208.5M1662.4 422.9L1662.4 154.9M1697.1 422.9L1697.1 154.9M1662.4 154.9L1697.1 154.9M1571.3 208.5L1571.3 120.5M1679.8 154.9L1679.8 120.5M1571.3 120.5L1679.8 120.5M1125.6 64.1L1125.6 7.3M1625.6 120.5L1625.6 7.3M1125.6 7.3L1625.6 7.3" stroke="#000" stroke-width="1.8" fill="none" stroke-linecap="square"/>
<path d="M479.9 556.2L475.8 556.2M479.9 568.1L475.8 568.1M475.8 556.2L475.8 568.1M475.8 562.1L464.5 562.1M479.9 580.0L464.5 580.0M464.5 562.1L464.5 580.0M479.9 592.0L466.7 592.0M479.9 603.9L466.7 603.9M466.7 592.0L466.7 603.9M464.5 571.1L458.6 571.1M466.7 598.0L458.6 598.0M458.6 571.1L458.6 598.0M479.9 615.9L456.3 615.9M479.9 627.8L456.3 627.8M456.3 615.9L456.3 627.8M456.3 621.8L453.9 621.8M479.9 639.7L453.9 639.7M453.9 621.8L453.9 639.7M458.6 584.5L445.8 584.5M453.9 630.8L445.8 630.8M445.8 584.5L445.8 630.8M445.8 607.7L422.8 607.7M479.9 651.7L422.8 651.7M422.8 607.7L422.8 651.7M479.9 675.6L451.0 675.6M479.9 687.5L451.0 687.5M451.0 675.6L451.0 687.5M479.9 663.6L449.2 663.6M451.0 681.5L449.2 681.5M449.2 663.6L449.2 681.5M422.8 629.7L371.8 629.7M449.2 672.6L371.8 672.6M371.8 629.7L371.8 672.6M479.9 699.4L400.0 699.4M479.9 711.4L400.0 711.4M400.0 699.4L400.0 711.4M371.8 651.1L349.2 651.1M400.0 705.4L349.2 705.4M349.2 651.1L349.2 705.4M479.9 723.3L398.8 723.3M479.9 735.3L398.8 735.3M398.8 723.3L398.8 735.3M349.2 678.3L343.8 678.3M398.8 729.3L343.8 729.3M343.8 678.3L343.8 729.3M479.9 747.2L400.7 747.2M479.9 759.1L400.7 759.1M400.7 747.2L400.7 759.1M400.7 753.2L381.0 753.2M479.9 771.1L381.0 771.1M381.0 753.2L381.0 771.1M381.0 762.1L332.8 762.1M479.9 783.0L332.8 783.0M332.8 762.1L332.8 783.0M343.8 703.8L308.0 703.8M332.8 772.6L308.0 772.6M308.0 703.8L308.0 772.6M479.9 795.0L319.0 795.0M479.9 806.9L319.0 806.9M319.0 795.0L319.0 806.9M308.0 738.2L293.0 738.2M319.0 800.9L293.0 800.9M293.0 738.2L293.0 800.9M479.9 830.8L411.8 830.8M479.9 842.7L411.8 842.7M411.8 830.8L411.8 842.7M479.9 818.8L320.0 818.8M411.8 836.8L320.0 836.8M320.0 818.8L320.0 836.8M293.0 769.6L281.0 769.6M320.0 827.8L281.0 827.8M281.0 769.6L281.0 827.8M479.9 854.7L304.4 854.7M479.9 866.6L304.4 866.6M304.4 854.7L304.4 866.6M281.0 798.7L225.8 798.7M304.4 860.6L225.8 860.6M225.8 798.7L225.8 860.6M225.8 829.7L196.0 829.7M479.9 878.5L196.0 878.5M196.0 829.7L196.0 878.5M479.9 890.5L288.3 890.5M479.9 902.4L288.3 902.4M288.3 890.5L288.3 902.4M479.9 914.4L274.5 914.4M479.9 926.3L274.5 926.3M274.5 914.4L274.5 926.3M288.3 896.5L232.7 896.5M274.5 920.3L232.7 920.3M232.7 896.5L232.7 920.3M196.0 854.1L161.0 854.1M232.7 908.4L161.0 908.4M161.0 854.1L161.0 908.4M479.9 974.1L375.8 974.1M479.9 986.0L375.8 986.0M375.8 974.1L375.8 986.0M479.9 962.1L353.1 962.1M375.8 980.0L353.1 980.0M353.1 962.1L353.1 980.0M479.9 950.2L316.3 950.2M353.1 971.1L316.3 971.1M316.3 950.2L316.3 971.1M479.9 938.2L257.7 938.2M316.3 960.6L257.7 960.6M257.7 938.2L257.7 960.6M479.9 997.9L242.7 997.9M479.9 1009.9L242.7 1009.9M242.7 997.9L242.7 1009.9M479.9 1045.7L306.0 1045.7M479.9 1057.6L306.0 1057.6M306.0 1045.7L306.0 1057.6M479.9 1033.8L279.5 1033.8M306.0 1051.7L279.5 1051.7M279.5 1033.8L279.5 1051.7M479.9 1021.8L244.6 1021.8M279.5 1042.7L244.6 1042.7M244.6 1021.8L244.6 1042.7M242.7 1003.9L216.3 1003.9M244.6 1032.3L216.3 1032.3M216.3 1003.9L216.3 1032.3M257.7 949.4L185.6 949.4M216.3 1018.1L185.6 1018.1M185.6 949.4L185.6 1018.1M479.9 1093.5L282.6 1093.5M479.9 1105.4L282.6 1105.4M282.6 1093.5L282.6 1105.4M479.9 1081.5L258.8 1081.5M282.6 1099.4L258.8 1099.4M258.8 1081.5L258.8 1099.4M479.9 1069.6L209.0 1069.6M258.8 1090.5L209.0 1090.5M209.0 1069.6L209.0 1090.5M479.9 1117.3L237.0 1117.3M479.9 1129.3L237.0 1129.3M237.0 1117.3L237.0 1129.3M479.9 1153.2L323.2 1153.2M479.9 1165.1L323.2 1165.1M323.2 1153.2L323.2 1165.1M479.9 1141.2L245.4 1141.2M323.2 1159.1L245.4 1159.1M245.4 1141.2L245.4 1159.1M237.0 1123.3L203.6 1123.3M245.4 1150.2L203.6 1150.2M203.6 1123.3L203.6 1150.2M209.0 1080.0L168.0 1080.0M203.6 1136.7L168.0 1136.7M168.0 1080.0L168.0 1136.7M185.6 983.8L164.9 983.8M168.0 1108.4L164.9 1108.4M164.9 983.8L164.9 1108.4M161.0 881.2L106.2 881.2M164.9 1046.1L106.2 1046.1M106.2 881.2L106.2 1046.1M479.9 1189.0L242.7 1189.0M479.9 1200.9L242.7 1200.9M242.7 1189.0L242.7 1200.9M479.9 1177.0L226.2 1177.0M242.7 1194.9L226.2 1194.9M226.2 1177.0L226.2 1194.9M479.9 1224.8L262.3 1224.8M479.9 1236.7L262.3 1236.7M262.3 1224.8L262.3 1236.7M479.9 1212.9L249.2 1212.9M262.3 1230.8L249.2 1230.8M249.2 1212.9L249.2 1230.8M226.2 1186.0L174.0 1186.0M249.2 1221.8L174.0 1221.8M174.0 1186.0L174.0 1221.8M479.9 1248.7L223.2 1248.7M479.9 1260.6L223.2 1260.6M223.2 1248.7L223.2 1260.6M479.9 1272.6L253.8 1272.6M479.9 1284.5L253.8 1284.5M253.8 1272.6L253.8 1284.5M479.9 1296.4L244.2 1296.4M479.9 1308.4L244.2 1308.4M244.2 1296.4L244.2 1308.4M253.8 1278.5L198.2 1278.5M244.2 1302.4L198.2 1302.4M198.2 1278.5L198.2 1302.4M223.2 1254.6L184.8 1254.6M198.2 1290.5L184.8 1290.5M184.8 1254.6L184.8 1290.5M174.0 1203.9L132.3 1203.9M184.8 1272.6L132.3 1272.6M132.3 1203.9L132.3 1272.6M479.9 1320.3L282.2 1320.3M479.9 1332.3L282.2 1332.3M282.2 1320.3L282.2 1332.3M479.9 1344.2L256.1 1344.2M479.9 1356.1L256.1 1356.1M256.1 1344.2L256.1 1356.1M479.9 1403.9L322.0 1403.9M479.9 1415.8L322.0 1415.8M322.0 1403.9L322.0 1415.8M479.9 1392.0L296.0 1392.0M322.0 1409.9L296.0 1409.9M296.0 1392.0L296.0 1409.9M479.9 1380.0L272.6 1380.0M296.0 1400.9L272.6 1400.9M272.6 1380.0L272.6 1400.9M479.9 1368.1L245.4 1368.1M272.6 1390.5L245.4 1390.5M245.4 1368.1L245.4 1390.5M256.1 1350.2L221.6 1350.2M245.4 1379.3L221.6 1379.3M221.6 1350.2L221.6 1379.3M282.2 1326.3L203.2 1326.3M221.6 1364.7L203.2 1364.7M203.2 1326.3L203.2 1364.7M479.9 1439.7L382.6 1439.7M479.9 1451.6L382.6 1451.6M382.6 1439.7L382.6 1451.6M479.9 1427.8L293.6 1427.8M382.6 1445.7L293.6 1445.7M293.6 1427.8L293.6 1445.7M479.9 1463.6L292.8 1463.6M479.9 1475.5L292.8 1475.5M292.8 1463.6L292.8 1475.5M479.9 1499.4L336.0 1499.4M479.9 1511.3L336.0 1511.3M336.0 1499.4L336.0 1511.3M479.9 1487.5L249.3 1487.5M336.0 1505.4L249.3 1505.4M249.3 1487.5L249.3 1505.4M292.8 1469.6L244.6 1469.6M249.3 1496.4L244.6 1496.4M244.6 1469.6L244.6 1496.4M293.6 1436.7L224.2 1436.7M244.6 1483.0L224.2 1483.0M224.2 1436.7L224.2 1483.0M479.9 1547.2L365.0 1547.2M479.9 1559.1L365.0 1559.1M365.0 1547.2L365.0 1559.1M479.9 1535.2L313.2 1535.2M365.0 1553.1L313.2 1553.1M313.2 1535.2L313.2 1553.1M479.9 1523.3L267.0 1523.3M313.2 1544.2L267.0 1544.2M267.0 1523.3L267.0 1544.2M479.9 1630.7L380.2 1630.7M479.9 1642.7L380.2 1642.7M380.2 1630.7L380.2 1642.7M479.9 1618.8L376.3 1618.8M380.2 1636.7L376.3 1636.7M376.3 1618.8L376.3 1636.7M479.9 1606.9L356.7 1606.9M376.3 1627.8L356.7 1627.8M356.7 1606.9L356.7 1627.8M479.9 1594.9L303.8 1594.9M356.7 1617.3L303.8 1617.3M303.8 1594.9L303.8 1617.3M479.9 1583.0L281.5 1583.0M303.8 1606.1L281.5 1606.1M281.5 1583.0L281.5 1606.1M479.9 1571.0L250.9 1571.0M281.5 1594.6L250.9 1594.6M250.9 1571.0L250.9 1594.6M267.0 1533.7L239.9 1533.7M250.9 1582.8L239.9 1582.8M239.9 1533.7L239.9 1582.8M479.9 1666.6L358.7 1666.6M479.9 1678.5L358.7 1678.5M358.7 1666.6L358.7 1678.5M479.9 1654.6L283.4 1654.6M358.7 1672.5L283.4 1672.5M283.4 1654.6L283.4 1672.5M479.9 1714.3L412.4 1714.3M479.9 1726.3L412.4 1726.3M412.4 1714.3L412.4 1726.3M479.9 1702.4L347.7 1702.4M412.4 1720.3L347.7 1720.3M347.7 1702.4L347.7 1720.3M479.9 1762.1L412.8 1762.1M479.9 1774.0L412.8 1774.0M412.8 1762.1L412.8 1774.0M479.9 1750.1L346.5 1750.1M412.8 1768.1L346.5 1768.1M346.5 1750.1L346.5 1768.1M479.9 1738.2L327.3 1738.2M346.5 1759.1L327.3 1759.1M327.3 1738.2L327.3 1759.1M347.7 1711.3L311.2 1711.3M327.3 1748.7L311.2 1748.7M311.2 1711.3L311.2 1748.7M479.9 1690.4L298.7 1690.4M311.2 1730.0L298.7 1730.0M298.7 1690.4L298.7 1730.0M283.4 1663.6L262.2 1663.6M298.7 1710.2L262.2 1710.2M262.2 1663.6L262.2 1710.2M239.9 1558.3L229.7 1558.3M262.2 1686.9L229.7 1686.9M229.7 1558.3L229.7 1686.9M479.9 1809.8L355.5 1809.8M479.9 1821.8L355.5 1821.8M355.5 1809.8L355.5 1821.8M479.9 1797.9L308.1 1797.9M355.5 1815.8L308.1 1815.8M308.1 1797.9L308.1 1815.8M479.9 1786.0L275.2 1786.0M308.1 1806.9L275.2 1806.9M275.2 1786.0L275.2 1806.9M479.9 1833.7L285.8 1833.7M479.9 1845.7L285.8 1845.7M285.8 1833.7L285.8 1845.7M479.9 1857.6L312.8 1857.6M479.9 1869.5L312.8 1869.5M312.8 1857.6L312.8 1869.5M479.9 1893.4L356.7 1893.4M479.9 1905.4L356.7 1905.4M356.7 1893.4L356.7 1905.4M479.9 1881.5L317.9 1881.5M356.7 1899.4L317.9 1899.4M317.9 1881.5L317.9 1899.4M312.8 1863.6L297.9 1863.6M317.9 1890.4L297.9 1890.4M297.9 1863.6L297.9 1890.4M285.8 1839.7L253.2 1839.7M297.9 1877.0L253.2 1877.0M253.2 1839.7L253.2 1877.0M479.9 1941.2L344.6 1941.2M479.9 1953.1L344.6 1953.1M344.6 1941.2L344.6 1953.1M479.9 1929.2L312.0 1929.2M344.6 1947.1L312.0 1947.1M312.0 1929.2L312.0 1947.1M479.9 2000.9L473.2 2000.9M479.9 2012.8L473.2 2012.8M473.2 2000.9L473.2 2012.8M479.9 1988.9L411.6 1988.9M473.2 2006.8L411.6 2006.8M411.6 1988.9L411.6 2006.8M479.9 1977.0L381.8 1977.0M411.6 1997.9L381.8 1997.9M381.8 1977.0L381.8 1997.9M479.9 1965.1L312.8 1965.1M381.8 1987.4L312.8 1987.4M312.8 1965.1L312.8 1987.4M312.0 1938.2L294.0 1938.2M312.8 1976.3L294.0 1976.3M294.0 1938.2L294.0 1976.3M479.9 1917.3L271.3 1917.3M294.0 1957.2L271.3 1957.2M271.3 1917.3L271.3 1957.2M479.9 2024.8L340.3 2024.8M479.9 2036.7L340.3 2036.7M340.3 2024.8L340.3 2036.7M479.9 2048.6L384.2 2048.6M479.9 2060.6L384.2 2060.6M384.2 2048.6L384.2 2060.6M479.9 2084.5L475.1 2084.5M479.9 2096.4L475.1 2096.4M475.1 2084.5L475.1 2096.4M479.9 2072.5L383.8 2072.5M475.1 2090.4L383.8 2090.4M383.8 2072.5L383.8 2090.4M384.2 2054.6L357.1 2054.6M383.8 2081.5L357.1 2081.5M357.1 2054.6L357.1 2081.5M340.3 2030.7L324.2 2030.7M357.1 2068.0L324.2 2068.0M324.2 2030.7L324.2 2068.0M479.9 2132.2L406.9 2132.2M479.9 2144.2L406.9 2144.2M406.9 2132.2L406.9 2144.2M479.9 2120.3L364.2 2120.3M406.9 2138.2L364.2 2138.2M364.2 2120.3L364.2 2138.2M479.9 2227.7L479.4 2227.7M479.9 2239.7L479.4 2239.7M479.4 2227.7L479.4 2239.7M479.9 2215.8L477.9 2215.8M479.4 2233.7L477.9 2233.7M477.9 2215.8L477.9 2233.7M479.9 2203.9L473.7 2203.9M477.9 2224.7L473.7 2224.7M473.7 2203.9L473.7 2224.7M479.9 2251.6L478.7 2251.6M479.9 2263.6L478.7 2263.6M478.7 2251.6L478.7 2263.6M479.9 2275.5L479.3 2275.5M479.9 2287.4L479.3 2287.4M479.3 2275.5L479.3 2287.4M478.7 2257.6L476.5 2257.6M479.3 2281.5L476.5 2281.5M476.5 2257.6L476.5 2281.5M473.7 2214.3L469.0 2214.3M476.5 2269.5L469.0 2269.5M469.0 2214.3L469.0 2269.5M479.9 2191.9L414.0 2191.9M469.0 2241.9L414.0 2241.9M414.0 2191.9L414.0 2241.9M479.9 2180.0L385.7 2180.0M414.0 2216.9L385.7 2216.9M385.7 2180.0L385.7 2216.9M479.9 2168.0L382.6 2168.0M385.7 2198.4L382.6 2198.4M382.6 2168.0L382.6 2198.4M479.9 2156.1L377.5 2156.1M382.6 2183.2L377.5 2183.2M377.5 2156.1L377.5 2183.2M364.2 2129.2L342.6 2129.2M377.5 2169.7L342.6 2169.7M342.6 2129.2L342.6 2169.7M479.9 2108.3L318.3 2108.3M342.6 2149.4L318.3 2149.4M318.3 2108.3L318.3 2149.4M324.2 2049.4L286.9 2049.4M318.3 2128.9L286.9 2128.9M286.9 2049.4L286.9 2128.9M271.3 1937.3L258.7 1937.3M286.9 2089.1L258.7 2089.1M258.7 1937.3L258.7 2089.1M253.2 1858.3L230.1 1858.3M258.7 2013.2L230.1 2013.2M230.1 1858.3L230.1 2013.2M275.2 1796.4L205.0 1796.4M230.1 1935.8L205.0 1935.8M205.0 1796.4L205.0 1935.8M229.7 1622.6L200.7 1622.6M205.0 1866.1L200.7 1866.1M200.7 1622.6L200.7 1866.1M224.2 1459.9L186.6 1459.9M200.7 1744.3L186.6 1744.3M186.6 1459.9L186.6 1744.3M203.2 1345.5L164.6 1345.5M186.6 1602.1L164.6 1602.1M164.6 1345.5L164.6 1602.1M132.3 1238.2L84.3 1238.2M164.6 1473.8L84.3 1473.8M84.3 1238.2L84.3 1473.8M106.2 963.7L5.8 963.7M84.3 1356.0L5.8 1356.0M5.8 963.7L5.8 1356.0" stroke="#000" stroke-width="1.7" fill="none" stroke-linecap="square"/>
<circle cx="517.0" cy="443.5" r="9.5" fill="#ff00ff"/>
<circle cx="551.7" cy="443.5" r="9.5" fill="#ff00ff"/>
<circle cx="586.4" cy="443.5" r="9.5" fill="#ff00ff"/>
<circle cx="621.1" cy="443.5" r="9.5" fill="#e8ff00"/>
<circle cx="655.8" cy="443.5" r="9.5" fill="#12ff12"/>
<circle cx="690.5" cy="443.5" r="9.5" fill="#e8ff00"/>
<circle cx="725.2" cy="443.5" r="9.5" fill="#e8ff00"/>
<circle cx="759.9" cy="443.5" r="9.5" fill="#12ff12"/>
<circle cx="794.6" cy="443.5" r="9.5" fill="#ff00ff"/>
<circle cx="829.4" cy="443.5" r="9.5" fill="#e8ff00"/>
<circle cx="864.1" cy="443.5" r="9.5" fill="#12ff12"/>
<circle cx="898.8" cy="443.5" r="9.5" fill="#e8ff00"/>
<circle cx="933.5" cy="443.5" r="9.5" fill="#ff00ff"/>
<circle cx="968.2" cy="443.5" r="9.5" fill="#ff00ff"/>
<circle cx="1002.9" cy="443.5" r="9.5" fill="#ff0000"/>
<circle cx="1037.6" cy="443.5" r="9.5" fill="#ff0000"/>
<circle cx="1072.3" cy="443.5" r="9.5" fill="#12ff12"/>
<circle cx="1107.1" cy="443.5" r="9.5" fill="#ff00ff"/>
<circle cx="1141.8" cy="443.5" r="9.5" fill="#0050ff"/>
<circle cx="1176.5" cy="443.5" r="9.5" fill="#ff0000"/>
<circle cx="1211.2" cy="443.5" r="9.5" fill="#ff0000"/>
<circle cx="1245.9" cy="443.5" r="9.5" fill="#ff0000"/>
<circle cx="1280.6" cy="443.5" r="9.5" fill="#0050ff"/>
<circle cx="1315.3" cy="443.5" r="9.5" fill="#12ff12"/>
<circle cx="1350.0" cy="443.5" r="9.5" fill="#ff00ff"/>
<circle cx="1384.7" cy="443.5" r="9.5" fill="#ff00ff"/>
<circle cx="1419.5" cy="443.5" r="9.5" fill="#ff00ff"/>
<circle cx="1454.2" cy="443.5" r="9.5" fill="#ff00ff"/>
<circle cx="1488.9" cy="443.5" r="9.5" fill="#ff7500"/>
<circle cx="1523.6" cy="443.5" r="9.5" fill="#ff7500"/>
<circle cx="1558.3" cy="443.5" r="9.5" fill="#ff7500"/>
<circle cx="1593.0" cy="443.5" r="9.5" fill="#ff7500"/>
<circle cx="1627.7" cy="443.5" r="9.5" fill="#ff00ff"/>
<circle cx="1662.4" cy="443.5" r="9.5" fill="#ff00ff"/>
<circle cx="1697.1" cy="443.5" r="9.5" fill="#ff7500"/>
<g stroke="#000" fill="none" stroke-linejoin="round" stroke-linecap="butt">
<line x1="514.1" y1="465" x2="1109.2" y2="465" stroke-width="4"/>
<line x1="1140.8" y1="465" x2="1452.6" y2="465" stroke-width="4"/>
<path d="M512.5 476.5 L512.5 510.9 L1456.2 510.9 L1456.2 476.5" stroke-width="4"/>
<path d="M1484 476.5 L1484 510.9 L1702 510.9 L1702 476.5" stroke-width="4"/>
</g>
<g class="r" font-size="40.6" text-anchor="middle" fill="#000" stroke="#000" stroke-width="1.0">
<text x="799.9" y="503.1">I</text>
<text x="1304.1" y="503.1">II</text>
<text x="970.8" y="544.7">1</text>
<text x="1587.1" y="544.7">2</text>
</g>
<circle cx="118.4" cy="160.5" r="9.5" fill="#12ff12"/>
<text class="r" x="134.6" y="170.0" font-size="26.9" stroke="#000" stroke-width="0.35"><tspan font-style="italic">Pyrus bretschneideri</tspan> Rehd.</text>
<circle cx="118.4" cy="190.3" r="9.5" fill="#e8ff00"/>
<text class="r" x="134.6" y="199.4" font-size="26.9" stroke="#000" stroke-width="0.35"><tspan font-style="italic">Pyrus ussuriensis</tspan> Maxim.</text>
<circle cx="118.4" cy="219.7" r="9.5" fill="#ff7500"/>
<text class="r" x="134.6" y="229.4" font-size="26.9" stroke="#000" stroke-width="0.35"><tspan font-style="italic">Pyrus sinkiangensis</tspan> Yü.</text>
<circle cx="118.4" cy="249.3" r="9.5" fill="#ff0000"/>
<text class="r" x="134.6" y="259.8" font-size="26.9" stroke="#000" stroke-width="0.35"><tspan font-style="italic">Pyrus communis</tspan> Linn.</text>
<circle cx="118.4" cy="280.0" r="9.5" fill="#0050ff"/>
<text class="r" x="134.6" y="290.0" font-size="26.9" stroke="#000" stroke-width="0.35"><tspan font-style="italic">Pyrus pyrifolia</tspan> Burm Nakai.</text>
<circle cx="118.4" cy="311.3" r="9.5" fill="#ff00ff"/>
<text class="r" x="134.6" y="322.3" font-size="26.9" stroke="#000" stroke-width="0.35">Hybrid cultivars</text>
<text class="s" x="273.3" y="400.4" font-size="27.3" font-weight="bold" text-anchor="middle">Color Key</text>
<defs><linearGradient id="kg" x1="0" x2="1" y1="0" y2="0"><stop offset="0" stop-color="#2a2aff"/><stop offset="0.5" stop-color="#ffffff"/><stop offset="1" stop-color="#ff2a2a"/></linearGradient></defs>
<rect x="81" y="424.4" width="384.6" height="69.1" fill="url(#kg)" stroke="#000" stroke-width="1.8"/>
<g stroke="#000" stroke-width="1.8">
<line x1="139.7" y1="493.5" x2="139.7" y2="507.6"/>
<line x1="206.5" y1="493.5" x2="206.5" y2="507.6"/>
<line x1="273.1" y1="493.5" x2="273.1" y2="507.6"/>
<line x1="339.9" y1="493.5" x2="339.9" y2="507.6"/>
<line x1="406.7" y1="493.5" x2="406.7" y2="507.6"/>
</g>
<g class="s" font-size="22.5" text-anchor="middle">
<text transform="translate(139.7 542.7) scale(1 1.07)">−4</text>
<text transform="translate(206.5 542.7) scale(1 1.07)">−2</text>
<text transform="translate(273.1 542.7) scale(1 1.07)">0</text>
<text transform="translate(339.9 542.7) scale(1 1.07)">2</text>
<text transform="translate(406.7 542.7) scale(1 1.07)">4</text>
<text transform="translate(273.4 578.3) scale(1 1.07)">Row Z−Score</text>
</g>
<g class="s" font-size="12.5">
<text x="1744.3" y="560.0">102</text>
<text x="1744.3" y="571.9">105</text>
<text x="1744.3" y="583.8">59</text>
<text x="1744.3" y="595.8">61</text>
<text x="1744.3" y="607.7">45</text>
<text x="1744.3" y="619.7">41</text>
<text x="1744.3" y="631.6">19</text>
<text x="1744.3" y="643.5">18</text>
<text x="1744.3" y="655.5">20</text>
<text x="1744.3" y="667.4">136</text>
<text x="1744.3" y="679.4">117</text>
<text x="1744.3" y="691.3">44</text>
<text x="1744.3" y="703.2">43</text>
<text x="1744.3" y="715.2">39</text>
<text x="1744.3" y="727.1">47</text>
<text x="1744.3" y="739.1">137</text>
<text x="1744.3" y="751.0">64</text>
<text x="1744.3" y="762.9">113</text>
<text x="1744.3" y="774.9">33</text>
<text x="1744.3" y="786.8">15</text>
<text x="1744.3" y="798.8">142</text>
<text x="1744.3" y="810.7">42</text>
<text x="1744.3" y="822.6">140</text>
<text x="1744.3" y="834.6">7</text>
<text x="1744.3" y="846.5">8</text>
<text x="1744.3" y="858.5">24</text>
<text x="1744.3" y="870.4">68</text>
<text x="1744.3" y="882.3">90</text>
<text x="1744.3" y="894.3">49</text>
<text x="1744.3" y="906.2">121</text>
<text x="1744.3" y="918.2">12</text>
<text x="1744.3" y="930.1">48</text>
<text x="1744.3" y="942.0">46</text>
<text x="1744.3" y="954.0">93</text>
<text x="1744.3" y="965.9">92</text>
<text x="1744.3" y="977.9">83</text>
<text x="1744.3" y="989.8">82</text>
<text x="1744.3" y="1001.7">95</text>
<text x="1744.3" y="1013.7">81</text>
<text x="1744.3" y="1025.6">56</text>
<text x="1744.3" y="1037.6">40</text>
<text x="1744.3" y="1049.5">73</text>
<text x="1744.3" y="1061.4">97</text>
<text x="1744.3" y="1073.4">17</text>
<text x="1744.3" y="1085.3">34</text>
<text x="1744.3" y="1097.3">71</text>
<text x="1744.3" y="1109.2">94</text>
<text x="1744.3" y="1121.1">10</text>
<text x="1744.3" y="1133.1">58</text>
<text x="1744.3" y="1145.0">89</text>
<text x="1744.3" y="1157.0">70</text>
<text x="1744.3" y="1168.9">27</text>
<text x="1744.3" y="1180.8">100</text>
<text x="1744.3" y="1192.8">79</text>
<text x="1744.3" y="1204.7">14</text>
<text x="1744.3" y="1216.7">76</text>
<text x="1744.3" y="1228.6">145</text>
<text x="1744.3" y="1240.5">26</text>
<text x="1744.3" y="1252.5">101</text>
<text x="1744.3" y="1264.4">25</text>
<text x="1744.3" y="1276.4">5</text>
<text x="1744.3" y="1288.3">2</text>
<text x="1744.3" y="1300.2">6</text>
<text x="1744.3" y="1312.2">13</text>
<text x="1744.3" y="1324.1">86</text>
<text x="1744.3" y="1336.1">22</text>
<text x="1744.3" y="1348.0">21</text>
<text x="1744.3" y="1359.9">9</text>
<text x="1744.3" y="1371.9">3</text>
<text x="1744.3" y="1383.8">11</text>
<text x="1744.3" y="1395.8">116</text>
<text x="1744.3" y="1407.7">135</text>
<text x="1744.3" y="1419.6">4</text>
<text x="1744.3" y="1431.6">96</text>
<text x="1744.3" y="1443.5">55</text>
<text x="1744.3" y="1455.4">133</text>
<text x="1744.3" y="1467.4">112</text>
<text x="1744.3" y="1479.3">65</text>
<text x="1744.3" y="1491.3">125</text>
<text x="1744.3" y="1503.2">77</text>
<text x="1744.3" y="1515.1">119</text>
<text x="1744.3" y="1527.1">85</text>
<text x="1744.3" y="1539.0">1</text>
<text x="1744.3" y="1551.0">29</text>
<text x="1744.3" y="1562.9">131</text>
<text x="1744.3" y="1574.8">126</text>
<text x="1744.3" y="1586.8">72</text>
<text x="1744.3" y="1598.7">104</text>
<text x="1744.3" y="1610.7">114</text>
<text x="1744.3" y="1622.6">75</text>
<text x="1744.3" y="1634.5">107</text>
<text x="1744.3" y="1646.5">129</text>
<text x="1744.3" y="1658.4">141</text>
<text x="1744.3" y="1670.4">144</text>
<text x="1744.3" y="1682.3">103</text>
<text x="1744.3" y="1694.2">143</text>
<text x="1744.3" y="1706.2">54</text>
<text x="1744.3" y="1718.1">78</text>
<text x="1744.3" y="1730.1">127</text>
<text x="1744.3" y="1742.0">36</text>
<text x="1744.3" y="1753.9">66</text>
<text x="1744.3" y="1765.9">57</text>
<text x="1744.3" y="1777.8">69</text>
<text x="1744.3" y="1789.8">123</text>
<text x="1744.3" y="1801.7">108</text>
<text x="1744.3" y="1813.6">35</text>
<text x="1744.3" y="1825.6">122</text>
<text x="1744.3" y="1837.5">23</text>
<text x="1744.3" y="1849.5">99</text>
<text x="1744.3" y="1861.4">16</text>
<text x="1744.3" y="1873.3">91</text>
<text x="1744.3" y="1885.3">50</text>
<text x="1744.3" y="1897.2">106</text>
<text x="1744.3" y="1909.2">110</text>
<text x="1744.3" y="1921.1">118</text>
<text x="1744.3" y="1933.0">109</text>
<text x="1744.3" y="1945.0">130</text>
<text x="1744.3" y="1956.9">138</text>
<text x="1744.3" y="1968.9">67</text>
<text x="1744.3" y="1980.8">63</text>
<text x="1744.3" y="1992.7">139</text>
<text x="1744.3" y="2004.7">60</text>
<text x="1744.3" y="2016.6">62</text>
<text x="1744.3" y="2028.6">74</text>
<text x="1744.3" y="2040.5">88</text>
<text x="1744.3" y="2052.4">32</text>
<text x="1744.3" y="2064.4">98</text>
<text x="1744.3" y="2076.3">146</text>
<text x="1744.3" y="2088.3">52</text>
<text x="1744.3" y="2100.2">53</text>
<text x="1744.3" y="2112.1">120</text>
<text x="1744.3" y="2124.1">37</text>
<text x="1744.3" y="2136.0">84</text>
<text x="1744.3" y="2148.0">115</text>
<text x="1744.3" y="2159.9">87</text>
<text x="1744.3" y="2171.8">134</text>
<text x="1744.3" y="2183.8">28</text>
<text x="1744.3" y="2195.7">30</text>
<text x="1744.3" y="2207.7">124</text>
<text x="1744.3" y="2219.6">111</text>
<text x="1744.3" y="2231.5">80</text>
<text x="1744.3" y="2243.5">132</text>
<text x="1744.3" y="2255.4">38</text>
<text x="1744.3" y="2267.4">51</text>
<text x="1744.3" y="2279.3">128</text>
<text x="1744.3" y="2291.2">31</text>
</g>
<g class="s" font-size="20.3" text-anchor="end">
<text transform="translate(517.2 2324.0) rotate(-90)">Huangguan</text>
<text transform="translate(551.9 2324.0) rotate(-90)">XinliNO.7</text>
<text transform="translate(586.6 2324.0) rotate(-90)">Jinfeng</text>
<text transform="translate(621.3 2324.0) rotate(-90)">Huagai</text>
<text transform="translate(656.0 2324.0) rotate(-90)">Pingguoli</text>
<text transform="translate(690.7 2324.0) rotate(-90)">Hongnanguo</text>
<text transform="translate(725.4 2324.0) rotate(-90)">Nanguoli</text>
<text transform="translate(760.1 2324.0) rotate(-90)">Xuehua</text>
<text transform="translate(794.8 2324.0) rotate(-90)">Hangqing</text>
<text transform="translate(829.6 2324.0) rotate(-90)">Tianjianba</text>
<text transform="translate(864.3 2324.0) rotate(-90)">Qiubai</text>
<text transform="translate(899.0 2324.0) rotate(-90)">Balixiang</text>
<text transform="translate(933.7 2324.0) rotate(-90)">Xueqing</text>
<text transform="translate(968.4 2324.0) rotate(-90)">Xizilü</text>
<text transform="translate(1003.1 2324.0) rotate(-90)">Bartlett.MaxRed</text>
<text transform="translate(1037.8 2324.0) rotate(-90)">AbbeFetel</text>
<text transform="translate(1072.5 2324.0) rotate(-90)">Chili</text>
<text transform="translate(1107.3 2324.0) rotate(-90)">Hongxiangsu</text>
<text transform="translate(1142.0 2324.0) rotate(-90)">Shinseiki</text>
<text transform="translate(1176.7 2324.0) rotate(-90)">RedClappFavorite</text>
<text transform="translate(1211.4 2324.0) rotate(-90)">DocteurJulesGuyot</text>
<text transform="translate(1246.1 2324.0) rotate(-90)">ClappFavorite</text>
<text transform="translate(1280.8 2324.0) rotate(-90)">Kousui</text>
<text transform="translate(1315.5 2324.0) rotate(-90)">Eli</text>
<text transform="translate(1350.2 2324.0) rotate(-90)">Cuiyu</text>
<text transform="translate(1384.9 2324.0) rotate(-90)">Chuxialü</text>
<text transform="translate(1419.7 2324.0) rotate(-90)">Zaosu</text>
<text transform="translate(1454.4 2324.0) rotate(-90)">Cuiguan</text>
<text transform="translate(1489.1 2324.0) rotate(-90)">Kuikeamute</text>
<text transform="translate(1523.8 2324.0) rotate(-90)">Kucheamute</text>
<text transform="translate(1558.5 2324.0) rotate(-90)">Kalaamute</text>
<text transform="translate(1593.2 2324.0) rotate(-90)">lüamute</text>
<text transform="translate(1627.9 2324.0) rotate(-90)">ZhongliNO.2</text>
<text transform="translate(1662.6 2324.0) rotate(-90)">Yuluxiang</text>
<text transform="translate(1697.3 2324.0) rotate(-90)">Kuerle</text>
</g>
</svg></body></html>
